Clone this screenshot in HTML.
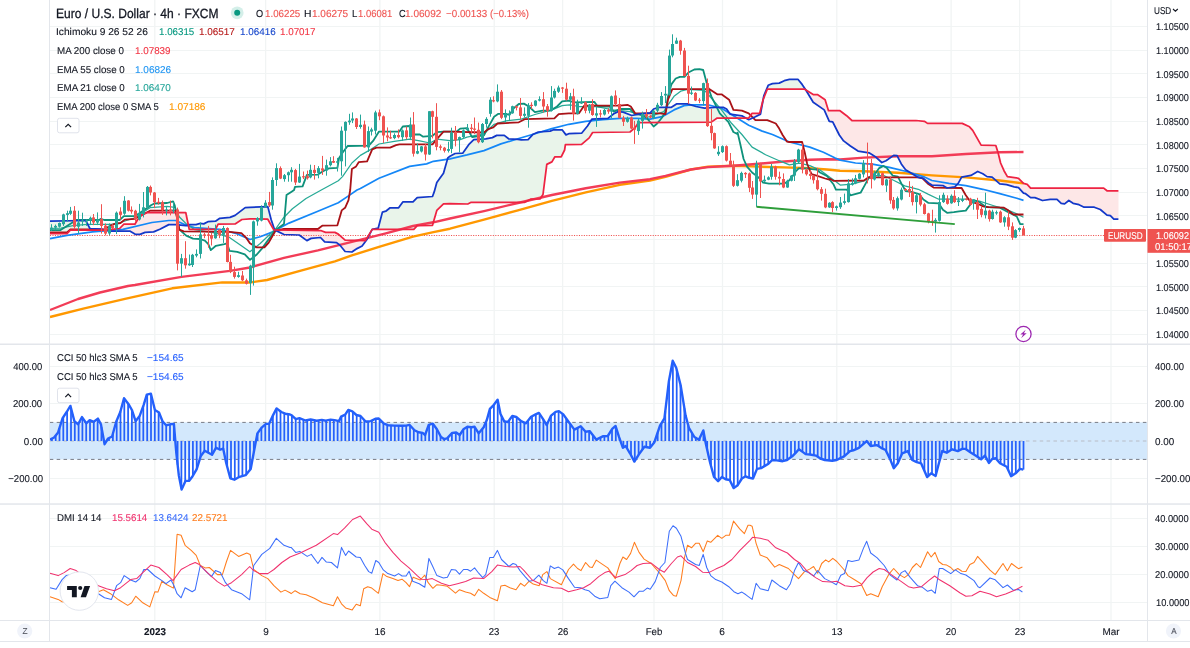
<!DOCTYPE html>
<html lang="en"><head><meta charset="utf-8"><title>EURUSD 4h chart</title>
<style>
html,body{margin:0;padding:0;background:#fff;}
body{width:1190px;height:648px;position:relative;overflow:hidden;font-family:"Liberation Sans",sans-serif;color:#131722;}
svg{position:absolute;left:0;top:0;}
.t{position:absolute;white-space:nowrap;line-height:1;transform:translateY(-50%);text-rendering:geometricPrecision;}
</style></head><body>
<svg width="1190" height="648" viewBox="0 0 1190 648" shape-rendering="auto">
<rect x="154.15" y="0" width="1.3" height="620" fill="#f1f4f4"/>
<rect x="264.95" y="0" width="1.3" height="620" fill="#f1f4f4"/>
<rect x="379.25" y="0" width="1.3" height="620" fill="#f1f4f4"/>
<rect x="493.55" y="0" width="1.3" height="620" fill="#f1f4f4"/>
<rect x="561.95" y="0" width="1.3" height="620" fill="#f1f4f4"/>
<rect x="653.35" y="0" width="1.3" height="620" fill="#f1f4f4"/>
<rect x="721.85" y="0" width="1.3" height="620" fill="#f1f4f4"/>
<rect x="836.15" y="0" width="1.3" height="620" fill="#f1f4f4"/>
<rect x="950.45" y="0" width="1.3" height="620" fill="#f1f4f4"/>
<rect x="1018.95" y="0" width="1.3" height="620" fill="#f1f4f4"/>
<rect x="1110.35" y="0" width="1.3" height="620" fill="#f1f4f4"/>
<rect x="50" y="26" width="1097" height="1" fill="#f1f4f4"/>
<rect x="50" y="50" width="1097" height="1" fill="#f1f4f4"/>
<rect x="50" y="73" width="1097" height="1" fill="#f1f4f4"/>
<rect x="50" y="97" width="1097" height="1" fill="#f1f4f4"/>
<rect x="50" y="121" width="1097" height="1" fill="#f1f4f4"/>
<rect x="50" y="144" width="1097" height="1" fill="#f1f4f4"/>
<rect x="50" y="168" width="1097" height="1" fill="#f1f4f4"/>
<rect x="50" y="192" width="1097" height="1" fill="#f1f4f4"/>
<rect x="50" y="215" width="1097" height="1" fill="#f1f4f4"/>
<rect x="50" y="239" width="1097" height="1" fill="#f1f4f4"/>
<rect x="50" y="263" width="1097" height="1" fill="#f1f4f4"/>
<rect x="50" y="286" width="1097" height="1" fill="#f1f4f4"/>
<rect x="50" y="310" width="1097" height="1" fill="#f1f4f4"/>
<rect x="50" y="334" width="1097" height="1" fill="#f1f4f4"/>
<rect x="50" y="366" width="1097" height="1" fill="#f1f4f4"/>
<rect x="50" y="403" width="1097" height="1" fill="#f1f4f4"/>
<rect x="50" y="478" width="1097" height="1" fill="#f1f4f4"/>
<rect x="50" y="518" width="1097" height="1" fill="#f1f4f4"/>
<rect x="50" y="546" width="1097" height="1" fill="#f1f4f4"/>
<rect x="50" y="574" width="1097" height="1" fill="#f1f4f4"/>
<rect x="50" y="602" width="1097" height="1" fill="#f1f4f4"/>
<path d="M50.0,221.2 L50.5,221.2 L51.0,221.2 L51.5,221.2 L52.0,221.1 L52.5,221.1 L53.0,221.1 L53.5,221.1 L54.0,221.1 L54.5,221.1 L55.0,221.1 L55.5,221.1 L56.0,221.1 L56.5,221.1 L57.0,221.0 L57.5,221.0 L58.0,221.0 L58.5,221.0 L59.0,221.0 L59.5,221.0 L60.0,221.0 L60.5,221.0 L61.0,221.0 L61.5,221.0 L62.0,221.0 L62.5,220.9 L63.0,220.9 L63.5,220.9 L64.0,220.9 L64.5,220.9 L65.0,220.9 L65.5,220.9 L66.0,220.9 L66.5,220.9 L67.0,220.9 L67.5,220.8 L68.0,220.8 L68.5,220.8 L69.0,220.8 L69.5,220.8 L70.0,220.8 L70.5,220.8 L71.0,220.8 L71.5,220.8 L72.0,220.8 L72.5,220.8 L73.0,220.7 L73.5,220.7 L74.0,220.7 L74.5,220.7 L75.0,220.7 L75.5,220.7 L76.0,220.7 L76.5,220.7 L77.0,220.7 L77.5,220.7 L78.0,220.6 L78.5,220.6 L79.0,220.6 L79.5,220.6 L80.0,220.6 L80.5,220.6 L81.0,220.6 L81.5,220.6 L82.0,220.6 L82.5,220.6 L83.0,220.6 L83.5,220.5 L84.0,220.5 L84.5,220.5 L85.0,220.5 L85.5,220.5 L86.0,221.2 L86.5,222.1 L87.0,223.0 L87.5,224.0 L88.0,224.9 L88.5,225.9 L89.0,226.8 L89.5,227.7 L90.0,228.5 L90.5,228.5 L91.0,228.5 L91.5,228.6 L92.0,228.6 L92.5,228.6 L93.0,228.6 L93.5,228.6 L94.0,228.7 L94.5,228.7 L95.0,228.7 L95.5,228.7 L96.0,228.8 L96.5,228.8 L97.0,228.8 L97.5,228.8 L98.0,228.9 L98.5,228.9 L99.0,228.9 L99.5,228.9 L100.0,228.9 L100.5,229.0 L101.0,229.0 L101.5,229.1 L102.0,229.2 L102.5,229.4 L103.0,229.5 L103.5,229.6 L104.0,229.7 L104.5,229.8 L105.0,230.0 L105.0,230.1 L104.5,230.2 L104.0,230.2 L103.5,230.2 L103.0,230.2 L102.5,230.2 L102.0,230.2 L101.5,230.2 L101.0,230.2 L100.5,230.2 L100.0,230.2 L99.5,230.2 L99.0,230.2 L98.5,230.2 L98.0,230.2 L97.5,230.2 L97.0,230.2 L96.5,230.2 L96.0,230.2 L95.5,230.2 L95.0,230.2 L94.5,230.2 L94.0,230.2 L93.5,230.2 L93.0,230.2 L92.5,230.2 L92.0,230.2 L91.5,230.2 L91.0,230.2 L90.5,230.2 L90.0,230.2 L89.5,230.2 L89.0,230.2 L88.5,230.2 L88.0,230.2 L87.5,230.2 L87.0,230.2 L86.5,230.2 L86.0,230.2 L85.5,230.2 L85.0,230.2 L84.5,230.2 L84.0,230.2 L83.5,230.2 L83.0,230.2 L82.5,230.2 L82.0,230.2 L81.5,230.2 L81.0,230.2 L80.5,230.2 L80.0,230.2 L79.5,230.2 L79.0,230.2 L78.5,230.2 L78.0,230.2 L77.5,230.2 L77.0,230.2 L76.5,230.2 L76.0,230.2 L75.5,230.2 L75.0,230.2 L74.5,230.2 L74.0,230.2 L73.5,230.2 L73.0,230.2 L72.5,230.2 L72.0,230.2 L71.5,230.2 L71.0,230.2 L70.5,230.2 L70.0,230.6 L69.5,231.1 L69.0,231.6 L68.5,232.1 L68.0,232.6 L67.5,233.1 L67.0,233.6 L66.5,233.6 L66.0,233.6 L65.5,233.6 L65.0,233.6 L64.5,233.6 L64.0,233.6 L63.5,233.6 L63.0,233.6 L62.5,233.6 L62.0,233.6 L61.5,233.6 L61.0,233.6 L60.5,233.6 L60.0,233.6 L59.5,233.6 L59.0,233.6 L58.5,233.6 L58.0,233.6 L57.5,233.6 L57.0,233.6 L56.5,233.6 L56.0,233.6 L55.5,233.6 L55.0,233.6 L54.5,233.6 L54.0,233.6 L53.5,233.6 L53.0,233.6 L52.5,233.6 L52.0,233.6 L51.5,233.6 L51.0,233.6 L50.5,233.6 L50.0,233.6Z" fill="#e9f4ea" stroke="none"/>
<path d="M188.5,224.8 L189.0,224.6 L189.5,224.6 L190.0,224.6 L190.5,224.6 L191.0,224.6 L191.5,224.6 L192.0,224.6 L192.5,224.6 L193.0,224.6 L193.5,224.6 L194.0,224.6 L194.5,224.6 L195.0,224.6 L195.5,224.6 L196.0,224.6 L196.5,224.4 L197.0,224.3 L197.5,224.2 L198.0,224.0 L198.5,223.9 L199.0,223.7 L199.5,223.6 L200.0,223.5 L200.5,223.4 L201.0,223.5 L201.5,223.6 L202.0,223.6 L202.5,223.7 L203.0,223.8 L203.5,223.9 L204.0,223.7 L204.5,223.5 L205.0,223.2 L205.5,222.9 L206.0,222.7 L206.5,222.4 L207.0,222.2 L207.5,221.9 L208.0,221.7 L208.5,221.6 L209.0,221.6 L209.5,221.6 L210.0,221.5 L210.5,221.5 L211.0,221.5 L211.5,221.4 L212.0,221.4 L212.5,221.4 L213.0,221.3 L213.5,221.3 L214.0,221.3 L214.5,221.2 L215.0,221.2 L215.5,221.2 L216.0,220.9 L216.5,220.5 L217.0,220.2 L217.5,219.8 L218.0,219.5 L218.5,219.2 L219.0,218.8 L219.5,218.5 L220.0,218.3 L220.5,218.2 L221.0,218.2 L221.5,218.2 L222.0,218.1 L222.5,218.1 L223.0,218.0 L223.5,218.0 L224.0,217.9 L224.5,217.9 L225.0,217.9 L225.5,217.8 L226.0,217.8 L226.5,217.7 L227.0,217.7 L227.5,217.7 L228.0,217.6 L228.5,217.6 L229.0,217.5 L229.5,217.5 L230.0,217.4 L230.5,217.2 L231.0,217.0 L231.5,216.8 L232.0,216.6 L232.5,216.4 L233.0,216.2 L233.5,216.0 L234.0,215.8 L234.5,215.6 L235.0,215.4 L235.5,215.1 L236.0,214.7 L236.5,214.3 L237.0,213.9 L237.5,213.5 L238.0,213.2 L238.5,212.8 L239.0,212.4 L239.5,212.0 L240.0,211.6 L240.5,211.2 L241.0,210.9 L241.5,210.5 L242.0,210.1 L242.5,209.7 L243.0,209.3 L243.5,208.9 L244.0,208.6 L244.5,208.2 L245.0,207.8 L245.5,207.6 L246.0,207.5 L246.5,207.5 L247.0,207.5 L247.5,207.4 L248.0,207.4 L248.5,207.4 L249.0,207.3 L249.5,207.3 L250.0,207.3 L250.5,207.2 L251.0,207.2 L251.5,207.2 L252.0,207.2 L252.5,207.2 L253.0,207.2 L253.5,207.1 L254.0,207.1 L254.5,207.1 L255.0,207.1 L255.5,207.1 L256.0,207.0 L256.5,207.0 L257.0,207.0 L257.5,207.0 L258.0,207.0 L258.5,207.0 L259.0,206.9 L259.5,206.9 L260.0,206.9 L260.5,206.9 L261.0,206.9 L261.5,206.9 L262.0,206.8 L262.5,206.8 L263.0,206.8 L263.5,206.8 L264.0,206.8 L264.5,206.8 L265.0,206.7 L265.5,206.7 L266.0,206.7 L266.5,206.7 L267.0,206.7 L267.5,206.6 L268.0,207.3 L268.5,209.2 L269.0,211.2 L269.5,213.1 L270.0,215.0 L270.5,216.9 L271.0,218.9 L271.5,220.5 L272.0,222.0 L272.5,223.5 L273.0,225.0 L273.5,226.5 L274.0,228.0 L274.5,229.5 L274.5,229.9 L274.0,229.9 L273.5,229.4 L273.0,228.5 L272.5,227.6 L272.0,226.7 L271.5,225.8 L271.0,224.9 L270.5,224.0 L270.0,223.1 L269.5,222.2 L269.0,221.3 L268.5,220.4 L268.0,219.5 L267.5,219.2 L267.0,219.2 L266.5,219.2 L266.0,219.2 L265.5,219.1 L265.0,219.1 L264.5,219.1 L264.0,219.1 L263.5,219.1 L263.0,219.1 L262.5,219.1 L262.0,219.1 L261.5,219.1 L261.0,219.0 L260.5,219.0 L260.0,219.0 L259.5,219.0 L259.0,219.0 L258.5,219.0 L258.0,219.0 L257.5,219.0 L257.0,219.0 L256.5,218.9 L256.0,218.9 L255.5,218.9 L255.0,218.9 L254.5,218.9 L254.0,218.9 L253.5,218.9 L253.0,218.9 L252.5,218.9 L252.0,218.8 L251.5,218.8 L251.0,218.8 L250.5,218.8 L250.0,218.8 L249.5,218.8 L249.0,218.9 L248.5,218.9 L248.0,219.0 L247.5,219.0 L247.0,219.1 L246.5,219.1 L246.0,219.1 L245.5,219.2 L245.0,219.2 L244.5,219.3 L244.0,219.3 L243.5,219.3 L243.0,219.4 L242.5,219.4 L242.0,219.5 L241.5,219.7 L241.0,220.0 L240.5,220.4 L240.0,220.7 L239.5,221.0 L239.0,221.3 L238.5,221.7 L238.0,222.0 L237.5,222.3 L237.0,222.6 L236.5,223.0 L236.0,223.3 L235.5,223.6 L235.0,223.9 L234.5,223.9 L234.0,223.9 L233.5,223.9 L233.0,223.9 L232.5,223.9 L232.0,224.0 L231.5,224.0 L231.0,224.0 L230.5,224.0 L230.0,224.0 L229.5,224.0 L229.0,224.0 L228.5,224.0 L228.0,224.0 L227.5,224.0 L227.0,224.1 L226.5,224.1 L226.0,224.1 L225.5,224.1 L225.0,224.1 L224.5,224.1 L224.0,224.1 L223.5,224.1 L223.0,224.1 L222.5,224.1 L222.0,224.2 L221.5,224.2 L221.0,224.2 L220.5,224.2 L220.0,224.2 L219.5,224.2 L219.0,224.2 L218.5,224.2 L218.0,224.4 L217.5,225.4 L217.0,226.4 L216.5,227.4 L216.0,228.4 L215.5,229.3 L215.0,229.3 L214.5,229.3 L214.0,229.3 L213.5,229.3 L213.0,229.3 L212.5,229.3 L212.0,229.3 L211.5,229.3 L211.0,229.3 L210.5,229.3 L210.0,229.3 L209.5,229.3 L209.0,229.3 L208.5,229.3 L208.0,229.3 L207.5,229.3 L207.0,229.3 L206.5,229.3 L206.0,229.3 L205.5,229.3 L205.0,229.3 L204.5,229.3 L204.0,229.3 L203.5,229.3 L203.0,229.3 L202.5,229.3 L202.0,229.3 L201.5,229.3 L201.0,229.3 L200.5,229.3 L200.0,229.3 L199.5,229.3 L199.0,229.3 L198.5,229.3 L198.0,229.3 L197.5,229.3 L197.0,229.3 L196.5,229.3 L196.0,229.3 L195.5,229.3 L195.0,229.3 L194.5,229.3 L194.0,229.3 L193.5,229.3 L193.0,229.3 L192.5,229.3 L192.0,229.3 L191.5,229.3 L191.0,229.3 L190.5,229.3 L190.0,229.3 L189.5,229.3 L189.0,228.3 L188.5,225.8Z" fill="#e9f4ea" stroke="none"/>
<path d="M372.5,229.3 L373.0,229.2 L373.5,229.1 L374.0,229.0 L374.5,228.9 L375.0,228.8 L375.5,228.7 L376.0,228.6 L376.5,228.5 L377.0,228.4 L377.5,228.3 L378.0,228.2 L378.5,227.0 L379.0,225.1 L379.5,223.2 L380.0,221.3 L380.5,219.4 L381.0,217.5 L381.5,215.6 L382.0,213.7 L382.5,212.1 L383.0,211.9 L383.5,211.8 L384.0,211.7 L384.5,211.6 L385.0,211.4 L385.5,211.3 L386.0,211.1 L386.5,210.7 L387.0,210.3 L387.5,209.9 L388.0,209.5 L388.5,209.1 L389.0,208.7 L389.5,208.3 L390.0,207.9 L390.5,207.8 L391.0,207.8 L391.5,207.8 L392.0,207.8 L392.5,207.8 L393.0,207.8 L393.5,207.8 L394.0,207.8 L394.5,207.8 L395.0,207.8 L395.5,207.8 L396.0,207.8 L396.5,207.8 L397.0,207.8 L397.5,207.8 L398.0,207.8 L398.5,207.8 L399.0,207.2 L399.5,206.5 L400.0,205.8 L400.5,205.1 L401.0,204.4 L401.5,203.7 L402.0,203.0 L402.5,202.3 L403.0,201.9 L403.5,201.9 L404.0,201.9 L404.5,201.9 L405.0,201.9 L405.5,201.9 L406.0,201.9 L406.5,201.9 L407.0,201.9 L407.5,201.9 L408.0,201.9 L408.5,201.9 L409.0,201.9 L409.5,201.9 L410.0,201.9 L410.5,201.9 L411.0,201.9 L411.5,201.9 L412.0,201.9 L412.5,201.9 L413.0,201.9 L413.5,201.4 L414.0,200.9 L414.5,200.4 L415.0,199.9 L415.5,199.4 L416.0,198.9 L416.5,198.4 L417.0,197.9 L417.5,197.6 L418.0,197.6 L418.5,197.5 L419.0,197.5 L419.5,197.5 L420.0,197.4 L420.5,197.4 L421.0,197.3 L421.5,197.3 L422.0,197.3 L422.5,197.2 L423.0,197.2 L423.5,197.2 L424.0,197.1 L424.5,197.1 L425.0,197.0 L425.5,197.0 L426.0,197.0 L426.5,196.9 L427.0,196.9 L427.5,196.8 L428.0,196.8 L428.5,196.8 L429.0,196.7 L429.5,196.7 L430.0,196.6 L430.5,196.6 L431.0,196.6 L431.5,196.5 L432.0,196.5 L432.5,196.5 L433.0,195.1 L433.5,193.8 L434.0,192.4 L434.5,190.8 L435.0,189.0 L435.5,187.1 L436.0,185.3 L436.5,183.5 L437.0,182.2 L437.5,181.5 L438.0,180.8 L438.5,180.1 L439.0,179.4 L439.5,178.8 L440.0,178.1 L440.5,177.4 L441.0,176.7 L441.5,176.0 L442.0,175.3 L442.5,174.6 L443.0,173.9 L443.5,173.3 L444.0,171.6 L444.5,169.8 L445.0,168.0 L445.5,166.2 L446.0,164.4 L446.5,162.6 L447.0,160.8 L447.5,159.0 L448.0,157.8 L448.5,157.4 L449.0,157.0 L449.5,156.6 L450.0,156.2 L450.5,156.0 L451.0,155.7 L451.5,155.4 L452.0,155.2 L452.5,154.9 L453.0,154.6 L453.5,154.4 L454.0,154.1 L454.5,153.8 L455.0,153.6 L455.5,153.5 L456.0,153.5 L456.5,153.5 L457.0,153.4 L457.5,153.4 L458.0,153.4 L458.5,153.4 L459.0,153.4 L459.5,153.3 L460.0,153.3 L460.5,153.3 L461.0,153.3 L461.5,153.2 L462.0,153.2 L462.5,153.2 L463.0,152.8 L463.5,152.1 L464.0,151.4 L464.5,150.7 L465.0,150.0 L465.5,149.2 L466.0,148.5 L466.5,147.8 L467.0,147.1 L467.5,146.4 L468.0,145.7 L468.5,145.0 L469.0,144.4 L469.5,143.9 L470.0,143.4 L470.5,142.9 L471.0,142.4 L471.5,141.9 L472.0,141.4 L472.5,140.9 L473.0,140.4 L473.5,139.9 L474.0,139.6 L474.5,139.6 L475.0,139.5 L475.5,139.5 L476.0,139.5 L476.5,139.4 L477.0,139.4 L477.5,139.3 L478.0,139.3 L478.5,139.3 L479.0,139.2 L479.5,139.2 L480.0,139.2 L480.5,139.1 L481.0,139.1 L481.5,139.1 L482.0,139.0 L482.5,139.0 L483.0,139.0 L483.5,138.9 L484.0,138.9 L484.5,138.8 L485.0,138.8 L485.5,138.8 L486.0,138.7 L486.5,138.6 L487.0,138.5 L487.5,138.4 L488.0,138.4 L488.5,138.3 L489.0,138.2 L489.5,138.1 L490.0,138.0 L490.5,137.9 L491.0,137.8 L491.5,137.7 L492.0,137.7 L492.5,137.5 L493.0,137.3 L493.5,137.0 L494.0,136.8 L494.5,136.5 L495.0,136.2 L495.5,136.0 L496.0,135.7 L496.5,135.5 L497.0,135.4 L497.5,135.4 L498.0,135.4 L498.5,135.4 L499.0,135.4 L499.5,135.4 L500.0,135.4 L500.5,135.4 L501.0,135.4 L501.5,135.4 L502.0,135.4 L502.5,135.4 L503.0,135.4 L503.5,135.4 L504.0,135.4 L504.5,135.5 L505.0,135.9 L505.5,136.3 L506.0,136.7 L506.5,137.1 L507.0,137.5 L507.5,137.9 L508.0,138.3 L508.5,138.7 L509.0,138.8 L509.5,138.8 L510.0,138.8 L510.5,138.9 L511.0,138.9 L511.5,138.9 L512.0,138.9 L512.5,139.0 L513.0,139.0 L513.5,139.0 L514.0,139.1 L514.5,139.1 L515.0,139.1 L515.5,139.1 L516.0,139.2 L516.5,139.2 L517.0,139.2 L517.5,139.2 L518.0,139.3 L518.5,139.4 L519.0,139.5 L519.5,139.6 L520.0,139.7 L520.5,139.8 L521.0,139.9 L521.5,139.9 L522.0,139.9 L522.5,139.9 L523.0,139.9 L523.5,139.8 L524.0,139.8 L524.5,139.8 L525.0,139.8 L525.5,139.7 L526.0,139.7 L526.5,139.7 L527.0,139.7 L527.5,139.6 L528.0,139.6 L528.5,139.2 L529.0,138.6 L529.5,138.1 L530.0,137.6 L530.5,137.0 L531.0,136.5 L531.5,136.0 L532.0,135.4 L532.5,134.9 L533.0,134.4 L533.5,134.0 L534.0,133.8 L534.5,133.6 L535.0,133.4 L535.5,133.2 L536.0,133.0 L536.5,132.7 L537.0,132.5 L537.5,132.3 L538.0,132.1 L538.5,132.0 L539.0,131.9 L539.5,131.9 L540.0,131.8 L540.5,131.8 L541.0,131.8 L541.5,131.7 L542.0,131.7 L542.5,131.7 L543.0,131.6 L543.5,131.6 L544.0,131.6 L544.5,131.5 L545.0,131.5 L545.5,131.5 L546.0,131.4 L546.5,131.4 L547.0,131.3 L547.5,131.3 L548.0,131.3 L548.5,131.2 L549.0,131.2 L549.5,131.2 L550.0,131.1 L550.5,131.0 L551.0,130.8 L551.5,130.6 L552.0,130.4 L552.5,130.2 L553.0,130.0 L553.5,129.8 L554.0,129.8 L554.5,129.8 L555.0,129.8 L555.5,129.8 L556.0,129.8 L556.5,129.8 L557.0,129.8 L557.5,129.8 L558.0,129.8 L558.5,129.8 L559.0,129.8 L559.5,129.8 L560.0,129.8 L560.5,129.8 L561.0,129.8 L561.5,129.8 L562.0,129.8 L562.5,130.3 L563.0,131.0 L563.5,131.6 L564.0,132.3 L564.5,133.0 L565.0,133.6 L565.5,134.3 L566.0,134.8 L566.5,134.6 L567.0,134.4 L567.5,134.2 L568.0,134.0 L568.5,133.8 L569.0,133.7 L569.5,133.6 L570.0,133.6 L570.5,133.6 L571.0,133.6 L571.5,133.6 L572.0,133.5 L572.5,133.5 L573.0,133.5 L573.5,133.5 L574.0,133.5 L574.5,133.4 L575.0,133.4 L575.5,133.4 L576.0,133.4 L576.5,133.4 L577.0,133.3 L577.5,133.3 L578.0,133.3 L578.5,133.3 L579.0,133.3 L579.5,133.2 L580.0,133.2 L580.5,133.2 L581.0,133.2 L581.5,133.2 L582.0,132.7 L582.5,132.1 L583.0,131.5 L583.5,130.9 L584.0,130.3 L584.5,129.7 L585.0,129.1 L585.5,128.5 L586.0,127.9 L586.5,127.3 L587.0,126.7 L587.5,126.1 L588.0,125.3 L588.5,124.5 L589.0,123.7 L589.5,122.9 L590.0,122.1 L590.5,121.3 L591.0,120.5 L591.5,119.7 L592.0,119.2 L592.5,119.2 L593.0,119.2 L593.5,119.1 L594.0,119.1 L594.5,119.1 L595.0,119.1 L595.5,119.0 L596.0,119.0 L596.5,119.0 L597.0,119.0 L597.5,118.9 L598.0,118.9 L598.5,118.9 L599.0,118.9 L599.5,118.8 L600.0,118.8 L600.5,118.8 L601.0,118.7 L601.5,118.7 L602.0,118.7 L602.5,118.7 L603.0,118.6 L603.5,118.6 L604.0,118.6 L604.5,118.6 L605.0,118.5 L605.5,118.5 L606.0,118.5 L606.5,118.5 L607.0,118.4 L607.5,118.4 L608.0,118.3 L608.5,117.9 L609.0,117.5 L609.5,117.1 L610.0,116.8 L610.5,116.4 L611.0,116.0 L611.5,115.6 L612.0,115.2 L612.5,114.8 L613.0,114.4 L613.5,114.1 L614.0,113.7 L614.5,113.5 L615.0,113.2 L615.5,112.9 L616.0,112.7 L616.5,112.4 L617.0,112.2 L617.5,111.9 L618.0,111.6 L618.5,111.6 L619.0,111.7 L619.5,111.7 L620.0,111.8 L620.5,111.8 L621.0,111.9 L621.5,111.9 L622.0,112.0 L622.5,112.0 L623.0,112.1 L623.5,112.2 L624.0,112.4 L624.5,112.6 L625.0,112.8 L625.5,113.0 L626.0,113.2 L626.5,113.4 L627.0,113.6 L627.5,113.8 L628.0,114.0 L628.5,114.2 L629.0,114.4 L629.5,114.6 L630.0,114.8 L630.5,115.0 L631.0,115.2 L631.5,115.4 L632.0,115.4 L632.5,115.3 L633.0,115.2 L633.5,115.1 L634.0,115.0 L634.5,114.9 L635.0,114.8 L635.5,114.7 L636.0,114.6 L636.5,114.5 L637.0,114.4 L637.5,114.3 L638.0,114.2 L638.5,114.1 L639.0,114.0 L639.5,113.9 L640.0,113.8 L640.5,113.8 L641.0,113.7 L641.5,113.7 L642.0,113.6 L642.5,113.6 L643.0,113.6 L643.5,113.5 L644.0,113.5 L644.5,113.4 L645.0,113.4 L645.5,113.3 L646.0,113.3 L646.5,113.3 L647.0,113.2 L647.5,113.2 L648.0,113.1 L648.5,113.1 L649.0,113.0 L649.5,113.0 L650.0,113.0 L650.5,112.6 L651.0,112.0 L651.5,111.4 L652.0,110.9 L652.5,110.3 L653.0,109.7 L653.5,109.1 L654.0,108.9 L654.5,108.7 L655.0,108.6 L655.5,108.4 L656.0,108.2 L656.5,108.1 L657.0,107.9 L657.5,107.7 L658.0,107.6 L658.5,107.4 L659.0,107.3 L659.5,107.3 L660.0,107.3 L660.5,107.3 L661.0,107.3 L661.5,107.3 L662.0,107.3 L662.5,107.3 L663.0,107.3 L663.5,107.3 L664.0,107.3 L664.5,107.3 L665.0,107.3 L665.5,107.3 L666.0,107.3 L666.5,107.3 L667.0,107.3 L667.5,107.3 L668.0,107.3 L668.5,107.3 L669.0,107.3 L669.5,107.3 L670.0,107.3 L670.5,107.3 L671.0,107.3 L671.5,107.3 L672.0,106.9 L672.5,106.6 L673.0,106.3 L673.5,105.9 L674.0,105.6 L674.5,105.3 L675.0,104.9 L675.5,104.6 L676.0,104.3 L676.5,103.9 L677.0,103.9 L677.5,103.9 L678.0,103.9 L678.5,103.9 L679.0,103.9 L679.5,103.9 L680.0,103.9 L680.5,103.9 L681.0,103.9 L681.5,103.9 L682.0,103.9 L682.5,103.9 L683.0,103.9 L683.5,103.9 L684.0,103.9 L684.5,103.9 L685.0,103.9 L685.5,103.9 L686.0,103.9 L686.5,103.9 L687.0,103.9 L687.5,103.9 L688.0,104.1 L688.5,104.2 L689.0,104.4 L689.5,104.5 L690.0,104.7 L690.5,104.8 L691.0,105.0 L691.5,105.1 L692.0,105.3 L692.5,105.4 L693.0,105.6 L693.5,105.7 L694.0,105.9 L694.5,106.0 L695.0,106.2 L695.5,106.3 L696.0,106.5 L696.5,106.6 L697.0,106.7 L697.5,106.8 L698.0,106.9 L698.5,107.0 L699.0,107.1 L699.5,107.2 L700.0,107.3 L700.5,107.4 L701.0,107.5 L701.5,107.6 L702.0,107.7 L702.5,107.8 L703.0,107.9 L703.5,108.0 L704.0,108.1 L704.5,108.2 L705.0,108.1 L705.5,108.1 L706.0,108.0 L706.5,108.0 L707.0,107.9 L707.5,107.9 L708.0,107.8 L708.5,107.8 L709.0,107.8 L709.5,107.7 L710.0,107.7 L710.5,107.7 L711.0,107.6 L711.5,107.6 L712.0,107.5 L712.5,107.5 L713.0,107.5 L713.5,107.4 L714.0,107.4 L714.5,107.4 L715.0,107.3 L715.5,107.3 L716.0,107.3 L716.5,107.3 L717.0,107.3 L717.5,107.3 L718.0,107.3 L718.5,107.3 L719.0,107.3 L719.5,107.3 L720.0,107.3 L720.5,107.3 L721.0,107.3 L721.5,107.3 L722.0,107.3 L722.5,107.3 L723.0,107.3 L723.5,107.5 L724.0,107.7 L724.5,108.0 L725.0,108.2 L725.5,108.5 L726.0,108.7 L726.5,109.0 L727.0,109.7 L727.5,110.4 L728.0,111.2 L728.5,111.9 L729.0,112.7 L729.5,113.4 L730.0,114.1 L730.5,114.2 L731.0,114.3 L731.5,114.4 L732.0,114.4 L732.5,114.5 L733.0,114.6 L733.5,114.6 L734.0,114.7 L734.5,114.8 L735.0,114.9 L735.5,114.9 L736.0,115.0 L736.5,115.1 L737.0,115.1 L737.5,115.2 L738.0,115.3 L738.5,115.4 L739.0,115.4 L739.5,115.5 L740.0,115.6 L740.5,115.6 L741.0,115.7 L741.5,115.8 L742.0,115.9 L742.5,116.2 L743.0,116.5 L743.5,116.8 L744.0,117.1 L744.5,117.3 L745.0,117.6 L745.5,117.9 L745.5,118.0 L745.0,118.0 L744.5,118.0 L744.0,118.0 L743.5,118.0 L743.0,118.0 L742.5,118.0 L742.0,118.0 L741.5,118.0 L741.0,118.0 L740.5,118.0 L740.0,118.0 L739.5,118.0 L739.0,118.0 L738.5,118.0 L738.0,118.0 L737.5,118.0 L737.0,118.0 L736.5,118.0 L736.0,118.0 L735.5,118.0 L735.0,118.0 L734.5,118.0 L734.0,118.0 L733.5,118.0 L733.0,118.0 L732.5,118.0 L732.0,118.0 L731.5,118.0 L731.0,118.0 L730.5,118.0 L730.0,118.0 L729.5,118.0 L729.0,118.0 L728.5,118.0 L728.0,118.0 L727.5,118.0 L727.0,118.0 L726.5,118.0 L726.0,118.0 L725.5,118.0 L725.0,118.0 L724.5,118.0 L724.0,118.0 L723.5,118.0 L723.0,118.0 L722.5,118.0 L722.0,118.0 L721.5,118.0 L721.0,118.0 L720.5,118.0 L720.0,118.0 L719.5,118.0 L719.0,118.0 L718.5,118.0 L718.0,118.0 L717.5,118.0 L717.0,118.2 L716.5,118.6 L716.0,118.9 L715.5,119.2 L715.0,119.6 L714.5,119.9 L714.0,120.3 L713.5,120.6 L713.0,121.0 L712.5,121.3 L712.0,121.6 L711.5,122.0 L711.0,122.1 L710.5,122.1 L710.0,122.1 L709.5,122.1 L709.0,122.1 L708.5,122.1 L708.0,122.1 L707.5,122.1 L707.0,122.1 L706.5,122.1 L706.0,122.2 L705.5,122.2 L705.0,122.2 L704.5,122.2 L704.0,122.2 L703.5,122.2 L703.0,122.2 L702.5,122.2 L702.0,122.2 L701.5,122.2 L701.0,122.2 L700.5,122.2 L700.0,122.2 L699.5,122.2 L699.0,122.2 L698.5,122.2 L698.0,122.2 L697.5,122.2 L697.0,122.2 L696.5,122.2 L696.0,122.2 L695.5,122.2 L695.0,122.2 L694.5,122.2 L694.0,122.2 L693.5,122.2 L693.0,122.2 L692.5,122.3 L692.0,122.3 L691.5,122.3 L691.0,122.3 L690.5,122.3 L690.0,122.3 L689.5,122.3 L689.0,122.3 L688.5,122.3 L688.0,122.3 L687.5,122.3 L687.0,122.3 L686.5,122.3 L686.0,122.3 L685.5,122.3 L685.0,122.3 L684.5,122.3 L684.0,122.3 L683.5,122.3 L683.0,122.3 L682.5,122.3 L682.0,122.3 L681.5,122.3 L681.0,122.3 L680.5,122.3 L680.0,122.3 L679.5,122.3 L679.0,122.3 L678.5,122.4 L678.0,122.4 L677.5,122.4 L677.0,122.4 L676.5,122.4 L676.0,122.4 L675.5,122.4 L675.0,122.4 L674.5,122.4 L674.0,122.4 L673.5,122.4 L673.0,122.4 L672.5,122.4 L672.0,122.4 L671.5,122.4 L671.0,122.4 L670.5,122.4 L670.0,122.4 L669.5,122.4 L669.0,122.4 L668.5,122.4 L668.0,122.4 L667.5,122.4 L667.0,122.4 L666.5,122.4 L666.0,122.4 L665.5,122.4 L665.0,122.5 L664.5,122.5 L664.0,122.5 L663.5,122.5 L663.0,122.5 L662.5,122.5 L662.0,122.5 L661.5,122.5 L661.0,122.5 L660.5,122.5 L660.0,122.5 L659.5,122.5 L659.0,122.5 L658.5,122.5 L658.0,122.5 L657.5,122.5 L657.0,122.5 L656.5,122.5 L656.0,122.5 L655.5,122.5 L655.0,122.5 L654.5,122.5 L654.0,122.5 L653.5,122.5 L653.0,122.5 L652.5,122.5 L652.0,122.5 L651.5,122.5 L651.0,122.6 L650.5,122.6 L650.0,122.6 L649.5,122.6 L649.0,122.6 L648.5,122.6 L648.0,122.6 L647.5,122.6 L647.0,122.6 L646.5,122.6 L646.0,122.6 L645.5,122.6 L645.0,122.6 L644.5,122.6 L644.0,122.6 L643.5,122.6 L643.0,122.6 L642.5,122.6 L642.0,122.6 L641.5,122.6 L641.0,122.6 L640.5,122.6 L640.0,122.6 L639.5,122.6 L639.0,122.6 L638.5,122.6 L638.0,123.3 L637.5,124.1 L637.0,124.8 L636.5,125.6 L636.0,126.3 L635.5,127.1 L635.0,127.8 L634.5,128.2 L634.0,128.6 L633.5,129.0 L633.0,129.4 L632.5,129.9 L632.0,130.3 L631.5,130.7 L631.0,131.1 L630.5,131.5 L630.0,131.9 L629.5,132.0 L629.0,132.0 L628.5,132.0 L628.0,132.0 L627.5,132.0 L627.0,132.0 L626.5,132.0 L626.0,132.0 L625.5,132.0 L625.0,132.0 L624.5,132.0 L624.0,132.1 L623.5,132.1 L623.0,132.1 L622.5,132.1 L622.0,132.1 L621.5,132.1 L621.0,132.1 L620.5,132.1 L620.0,132.1 L619.5,132.1 L619.0,132.1 L618.5,132.1 L618.0,132.1 L617.5,132.1 L617.0,132.1 L616.5,132.2 L616.0,132.2 L615.5,132.2 L615.0,132.2 L614.5,132.2 L614.0,132.2 L613.5,132.2 L613.0,132.2 L612.5,132.2 L612.0,132.2 L611.5,132.2 L611.0,132.2 L610.5,132.2 L610.0,132.2 L609.5,132.2 L609.0,132.3 L608.5,132.3 L608.0,132.3 L607.5,132.3 L607.0,132.3 L606.5,132.3 L606.0,132.3 L605.5,132.3 L605.0,132.3 L604.5,132.3 L604.0,132.3 L603.5,132.3 L603.0,132.3 L602.5,132.3 L602.0,132.4 L601.5,132.4 L601.0,132.4 L600.5,132.4 L600.0,132.4 L599.5,132.4 L599.0,132.4 L598.5,132.4 L598.0,132.4 L597.5,132.4 L597.0,132.4 L596.5,132.4 L596.0,132.4 L595.5,132.4 L595.0,132.4 L594.5,132.5 L594.0,132.5 L593.5,132.5 L593.0,132.5 L592.5,132.7 L592.0,133.5 L591.5,134.3 L591.0,135.1 L590.5,135.9 L590.0,136.7 L589.5,137.5 L589.0,138.1 L588.5,138.5 L588.0,138.9 L587.5,139.4 L587.0,139.8 L586.5,140.2 L586.0,140.6 L585.5,141.1 L585.0,141.5 L584.5,141.9 L584.0,142.3 L583.5,142.7 L583.0,143.2 L582.5,143.6 L582.0,144.0 L581.5,144.4 L581.0,144.4 L580.5,144.4 L580.0,144.4 L579.5,144.4 L579.0,144.4 L578.5,144.4 L578.0,144.4 L577.5,144.4 L577.0,144.5 L576.5,144.5 L576.0,144.5 L575.5,144.5 L575.0,144.5 L574.5,144.5 L574.0,144.5 L573.5,144.5 L573.0,144.5 L572.5,144.6 L572.0,144.6 L571.5,144.6 L571.0,144.6 L570.5,144.6 L570.0,144.6 L569.5,144.6 L569.0,144.6 L568.5,144.6 L568.0,144.6 L567.5,144.7 L567.0,144.7 L566.5,144.7 L566.0,144.7 L565.5,144.7 L565.0,147.5 L564.5,150.2 L564.0,151.2 L563.5,152.2 L563.0,153.2 L562.5,154.2 L562.0,155.2 L561.5,156.2 L561.0,156.8 L560.5,156.8 L560.0,156.8 L559.5,156.8 L559.0,156.8 L558.5,156.8 L558.0,156.8 L557.5,156.8 L557.0,156.8 L556.5,156.8 L556.0,156.8 L555.5,156.8 L555.0,156.8 L554.5,157.5 L554.0,158.3 L553.5,159.2 L553.0,160.0 L552.5,160.8 L552.0,161.7 L551.5,162.1 L551.0,162.3 L550.5,162.6 L550.0,162.8 L549.5,163.1 L549.0,163.3 L548.5,163.6 L548.0,163.8 L547.5,164.1 L547.0,164.3 L546.5,166.6 L546.0,170.7 L545.5,174.7 L545.0,178.7 L544.5,182.7 L544.0,186.8 L543.5,190.8 L543.0,194.5 L542.5,195.3 L542.0,196.0 L541.5,196.7 L541.0,197.4 L540.5,198.1 L540.0,198.9 L539.5,198.9 L539.0,198.9 L538.5,199.0 L538.0,199.0 L537.5,199.0 L537.0,199.0 L536.5,199.0 L536.0,199.0 L535.5,199.1 L535.0,199.1 L534.5,199.1 L534.0,199.1 L533.5,199.1 L533.0,199.2 L532.5,199.2 L532.0,199.2 L531.5,199.2 L531.0,199.2 L530.5,199.3 L530.0,199.6 L529.5,199.8 L529.0,200.1 L528.5,200.3 L528.0,200.6 L527.5,200.9 L527.0,201.1 L526.5,201.4 L526.0,201.6 L525.5,201.9 L525.0,202.1 L524.5,202.3 L524.0,202.3 L523.5,202.3 L523.0,202.3 L522.5,202.3 L522.0,202.3 L521.5,202.3 L521.0,202.3 L520.5,202.3 L520.0,202.3 L519.5,202.3 L519.0,202.3 L518.5,202.3 L518.0,202.3 L517.5,202.3 L517.0,202.3 L516.5,202.3 L516.0,202.3 L515.5,202.3 L515.0,202.3 L514.5,202.3 L514.0,202.3 L513.5,202.3 L513.0,202.3 L512.5,202.3 L512.0,202.3 L511.5,202.3 L511.0,202.3 L510.5,202.3 L510.0,202.3 L509.5,202.3 L509.0,202.3 L508.5,202.3 L508.0,202.3 L507.5,202.3 L507.0,202.3 L506.5,202.3 L506.0,202.3 L505.5,202.3 L505.0,202.3 L504.5,202.3 L504.0,202.3 L503.5,202.3 L503.0,202.3 L502.5,202.3 L502.0,202.3 L501.5,202.3 L501.0,202.3 L500.5,202.3 L500.0,202.3 L499.5,202.3 L499.0,202.3 L498.5,202.3 L498.0,202.3 L497.5,202.3 L497.0,202.3 L496.5,202.3 L496.0,202.3 L495.5,202.3 L495.0,202.3 L494.5,202.3 L494.0,202.3 L493.5,202.3 L493.0,202.3 L492.5,202.3 L492.0,202.3 L491.5,202.3 L491.0,202.3 L490.5,202.3 L490.0,202.3 L489.5,202.3 L489.0,202.3 L488.5,202.3 L488.0,202.3 L487.5,202.3 L487.0,202.3 L486.5,202.3 L486.0,202.3 L485.5,202.3 L485.0,202.3 L484.5,202.3 L484.0,202.3 L483.5,202.3 L483.0,202.3 L482.5,202.3 L482.0,202.3 L481.5,202.3 L481.0,202.3 L480.5,202.3 L480.0,202.3 L479.5,202.3 L479.0,202.3 L478.5,202.3 L478.0,202.3 L477.5,202.3 L477.0,202.3 L476.5,202.3 L476.0,202.3 L475.5,202.3 L475.0,202.3 L474.5,202.3 L474.0,202.3 L473.5,202.3 L473.0,202.3 L472.5,202.3 L472.0,202.3 L471.5,202.3 L471.0,202.4 L470.5,202.7 L470.0,202.9 L469.5,203.2 L469.0,203.4 L468.5,203.7 L468.0,203.9 L467.5,204.0 L467.0,204.0 L466.5,204.0 L466.0,203.9 L465.5,203.9 L465.0,203.9 L464.5,203.9 L464.0,203.9 L463.5,203.9 L463.0,203.9 L462.5,203.9 L462.0,203.9 L461.5,203.8 L461.0,203.8 L460.5,203.8 L460.0,203.8 L459.5,203.8 L459.0,203.8 L458.5,203.8 L458.0,203.8 L457.5,203.8 L457.0,203.7 L456.5,203.7 L456.0,203.7 L455.5,203.7 L455.0,203.7 L454.5,203.7 L454.0,203.7 L453.5,203.7 L453.0,203.7 L452.5,203.6 L452.0,203.6 L451.5,203.6 L451.0,203.6 L450.5,203.6 L450.0,203.6 L449.5,203.6 L449.0,203.6 L448.5,203.7 L448.0,203.7 L447.5,203.7 L447.0,203.7 L446.5,203.8 L446.0,203.8 L445.5,203.8 L445.0,203.8 L444.5,203.9 L444.0,203.9 L443.5,204.0 L443.0,204.4 L442.5,204.9 L442.0,205.4 L441.5,205.9 L441.0,206.3 L440.5,206.8 L440.0,207.3 L439.5,207.8 L439.0,208.2 L438.5,208.7 L438.0,209.2 L437.5,209.7 L437.0,210.1 L436.5,211.3 L436.0,213.0 L435.5,214.8 L435.0,216.6 L434.5,218.3 L434.0,220.1 L433.5,221.8 L433.0,223.6 L432.5,225.3 L432.0,225.3 L431.5,225.3 L431.0,225.3 L430.5,225.4 L430.0,225.4 L429.5,225.4 L429.0,225.4 L428.5,225.4 L428.0,225.4 L427.5,225.4 L427.0,225.4 L426.5,225.4 L426.0,225.5 L425.5,225.5 L425.0,225.5 L424.5,225.5 L424.0,225.5 L423.5,225.5 L423.0,225.5 L422.5,225.5 L422.0,225.5 L421.5,225.6 L421.0,225.6 L420.5,225.6 L420.0,225.6 L419.5,225.6 L419.0,225.6 L418.5,225.6 L418.0,225.6 L417.5,225.6 L417.0,225.9 L416.5,226.5 L416.0,227.0 L415.5,227.6 L415.0,228.1 L414.5,228.7 L414.0,229.2 L413.5,229.4 L413.0,229.4 L412.5,229.4 L412.0,229.4 L411.5,229.4 L411.0,229.4 L410.5,229.4 L410.0,229.4 L409.5,229.4 L409.0,229.4 L408.5,229.4 L408.0,229.4 L407.5,229.4 L407.0,229.4 L406.5,229.4 L406.0,229.4 L405.5,229.4 L405.0,229.4 L404.5,229.4 L404.0,229.4 L403.5,229.4 L403.0,229.4 L402.5,229.4 L402.0,229.4 L401.5,229.4 L401.0,229.4 L400.5,229.4 L400.0,229.4 L399.5,229.4 L399.0,229.4 L398.5,229.4 L398.0,229.4 L397.5,229.4 L397.0,229.4 L396.5,229.4 L396.0,229.4 L395.5,229.4 L395.0,229.4 L394.5,229.4 L394.0,229.4 L393.5,229.4 L393.0,229.4 L392.5,229.4 L392.0,229.4 L391.5,229.4 L391.0,229.4 L390.5,229.4 L390.0,229.4 L389.5,229.4 L389.0,229.4 L388.5,229.4 L388.0,229.4 L387.5,229.4 L387.0,229.4 L386.5,229.4 L386.0,229.4 L385.5,229.4 L385.0,229.4 L384.5,229.4 L384.0,229.4 L383.5,229.4 L383.0,229.4 L382.5,229.4 L382.0,229.4 L381.5,229.4 L381.0,229.4 L380.5,229.4 L380.0,229.4 L379.5,229.4 L379.0,229.4 L378.5,229.4 L378.0,229.4 L377.5,229.4 L377.0,229.4 L376.5,229.4 L376.0,229.4 L375.5,229.4 L375.0,229.4 L374.5,229.4 L374.0,229.4 L373.5,229.4 L373.0,229.4 L372.5,229.4Z" fill="#e9f4ea" stroke="none"/>
<path d="M763.5,97.9 L764.0,95.3 L764.5,94.1 L765.0,92.9 L765.5,91.7 L766.0,90.5 L766.5,89.3 L767.0,88.1 L767.5,86.9 L768.0,85.7 L768.5,85.1 L769.0,84.9 L769.5,84.7 L770.0,84.5 L770.5,84.3 L771.0,84.1 L771.5,83.9 L772.0,83.7 L772.5,83.6 L773.0,83.5 L773.5,83.5 L774.0,83.5 L774.5,83.4 L775.0,83.4 L775.5,83.3 L776.0,83.3 L776.5,83.3 L777.0,83.2 L777.5,83.2 L778.0,83.2 L778.5,83.1 L779.0,83.1 L779.5,82.9 L780.0,82.7 L780.5,82.5 L781.0,82.2 L781.5,82.0 L782.0,81.8 L782.5,81.5 L783.0,81.3 L783.5,81.1 L784.0,80.8 L784.5,80.6 L785.0,80.5 L785.5,80.4 L786.0,80.2 L786.5,80.1 L787.0,80.0 L787.5,79.8 L788.0,79.7 L788.5,79.6 L789.0,79.4 L789.5,79.3 L790.0,79.3 L790.5,79.3 L791.0,79.3 L791.5,79.3 L792.0,79.3 L792.5,79.3 L793.0,79.3 L793.5,79.3 L794.0,79.3 L794.5,79.3 L795.0,79.3 L795.5,79.3 L796.0,79.3 L796.5,79.3 L797.0,79.3 L797.5,79.3 L798.0,79.5 L798.5,80.1 L799.0,80.7 L799.5,81.3 L800.0,81.9 L800.5,82.5 L801.0,83.1 L801.5,83.7 L802.0,84.3 L802.5,85.0 L803.0,85.7 L803.5,86.5 L804.0,87.2 L804.5,88.0 L805.0,88.7 L805.5,89.5 L805.5,89.7 L805.0,89.4 L804.5,89.2 L804.0,89.2 L803.5,89.2 L803.0,89.2 L802.5,89.2 L802.0,89.2 L801.5,89.2 L801.0,89.2 L800.5,89.2 L800.0,89.2 L799.5,89.2 L799.0,89.2 L798.5,89.2 L798.0,89.2 L797.5,89.2 L797.0,89.2 L796.5,89.2 L796.0,89.2 L795.5,89.2 L795.0,89.2 L794.5,89.2 L794.0,89.2 L793.5,89.2 L793.0,89.2 L792.5,89.2 L792.0,89.2 L791.5,89.2 L791.0,89.2 L790.5,89.2 L790.0,89.2 L789.5,89.2 L789.0,89.2 L788.5,89.2 L788.0,89.2 L787.5,89.2 L787.0,89.2 L786.5,89.2 L786.0,89.2 L785.5,89.2 L785.0,89.2 L784.5,89.2 L784.0,89.2 L783.5,89.2 L783.0,89.2 L782.5,89.2 L782.0,89.2 L781.5,89.2 L781.0,89.2 L780.5,89.2 L780.0,89.2 L779.5,89.2 L779.0,89.2 L778.5,89.2 L778.0,89.2 L777.5,89.2 L777.0,89.2 L776.5,89.2 L776.0,89.2 L775.5,89.2 L775.0,89.2 L774.5,89.2 L774.0,89.2 L773.5,89.2 L773.0,89.2 L772.5,89.2 L772.0,89.2 L771.5,89.2 L771.0,89.2 L770.5,89.2 L770.0,89.2 L769.5,89.2 L769.0,89.2 L768.5,89.2 L768.0,89.2 L767.5,89.2 L767.0,90.0 L766.5,91.2 L766.0,92.5 L765.5,93.7 L765.0,95.0 L764.5,96.2 L764.0,97.4 L763.5,98.7Z" fill="#e9f4ea" stroke="none"/>
<path d="M105.5,230.1 L106.0,230.2 L106.5,230.3 L107.0,230.4 L107.5,230.6 L108.0,230.7 L108.5,230.8 L109.0,230.9 L109.5,231.0 L110.0,231.0 L110.5,231.0 L111.0,231.0 L111.5,231.0 L112.0,231.0 L112.5,231.0 L113.0,231.0 L113.5,231.0 L114.0,231.0 L114.5,231.0 L115.0,231.0 L115.5,231.0 L116.0,231.0 L116.5,231.0 L117.0,231.0 L117.5,231.0 L118.0,231.0 L118.5,231.0 L119.0,231.0 L119.5,231.0 L120.0,231.0 L120.5,231.0 L121.0,231.0 L121.5,231.0 L122.0,231.0 L122.5,231.0 L123.0,231.0 L123.5,231.0 L124.0,231.0 L124.5,231.0 L125.0,231.0 L125.5,231.0 L126.0,231.0 L126.5,231.0 L127.0,231.0 L127.5,231.0 L128.0,231.0 L128.5,231.0 L129.0,231.0 L129.5,231.0 L130.0,231.1 L130.5,231.4 L131.0,231.7 L131.5,232.0 L132.0,232.3 L132.5,232.6 L133.0,232.9 L133.5,233.1 L134.0,233.4 L134.5,233.7 L135.0,234.0 L135.5,234.3 L136.0,234.4 L136.5,234.4 L137.0,234.4 L137.5,234.4 L138.0,234.4 L138.5,234.4 L139.0,234.4 L139.5,234.4 L140.0,234.4 L140.5,234.2 L141.0,234.0 L141.5,233.8 L142.0,233.6 L142.5,233.4 L143.0,233.2 L143.5,233.0 L144.0,232.8 L144.5,232.6 L145.0,232.4 L145.5,232.4 L146.0,232.3 L146.5,232.3 L147.0,232.3 L147.5,232.2 L148.0,232.2 L148.5,232.2 L149.0,232.1 L149.5,232.1 L150.0,232.1 L150.5,232.1 L151.0,232.0 L151.5,232.0 L152.0,232.0 L152.5,231.9 L153.0,231.9 L153.5,231.9 L154.0,231.7 L154.5,231.5 L155.0,231.3 L155.5,231.1 L156.0,230.8 L156.5,230.6 L157.0,230.4 L157.5,230.2 L158.0,230.0 L158.5,229.8 L159.0,229.6 L159.5,229.4 L160.0,229.1 L160.5,228.9 L161.0,228.7 L161.5,228.4 L162.0,228.1 L162.5,227.9 L163.0,227.6 L163.5,227.4 L164.0,227.1 L164.5,226.8 L165.0,226.6 L165.5,226.3 L166.0,226.1 L166.5,225.8 L167.0,225.5 L167.5,225.3 L168.0,225.0 L168.5,224.8 L169.0,224.6 L169.5,224.6 L170.0,224.6 L170.5,224.6 L171.0,224.6 L171.5,224.6 L172.0,224.6 L172.5,224.6 L173.0,224.6 L173.5,224.6 L174.0,224.6 L174.5,224.6 L175.0,224.6 L175.5,224.6 L176.0,224.6 L176.5,224.7 L177.0,224.7 L177.5,224.8 L178.0,224.8 L178.5,224.9 L179.0,224.9 L179.5,225.0 L180.0,225.0 L180.5,225.1 L181.0,225.1 L181.5,225.2 L182.0,225.2 L182.5,225.3 L183.0,225.3 L183.5,225.4 L184.0,225.4 L184.5,225.5 L185.0,225.5 L185.5,225.6 L186.0,225.5 L186.5,225.4 L187.0,225.2 L187.5,225.1 L188.0,224.9 L188.0,223.4 L187.5,220.9 L187.0,218.5 L186.5,216.0 L186.0,213.6 L185.5,212.7 L185.0,212.7 L184.5,212.7 L184.0,212.7 L183.5,212.7 L183.0,212.7 L182.5,212.7 L182.0,212.7 L181.5,212.6 L181.0,212.6 L180.5,212.6 L180.0,212.6 L179.5,212.6 L179.0,212.6 L178.5,212.6 L178.0,212.6 L177.5,212.6 L177.0,212.6 L176.5,212.6 L176.0,212.6 L175.5,212.6 L175.0,212.6 L174.5,212.6 L174.0,212.6 L173.5,212.6 L173.0,212.6 L172.5,212.6 L172.0,212.6 L171.5,212.5 L171.0,212.5 L170.5,212.5 L170.0,212.5 L169.5,212.5 L169.0,212.5 L168.5,212.5 L168.0,212.5 L167.5,212.5 L167.0,212.5 L166.5,212.5 L166.0,212.5 L165.5,212.5 L165.0,212.5 L164.5,212.5 L164.0,212.5 L163.5,212.5 L163.0,212.5 L162.5,212.5 L162.0,212.5 L161.5,212.4 L161.0,212.4 L160.5,212.4 L160.0,212.4 L159.5,212.4 L159.0,212.4 L158.5,212.4 L158.0,212.4 L157.5,212.4 L157.0,212.4 L156.5,212.4 L156.0,212.4 L155.5,212.4 L155.0,212.4 L154.5,212.4 L154.0,212.4 L153.5,212.4 L153.0,212.4 L152.5,212.4 L152.0,212.4 L151.5,212.4 L151.0,212.4 L150.5,212.4 L150.0,212.5 L149.5,212.5 L149.0,212.5 L148.5,212.6 L148.0,212.6 L147.5,212.6 L147.0,212.7 L146.5,212.8 L146.0,213.0 L145.5,213.2 L145.0,213.5 L144.5,213.7 L144.0,213.9 L143.5,214.1 L143.0,214.3 L142.5,214.5 L142.0,214.8 L141.5,215.1 L141.0,215.7 L140.5,216.3 L140.0,216.9 L139.5,217.5 L139.0,218.1 L138.5,218.7 L138.0,219.3 L137.5,219.9 L137.0,220.7 L136.5,221.6 L136.0,222.4 L135.5,223.2 L135.0,224.1 L134.5,224.2 L134.0,224.2 L133.5,224.2 L133.0,224.2 L132.5,224.2 L132.0,224.2 L131.5,224.2 L131.0,224.2 L130.5,224.2 L130.0,224.2 L129.5,224.2 L129.0,224.2 L128.5,224.2 L128.0,224.2 L127.5,224.2 L127.0,224.2 L126.5,224.2 L126.0,224.2 L125.5,224.2 L125.0,224.2 L124.5,224.2 L124.0,224.2 L123.5,224.6 L123.0,225.1 L122.5,225.6 L122.0,226.1 L121.5,226.6 L121.0,227.1 L120.5,227.6 L120.0,228.1 L119.5,228.5 L119.0,228.5 L118.5,228.6 L118.0,228.7 L117.5,228.7 L117.0,228.8 L116.5,228.8 L116.0,228.9 L115.5,228.9 L115.0,229.0 L114.5,229.0 L114.0,229.1 L113.5,229.2 L113.0,229.2 L112.5,229.3 L112.0,229.3 L111.5,229.4 L111.0,229.4 L110.5,229.5 L110.0,229.5 L109.5,229.6 L109.0,229.7 L108.5,229.7 L108.0,229.8 L107.5,229.8 L107.0,229.9 L106.5,229.9 L106.0,230.0 L105.5,230.0Z" fill="#fde7e7" stroke="none"/>
<path d="M275.0,230.1 L275.5,230.3 L276.0,230.6 L276.5,230.8 L277.0,231.1 L277.5,231.3 L278.0,231.6 L278.5,231.8 L279.0,232.0 L279.5,232.3 L280.0,232.5 L280.5,232.8 L281.0,233.0 L281.5,233.3 L282.0,233.5 L282.5,233.8 L283.0,234.0 L283.5,234.3 L284.0,234.5 L284.5,234.5 L285.0,234.5 L285.5,234.5 L286.0,234.6 L286.5,234.6 L287.0,234.6 L287.5,234.6 L288.0,234.6 L288.5,234.6 L289.0,234.7 L289.5,234.7 L290.0,234.7 L290.5,234.7 L291.0,234.7 L291.5,234.7 L292.0,234.8 L292.5,234.8 L293.0,234.8 L293.5,234.8 L294.0,234.8 L294.5,234.8 L295.0,234.9 L295.5,234.9 L296.0,234.9 L296.5,234.9 L297.0,234.9 L297.5,234.9 L298.0,235.0 L298.5,235.0 L299.0,235.0 L299.5,235.2 L300.0,235.6 L300.5,235.9 L301.0,236.3 L301.5,236.7 L302.0,237.0 L302.5,237.4 L303.0,237.8 L303.5,238.1 L304.0,238.5 L304.5,238.9 L305.0,239.2 L305.5,239.6 L306.0,240.0 L306.5,240.3 L307.0,240.5 L307.5,240.3 L308.0,240.0 L308.5,239.7 L309.0,239.5 L309.5,239.2 L310.0,239.0 L310.5,238.7 L311.0,238.4 L311.5,238.4 L312.0,238.3 L312.5,238.3 L313.0,238.2 L313.5,238.2 L314.0,238.1 L314.5,238.1 L315.0,238.0 L315.5,238.0 L316.0,237.9 L316.5,237.9 L317.0,237.9 L317.5,237.8 L318.0,237.8 L318.5,237.7 L319.0,237.7 L319.5,237.6 L320.0,237.6 L320.5,237.6 L321.0,238.1 L321.5,238.6 L322.0,239.1 L322.5,239.6 L323.0,240.1 L323.5,240.6 L324.0,241.1 L324.5,241.6 L325.0,241.8 L325.5,241.8 L326.0,241.9 L326.5,241.9 L327.0,241.9 L327.5,242.0 L328.0,242.0 L328.5,242.1 L329.0,242.1 L329.5,242.1 L330.0,242.2 L330.5,242.2 L331.0,242.2 L331.5,242.3 L332.0,242.3 L332.5,242.3 L333.0,242.4 L333.5,242.4 L334.0,242.4 L334.5,242.5 L335.0,242.5 L335.5,242.6 L336.0,242.6 L336.5,242.6 L337.0,242.9 L337.5,243.3 L338.0,243.7 L338.5,244.1 L339.0,244.4 L339.5,244.8 L340.0,245.2 L340.5,245.8 L341.0,246.4 L341.5,247.0 L342.0,247.7 L342.5,248.3 L343.0,248.9 L343.5,249.5 L344.0,250.1 L344.5,250.7 L345.0,251.4 L345.5,251.5 L346.0,251.5 L346.5,251.6 L347.0,251.6 L347.5,251.6 L348.0,251.7 L348.5,251.7 L349.0,251.8 L349.5,251.8 L350.0,251.8 L350.5,251.9 L351.0,251.9 L351.5,251.9 L352.0,251.9 L352.5,251.5 L353.0,251.2 L353.5,250.9 L354.0,250.5 L354.5,250.2 L355.0,249.9 L355.5,249.5 L356.0,249.2 L356.5,248.9 L357.0,248.6 L357.5,248.3 L358.0,248.1 L358.5,247.8 L359.0,247.6 L359.5,247.3 L360.0,247.1 L360.5,246.8 L361.0,246.6 L361.5,246.3 L362.0,246.1 L362.5,245.4 L363.0,244.8 L363.5,244.1 L364.0,243.4 L364.5,242.8 L365.0,242.1 L365.5,241.4 L366.0,240.8 L366.5,240.1 L367.0,239.4 L367.5,238.6 L368.0,237.6 L368.5,236.6 L369.0,235.7 L369.5,234.7 L370.0,233.7 L370.5,232.8 L371.0,231.8 L371.5,230.8 L372.0,229.9 L372.0,229.8 L371.5,230.6 L371.0,231.4 L370.5,232.3 L370.0,233.1 L369.5,233.9 L369.0,234.7 L368.5,235.6 L368.0,236.4 L367.5,237.2 L367.0,238.0 L366.5,238.9 L366.0,239.7 L365.5,240.5 L365.0,240.6 L364.5,240.6 L364.0,240.6 L363.5,240.5 L363.0,240.5 L362.5,240.5 L362.0,240.5 L361.5,240.5 L361.0,240.5 L360.5,240.5 L360.0,240.5 L359.5,240.4 L359.0,240.4 L358.5,240.4 L358.0,240.4 L357.5,240.4 L357.0,240.4 L356.5,240.4 L356.0,240.4 L355.5,240.3 L355.0,240.3 L354.5,240.3 L354.0,240.3 L353.5,240.3 L353.0,240.3 L352.5,240.3 L352.0,240.3 L351.5,240.2 L351.0,240.2 L350.5,240.2 L350.0,240.2 L349.5,240.2 L349.0,240.2 L348.5,240.2 L348.0,240.2 L347.5,240.1 L347.0,240.1 L346.5,240.1 L346.0,240.1 L345.5,240.1 L345.0,240.0 L344.5,239.6 L344.0,239.1 L343.5,238.7 L343.0,238.3 L342.5,237.8 L342.0,237.4 L341.5,237.0 L341.0,236.5 L340.5,236.1 L340.0,235.6 L339.5,235.2 L339.0,234.8 L338.5,234.3 L338.0,234.0 L337.5,233.8 L337.0,233.5 L336.5,233.2 L336.0,233.0 L335.5,232.8 L335.0,232.5 L334.5,232.4 L334.0,232.4 L333.5,232.4 L333.0,232.4 L332.5,232.4 L332.0,232.4 L331.5,232.4 L331.0,232.4 L330.5,232.4 L330.0,232.4 L329.5,232.4 L329.0,232.4 L328.5,232.4 L328.0,232.4 L327.5,232.4 L327.0,232.4 L326.5,232.4 L326.0,232.4 L325.5,232.4 L325.0,232.2 L324.5,232.0 L324.0,231.8 L323.5,231.6 L323.0,231.4 L322.5,231.2 L322.0,231.0 L321.5,230.8 L321.0,230.7 L320.5,230.7 L320.0,230.7 L319.5,230.7 L319.0,230.7 L318.5,230.7 L318.0,230.7 L317.5,230.7 L317.0,230.7 L316.5,230.7 L316.0,230.7 L315.5,230.6 L315.0,230.6 L314.5,230.6 L314.0,230.6 L313.5,230.6 L313.0,230.6 L312.5,230.6 L312.0,230.6 L311.5,230.6 L311.0,230.6 L310.5,230.6 L310.0,230.5 L309.5,230.5 L309.0,230.5 L308.5,230.5 L308.0,230.5 L307.5,230.5 L307.0,230.5 L306.5,230.5 L306.0,230.5 L305.5,230.5 L305.0,230.5 L304.5,230.4 L304.0,230.4 L303.5,230.4 L303.0,230.4 L302.5,230.4 L302.0,230.4 L301.5,230.4 L301.0,230.4 L300.5,230.4 L300.0,230.4 L299.5,230.4 L299.0,230.3 L298.5,230.3 L298.0,230.3 L297.5,230.3 L297.0,230.3 L296.5,230.3 L296.0,230.3 L295.5,230.3 L295.0,230.3 L294.5,230.3 L294.0,230.3 L293.5,230.3 L293.0,230.2 L292.5,230.2 L292.0,230.2 L291.5,230.2 L291.0,230.2 L290.5,230.2 L290.0,230.2 L289.5,230.2 L289.0,230.2 L288.5,230.2 L288.0,230.2 L287.5,230.1 L287.0,230.1 L286.5,230.1 L286.0,230.1 L285.5,230.1 L285.0,230.1 L284.5,230.1 L284.0,230.1 L283.5,230.1 L283.0,230.1 L282.5,230.1 L282.0,230.0 L281.5,230.0 L281.0,230.0 L280.5,230.0 L280.0,230.0 L279.5,230.0 L279.0,230.0 L278.5,230.0 L278.0,230.0 L277.5,230.0 L277.0,230.0 L276.5,229.9 L276.0,229.9 L275.5,229.9 L275.0,229.9Z" fill="#fde7e7" stroke="none"/>
<path d="M746.0,118.2 L746.5,118.5 L747.0,118.8 L747.5,119.1 L748.0,119.4 L748.5,119.6 L749.0,119.6 L749.5,119.4 L750.0,119.1 L750.5,118.9 L751.0,118.7 L751.5,118.5 L752.0,118.2 L752.5,118.0 L753.0,117.8 L753.5,117.6 L754.0,117.3 L754.5,117.1 L755.0,116.9 L755.5,116.7 L756.0,116.4 L756.5,116.2 L757.0,115.9 L757.5,115.7 L758.0,115.4 L758.5,115.2 L759.0,114.9 L759.5,114.7 L760.0,114.4 L760.5,114.2 L761.0,111.6 L761.5,108.9 L762.0,106.1 L762.5,103.4 L763.0,100.6 L763.0,100.1 L762.5,102.1 L762.0,104.1 L761.5,106.1 L761.0,108.1 L760.5,110.1 L760.0,112.1 L759.5,113.3 L759.0,113.3 L758.5,113.3 L758.0,113.3 L757.5,113.3 L757.0,113.3 L756.5,113.3 L756.0,113.3 L755.5,113.3 L755.0,113.3 L754.5,113.3 L754.0,113.3 L753.5,113.3 L753.0,113.3 L752.5,113.3 L752.0,113.4 L751.5,114.1 L751.0,114.8 L750.5,115.5 L750.0,116.2 L749.5,116.9 L749.0,117.6 L748.5,118.0 L748.0,118.0 L747.5,118.0 L747.0,118.0 L746.5,118.0 L746.0,118.0Z" fill="#fde7e7" stroke="none"/>
<path d="M806.0,90.3 L806.5,91.1 L807.0,92.0 L807.5,92.8 L808.0,93.6 L808.5,94.5 L809.0,95.3 L809.5,96.1 L810.0,97.0 L810.5,97.8 L811.0,98.6 L811.5,99.5 L812.0,100.3 L812.5,101.1 L813.0,102.0 L813.5,102.5 L814.0,102.8 L814.5,103.2 L815.0,103.5 L815.5,103.9 L816.0,104.2 L816.5,104.6 L817.0,104.9 L817.5,105.2 L818.0,105.6 L818.5,105.9 L819.0,106.3 L819.5,106.6 L820.0,107.0 L820.5,107.3 L821.0,107.7 L821.5,108.0 L822.0,108.4 L822.5,108.7 L823.0,109.1 L823.5,109.4 L824.0,109.7 L824.5,110.5 L825.0,111.7 L825.5,112.8 L826.0,113.9 L826.5,115.1 L827.0,116.2 L827.5,117.3 L828.0,118.5 L828.5,119.6 L829.0,120.7 L829.5,121.5 L830.0,121.5 L830.5,121.6 L831.0,121.6 L831.5,121.7 L832.0,121.7 L832.5,121.8 L833.0,122.4 L833.5,123.4 L834.0,124.4 L834.5,125.4 L835.0,126.4 L835.5,127.4 L836.0,128.4 L836.5,129.4 L837.0,130.4 L837.5,131.4 L838.0,132.4 L838.5,133.4 L839.0,134.3 L839.5,135.2 L840.0,135.9 L840.5,136.6 L841.0,137.3 L841.5,138.0 L842.0,138.7 L842.5,139.4 L843.0,140.1 L843.5,140.8 L844.0,141.3 L844.5,141.6 L845.0,142.0 L845.5,142.4 L846.0,142.8 L846.5,143.1 L847.0,143.5 L847.5,143.9 L848.0,144.3 L848.5,144.6 L849.0,145.0 L849.5,145.4 L850.0,145.8 L850.5,146.1 L851.0,146.5 L851.5,146.8 L852.0,147.1 L852.5,147.5 L853.0,147.8 L853.5,148.1 L854.0,148.5 L854.5,148.8 L855.0,149.1 L855.5,149.5 L856.0,149.8 L856.5,150.1 L857.0,150.5 L857.5,150.8 L858.0,151.1 L858.5,151.2 L859.0,151.3 L859.5,151.4 L860.0,151.4 L860.5,151.5 L861.0,151.6 L861.5,151.7 L862.0,151.7 L862.5,151.8 L863.0,151.9 L863.5,152.0 L864.0,152.1 L864.5,152.1 L865.0,152.2 L865.5,152.3 L866.0,152.4 L866.5,152.4 L867.0,152.5 L867.5,152.6 L868.0,152.7 L868.5,152.7 L869.0,152.8 L869.5,153.1 L870.0,153.4 L870.5,153.7 L871.0,154.0 L871.5,154.4 L872.0,154.7 L872.5,155.0 L873.0,155.3 L873.5,155.6 L874.0,155.9 L874.5,156.2 L875.0,156.5 L875.5,156.9 L876.0,157.2 L876.5,157.7 L877.0,158.1 L877.5,158.6 L878.0,159.0 L878.5,159.5 L879.0,160.0 L879.5,160.4 L880.0,160.9 L880.5,161.3 L881.0,161.8 L881.5,162.2 L882.0,162.4 L882.5,162.2 L883.0,162.0 L883.5,161.8 L884.0,161.6 L884.5,161.4 L885.0,161.2 L885.5,161.0 L886.0,160.8 L886.5,160.5 L887.0,160.1 L887.5,159.8 L888.0,159.4 L888.5,159.0 L889.0,158.7 L889.5,158.3 L890.0,158.0 L890.5,157.6 L891.0,157.3 L891.5,156.9 L892.0,156.6 L892.5,156.2 L893.0,155.8 L893.5,155.5 L894.0,155.4 L894.5,155.5 L895.0,155.5 L895.5,155.6 L896.0,155.6 L896.5,155.7 L897.0,155.7 L897.5,156.6 L898.0,157.5 L898.5,158.5 L899.0,159.4 L899.5,160.4 L900.0,161.4 L900.5,162.3 L901.0,163.3 L901.5,164.1 L902.0,164.8 L902.5,165.5 L903.0,166.2 L903.5,166.9 L904.0,167.6 L904.5,168.3 L905.0,169.0 L905.5,169.7 L906.0,170.1 L906.5,170.4 L907.0,170.7 L907.5,171.0 L908.0,171.3 L908.5,171.6 L909.0,171.9 L909.5,172.2 L910.0,172.5 L910.5,172.8 L911.0,173.1 L911.5,173.4 L912.0,173.7 L912.5,174.0 L913.0,174.3 L913.5,174.6 L914.0,174.9 L914.5,175.2 L915.0,175.5 L915.5,175.8 L916.0,176.1 L916.5,176.4 L917.0,176.7 L917.5,177.0 L918.0,177.3 L918.5,177.5 L919.0,177.6 L919.5,177.6 L920.0,177.7 L920.5,177.8 L921.0,177.9 L921.5,178.0 L922.0,178.1 L922.5,178.1 L923.0,178.2 L923.5,178.4 L924.0,178.9 L924.5,179.3 L925.0,179.8 L925.5,180.2 L926.0,180.7 L926.5,181.1 L927.0,181.6 L927.5,182.0 L928.0,182.5 L928.5,182.9 L929.0,183.2 L929.5,183.5 L930.0,183.9 L930.5,184.2 L931.0,184.5 L931.5,184.8 L932.0,185.1 L932.5,185.1 L933.0,185.1 L933.5,185.2 L934.0,185.2 L934.5,185.2 L935.0,185.2 L935.5,185.3 L936.0,185.3 L936.5,185.3 L937.0,185.3 L937.5,185.3 L938.0,185.4 L938.5,185.4 L939.0,185.4 L939.5,185.4 L940.0,185.5 L940.5,185.5 L941.0,185.5 L941.5,185.5 L942.0,185.6 L942.5,185.6 L943.0,185.6 L943.5,185.9 L944.0,186.2 L944.5,186.5 L945.0,186.8 L945.5,187.0 L946.0,187.3 L946.5,187.6 L947.0,187.9 L947.5,187.9 L948.0,187.8 L948.5,187.8 L949.0,187.7 L949.5,187.6 L950.0,187.5 L950.5,187.4 L951.0,187.4 L951.5,187.3 L952.0,187.2 L952.5,187.1 L953.0,187.1 L953.5,187.0 L954.0,186.9 L954.5,186.8 L955.0,186.6 L955.5,186.1 L956.0,185.6 L956.5,185.1 L957.0,184.6 L957.5,184.1 L958.0,183.6 L958.5,182.8 L959.0,181.9 L959.5,181.0 L960.0,180.0 L960.5,179.1 L961.0,178.2 L961.5,177.3 L962.0,177.0 L962.5,176.9 L963.0,176.8 L963.5,176.8 L964.0,176.7 L964.5,176.6 L965.0,176.5 L965.5,176.4 L966.0,176.3 L966.5,176.2 L967.0,176.1 L967.5,176.0 L968.0,175.9 L968.5,175.8 L969.0,175.8 L969.5,175.7 L970.0,175.6 L970.5,175.5 L971.0,175.4 L971.5,175.1 L972.0,174.8 L972.5,174.5 L973.0,174.2 L973.5,173.9 L974.0,173.6 L974.5,173.3 L975.0,173.1 L975.5,172.8 L976.0,172.5 L976.5,172.2 L977.0,171.9 L977.5,171.6 L978.0,171.6 L978.5,171.8 L979.0,172.1 L979.5,172.3 L980.0,172.5 L980.5,172.7 L981.0,172.9 L981.5,173.1 L982.0,173.4 L982.5,173.6 L983.0,173.8 L983.5,174.2 L984.0,174.5 L984.5,174.9 L985.0,175.2 L985.5,175.5 L986.0,175.9 L986.5,176.2 L987.0,176.6 L987.5,176.6 L988.0,176.7 L988.5,176.7 L989.0,176.8 L989.5,176.8 L990.0,176.9 L990.5,176.9 L991.0,177.0 L991.5,177.0 L992.0,177.1 L992.5,177.4 L993.0,177.9 L993.5,178.3 L994.0,178.8 L994.5,179.2 L995.0,179.6 L995.5,180.1 L996.0,180.5 L996.5,181.0 L997.0,181.4 L997.5,181.9 L998.0,182.3 L998.5,182.8 L999.0,183.2 L999.5,183.6 L1000.0,183.9 L1000.5,184.0 L1001.0,184.0 L1001.5,184.1 L1002.0,184.1 L1002.5,184.2 L1003.0,184.2 L1003.5,184.3 L1004.0,184.3 L1004.5,184.4 L1005.0,184.4 L1005.5,184.5 L1006.0,184.5 L1006.5,184.6 L1007.0,184.7 L1007.5,184.8 L1008.0,185.0 L1008.5,185.1 L1009.0,185.3 L1009.5,185.4 L1010.0,185.6 L1010.5,185.7 L1011.0,185.9 L1011.5,186.0 L1012.0,186.1 L1012.5,186.3 L1013.0,186.4 L1013.5,186.6 L1014.0,186.7 L1014.5,186.8 L1015.0,186.9 L1015.5,187.0 L1016.0,187.1 L1016.5,187.2 L1017.0,187.3 L1017.5,187.4 L1018.0,187.5 L1018.5,187.7 L1019.0,188.2 L1019.5,188.7 L1020.0,189.3 L1020.5,189.8 L1021.0,190.3 L1021.5,190.9 L1022.0,191.4 L1022.5,191.9 L1023.0,192.5 L1023.5,193.0 L1024.0,193.2 L1024.5,193.4 L1025.0,193.5 L1025.5,193.7 L1026.0,194.0 L1026.5,194.4 L1027.0,194.8 L1027.5,195.2 L1028.0,195.5 L1028.5,195.9 L1029.0,196.3 L1029.5,196.7 L1030.0,197.1 L1030.5,197.5 L1031.0,197.6 L1031.5,197.6 L1032.0,197.6 L1032.5,197.6 L1033.0,197.6 L1033.5,197.6 L1034.0,197.6 L1034.5,197.6 L1035.0,197.6 L1035.5,197.8 L1036.0,198.0 L1036.5,198.2 L1037.0,198.4 L1037.5,198.6 L1038.0,198.7 L1038.5,198.9 L1039.0,199.1 L1039.5,199.3 L1040.0,199.5 L1040.5,199.7 L1041.0,199.9 L1041.5,200.1 L1042.0,200.3 L1042.5,200.4 L1043.0,200.4 L1043.5,200.3 L1044.0,200.2 L1044.5,200.2 L1045.0,200.1 L1045.5,200.0 L1046.0,199.9 L1046.5,199.8 L1047.0,199.8 L1047.5,199.7 L1048.0,199.6 L1048.5,199.5 L1049.0,199.5 L1049.5,199.4 L1050.0,199.3 L1050.5,199.3 L1051.0,199.3 L1051.5,199.3 L1052.0,199.3 L1052.5,199.3 L1053.0,199.3 L1053.5,199.3 L1054.0,199.3 L1054.5,199.3 L1055.0,199.3 L1055.5,199.3 L1056.0,199.3 L1056.5,199.3 L1057.0,199.3 L1057.5,199.8 L1058.0,200.3 L1058.5,200.7 L1059.0,201.2 L1059.5,201.7 L1060.0,202.2 L1060.5,202.7 L1061.0,203.1 L1061.5,203.4 L1062.0,203.5 L1062.5,203.5 L1063.0,203.6 L1063.5,203.7 L1064.0,203.8 L1064.5,203.8 L1065.0,203.5 L1065.5,203.1 L1066.0,202.7 L1066.5,202.3 L1067.0,201.9 L1067.5,201.5 L1068.0,201.1 L1068.5,200.7 L1069.0,200.6 L1069.5,200.9 L1070.0,201.2 L1070.5,201.6 L1071.0,201.9 L1071.5,202.3 L1072.0,202.6 L1072.5,202.9 L1073.0,203.3 L1073.5,203.4 L1074.0,203.6 L1074.5,203.7 L1075.0,203.8 L1075.5,203.9 L1076.0,204.0 L1076.5,204.1 L1077.0,204.2 L1077.5,204.4 L1078.0,204.5 L1078.5,204.6 L1079.0,204.7 L1079.5,204.9 L1080.0,205.2 L1080.5,205.4 L1081.0,205.7 L1081.5,205.9 L1082.0,206.2 L1082.5,206.4 L1083.0,206.7 L1083.5,206.9 L1084.0,207.2 L1084.5,207.2 L1085.0,207.2 L1085.5,207.2 L1086.0,207.2 L1086.5,207.2 L1087.0,207.2 L1087.5,207.2 L1088.0,207.2 L1088.5,207.2 L1089.0,207.2 L1089.5,207.2 L1090.0,207.2 L1090.5,207.2 L1091.0,207.2 L1091.5,207.2 L1092.0,207.2 L1092.5,207.2 L1093.0,207.2 L1093.5,207.2 L1094.0,207.2 L1094.5,207.3 L1095.0,207.5 L1095.5,207.7 L1096.0,207.9 L1096.5,208.1 L1097.0,208.2 L1097.5,208.4 L1098.0,208.6 L1098.5,208.8 L1099.0,209.0 L1099.5,209.2 L1100.0,209.4 L1100.5,209.7 L1101.0,210.1 L1101.5,210.5 L1102.0,210.9 L1102.5,211.4 L1103.0,211.8 L1103.5,212.2 L1104.0,212.6 L1104.5,213.1 L1105.0,213.5 L1105.5,213.9 L1106.0,214.3 L1106.5,214.8 L1107.0,215.2 L1107.5,215.3 L1108.0,215.4 L1108.5,215.4 L1109.0,215.5 L1109.5,215.6 L1110.0,215.7 L1110.5,215.8 L1111.0,216.3 L1111.5,216.8 L1112.0,217.3 L1112.5,217.8 L1113.0,218.3 L1113.5,218.8 L1114.0,219.1 L1114.5,219.1 L1115.0,219.1 L1115.5,219.1 L1116.0,219.1 L1116.5,219.1 L1117.0,219.1 L1117.5,219.1 L1118.0,219.1 L1118.5,219.1 L1118.5,190.8 L1118.0,190.8 L1117.5,190.8 L1117.0,190.8 L1116.5,190.8 L1116.0,190.8 L1115.5,190.8 L1115.0,190.8 L1114.5,190.8 L1114.0,190.8 L1113.5,190.8 L1113.0,190.8 L1112.5,190.8 L1112.0,190.8 L1111.5,190.8 L1111.0,190.8 L1110.5,190.8 L1110.0,190.8 L1109.5,190.8 L1109.0,190.8 L1108.5,190.8 L1108.0,190.8 L1107.5,190.8 L1107.0,190.7 L1106.5,190.3 L1106.0,189.9 L1105.5,189.5 L1105.0,189.1 L1104.5,188.7 L1104.0,188.3 L1103.5,188.1 L1103.0,188.1 L1102.5,188.1 L1102.0,188.1 L1101.5,188.1 L1101.0,188.1 L1100.5,188.1 L1100.0,188.1 L1099.5,188.1 L1099.0,188.1 L1098.5,188.1 L1098.0,188.1 L1097.5,188.1 L1097.0,188.1 L1096.5,188.1 L1096.0,188.1 L1095.5,188.1 L1095.0,188.1 L1094.5,188.1 L1094.0,188.1 L1093.5,188.1 L1093.0,188.1 L1092.5,188.1 L1092.0,188.1 L1091.5,188.1 L1091.0,188.1 L1090.5,188.1 L1090.0,188.1 L1089.5,188.1 L1089.0,188.1 L1088.5,188.1 L1088.0,188.1 L1087.5,188.1 L1087.0,188.1 L1086.5,188.1 L1086.0,188.1 L1085.5,188.1 L1085.0,188.1 L1084.5,188.1 L1084.0,188.1 L1083.5,188.1 L1083.0,188.1 L1082.5,188.1 L1082.0,188.1 L1081.5,188.1 L1081.0,188.1 L1080.5,188.1 L1080.0,188.1 L1079.5,188.1 L1079.0,188.1 L1078.5,188.1 L1078.0,188.1 L1077.5,188.1 L1077.0,188.1 L1076.5,188.1 L1076.0,188.1 L1075.5,188.1 L1075.0,188.1 L1074.5,188.1 L1074.0,188.1 L1073.5,188.1 L1073.0,188.1 L1072.5,188.1 L1072.0,188.1 L1071.5,188.1 L1071.0,188.1 L1070.5,188.1 L1070.0,188.1 L1069.5,188.1 L1069.0,188.1 L1068.5,188.1 L1068.0,188.1 L1067.5,188.1 L1067.0,188.1 L1066.5,188.1 L1066.0,188.1 L1065.5,188.1 L1065.0,188.1 L1064.5,188.1 L1064.0,188.1 L1063.5,188.1 L1063.0,188.1 L1062.5,188.1 L1062.0,188.1 L1061.5,188.1 L1061.0,188.1 L1060.5,188.1 L1060.0,188.1 L1059.5,188.1 L1059.0,188.1 L1058.5,188.1 L1058.0,188.1 L1057.5,188.1 L1057.0,188.1 L1056.5,188.1 L1056.0,188.1 L1055.5,188.1 L1055.0,188.1 L1054.5,188.1 L1054.0,188.1 L1053.5,188.1 L1053.0,188.1 L1052.5,188.1 L1052.0,188.1 L1051.5,188.1 L1051.0,188.1 L1050.5,188.1 L1050.0,188.1 L1049.5,188.1 L1049.0,188.1 L1048.5,188.1 L1048.0,188.1 L1047.5,188.1 L1047.0,188.1 L1046.5,188.1 L1046.0,188.1 L1045.5,188.1 L1045.0,188.1 L1044.5,188.1 L1044.0,188.1 L1043.5,188.1 L1043.0,188.1 L1042.5,188.1 L1042.0,188.1 L1041.5,188.1 L1041.0,188.1 L1040.5,188.1 L1040.0,188.1 L1039.5,188.1 L1039.0,188.1 L1038.5,188.1 L1038.0,188.1 L1037.5,188.1 L1037.0,188.1 L1036.5,188.1 L1036.0,188.1 L1035.5,188.1 L1035.0,188.1 L1034.5,188.1 L1034.0,188.1 L1033.5,188.1 L1033.0,188.1 L1032.5,188.1 L1032.0,188.1 L1031.5,188.1 L1031.0,188.1 L1030.5,187.9 L1030.0,187.4 L1029.5,186.8 L1029.0,186.3 L1028.5,185.7 L1028.0,185.2 L1027.5,184.6 L1027.0,184.3 L1026.5,184.1 L1026.0,184.0 L1025.5,183.9 L1025.0,183.8 L1024.5,183.6 L1024.0,183.5 L1023.5,183.3 L1023.0,182.8 L1022.5,182.3 L1022.0,181.8 L1021.5,181.3 L1021.0,180.8 L1020.5,180.3 L1020.0,179.8 L1019.5,179.3 L1019.0,178.8 L1018.5,178.3 L1018.0,178.2 L1017.5,178.1 L1017.0,178.1 L1016.5,178.0 L1016.0,177.9 L1015.5,177.8 L1015.0,177.8 L1014.5,177.7 L1014.0,177.6 L1013.5,177.5 L1013.0,177.5 L1012.5,177.4 L1012.0,177.3 L1011.5,177.2 L1011.0,177.1 L1010.5,177.1 L1010.0,177.0 L1009.5,176.9 L1009.0,176.8 L1008.5,176.8 L1008.0,176.7 L1007.5,176.6 L1007.0,175.9 L1006.5,175.0 L1006.0,174.1 L1005.5,173.2 L1005.0,172.4 L1004.5,171.5 L1004.0,170.6 L1003.5,169.5 L1003.0,168.4 L1002.5,167.2 L1002.0,166.1 L1001.5,165.0 L1001.0,163.9 L1000.5,162.5 L1000.0,160.5 L999.5,158.5 L999.0,156.5 L998.5,154.5 L998.0,152.6 L997.5,151.0 L997.0,149.4 L996.5,147.8 L996.0,146.2 L995.5,145.5 L995.0,145.5 L994.5,145.5 L994.0,145.5 L993.5,145.4 L993.0,145.4 L992.5,145.4 L992.0,145.4 L991.5,145.4 L991.0,145.4 L990.5,145.4 L990.0,145.3 L989.5,145.3 L989.0,145.3 L988.5,145.3 L988.0,145.3 L987.5,145.3 L987.0,145.3 L986.5,145.2 L986.0,145.2 L985.5,145.2 L985.0,145.2 L984.5,145.2 L984.0,145.2 L983.5,145.2 L983.0,145.1 L982.5,145.1 L982.0,145.1 L981.5,145.1 L981.0,144.9 L980.5,144.0 L980.0,143.2 L979.5,142.3 L979.0,141.4 L978.5,140.5 L978.0,139.7 L977.5,138.8 L977.0,137.9 L976.5,137.0 L976.0,136.2 L975.5,135.3 L975.0,134.4 L974.5,133.5 L974.0,132.7 L973.5,131.8 L973.0,130.9 L972.5,130.2 L972.0,129.6 L971.5,129.0 L971.0,128.5 L970.5,127.9 L970.0,127.3 L969.5,126.8 L969.0,126.6 L968.5,126.3 L968.0,126.1 L967.5,125.9 L967.0,125.6 L966.5,125.4 L966.0,125.2 L965.5,125.0 L965.0,124.7 L964.5,124.5 L964.0,124.3 L963.5,124.0 L963.0,123.8 L962.5,123.6 L962.0,123.4 L961.5,123.4 L961.0,123.4 L960.5,123.4 L960.0,123.4 L959.5,123.4 L959.0,123.4 L958.5,123.4 L958.0,123.4 L957.5,123.4 L957.0,123.4 L956.5,123.4 L956.0,123.4 L955.5,123.4 L955.0,123.4 L954.5,123.4 L954.0,123.4 L953.5,123.4 L953.0,123.4 L952.5,123.4 L952.0,123.4 L951.5,123.4 L951.0,123.4 L950.5,123.4 L950.0,123.4 L949.5,123.4 L949.0,123.4 L948.5,123.4 L948.0,123.4 L947.5,123.4 L947.0,123.4 L946.5,123.4 L946.0,123.4 L945.5,123.4 L945.0,123.4 L944.5,123.4 L944.0,123.4 L943.5,123.4 L943.0,123.4 L942.5,123.4 L942.0,123.4 L941.5,123.4 L941.0,123.4 L940.5,123.4 L940.0,123.4 L939.5,123.4 L939.0,123.4 L938.5,123.4 L938.0,123.4 L937.5,123.4 L937.0,123.4 L936.5,123.4 L936.0,123.4 L935.5,123.4 L935.0,123.4 L934.5,123.4 L934.0,123.4 L933.5,123.4 L933.0,123.4 L932.5,123.4 L932.0,123.4 L931.5,123.4 L931.0,123.4 L930.5,123.4 L930.0,123.4 L929.5,123.4 L929.0,123.4 L928.5,123.4 L928.0,123.4 L927.5,123.4 L927.0,123.1 L926.5,122.8 L926.0,122.4 L925.5,122.1 L925.0,121.8 L924.5,121.4 L924.0,121.3 L923.5,121.3 L923.0,121.2 L922.5,121.2 L922.0,121.1 L921.5,121.1 L921.0,121.0 L920.5,121.0 L920.0,120.9 L919.5,120.9 L919.0,120.8 L918.5,120.8 L918.0,120.7 L917.5,120.7 L917.0,120.6 L916.5,120.6 L916.0,120.5 L915.5,120.5 L915.0,120.5 L914.5,120.5 L914.0,120.5 L913.5,120.5 L913.0,120.5 L912.5,120.5 L912.0,120.5 L911.5,120.5 L911.0,120.5 L910.5,120.5 L910.0,120.5 L909.5,120.5 L909.0,120.5 L908.5,120.5 L908.0,120.5 L907.5,120.5 L907.0,120.5 L906.5,120.5 L906.0,120.5 L905.5,120.5 L905.0,120.5 L904.5,120.5 L904.0,120.5 L903.5,120.5 L903.0,120.5 L902.5,120.5 L902.0,120.5 L901.5,120.5 L901.0,120.5 L900.5,120.5 L900.0,120.5 L899.5,120.5 L899.0,120.5 L898.5,120.5 L898.0,120.5 L897.5,120.5 L897.0,120.5 L896.5,120.5 L896.0,120.5 L895.5,120.5 L895.0,120.5 L894.5,120.5 L894.0,120.5 L893.5,120.5 L893.0,120.5 L892.5,120.5 L892.0,120.5 L891.5,120.5 L891.0,120.5 L890.5,120.5 L890.0,120.5 L889.5,120.5 L889.0,120.5 L888.5,120.5 L888.0,120.5 L887.5,120.5 L887.0,120.5 L886.5,120.5 L886.0,120.5 L885.5,120.5 L885.0,120.5 L884.5,120.5 L884.0,120.5 L883.5,120.5 L883.0,120.5 L882.5,120.5 L882.0,120.5 L881.5,120.5 L881.0,120.5 L880.5,120.5 L880.0,120.5 L879.5,120.5 L879.0,120.5 L878.5,120.5 L878.0,120.5 L877.5,120.5 L877.0,120.5 L876.5,120.5 L876.0,120.5 L875.5,120.5 L875.0,120.5 L874.5,120.5 L874.0,120.5 L873.5,120.5 L873.0,120.5 L872.5,120.5 L872.0,120.5 L871.5,120.5 L871.0,120.5 L870.5,120.5 L870.0,120.5 L869.5,120.5 L869.0,120.5 L868.5,120.5 L868.0,120.5 L867.5,120.5 L867.0,120.5 L866.5,120.5 L866.0,120.5 L865.5,120.5 L865.0,120.5 L864.5,120.5 L864.0,120.5 L863.5,120.5 L863.0,120.5 L862.5,120.5 L862.0,120.5 L861.5,120.5 L861.0,120.5 L860.5,120.5 L860.0,120.5 L859.5,120.5 L859.0,120.5 L858.5,120.5 L858.0,120.5 L857.5,120.5 L857.0,120.5 L856.5,120.5 L856.0,120.5 L855.5,120.5 L855.0,120.5 L854.5,120.5 L854.0,120.5 L853.5,120.5 L853.0,120.5 L852.5,120.5 L852.0,120.5 L851.5,120.1 L851.0,119.7 L850.5,119.2 L850.0,118.8 L849.5,118.3 L849.0,117.8 L848.5,117.4 L848.0,116.9 L847.5,116.5 L847.0,116.0 L846.5,115.6 L846.0,115.2 L845.5,114.8 L845.0,114.5 L844.5,114.1 L844.0,113.7 L843.5,113.3 L843.0,113.0 L842.5,112.6 L842.0,112.2 L841.5,111.9 L841.0,111.5 L840.5,111.1 L840.0,110.7 L839.5,110.7 L839.0,110.7 L838.5,110.7 L838.0,110.7 L837.5,110.7 L837.0,110.7 L836.5,110.7 L836.0,110.7 L835.5,110.7 L835.0,110.7 L834.5,110.7 L834.0,110.7 L833.5,110.7 L833.0,110.7 L832.5,110.7 L832.0,110.7 L831.5,110.7 L831.0,110.7 L830.5,110.7 L830.0,110.7 L829.5,110.7 L829.0,110.7 L828.5,110.7 L828.0,109.3 L827.5,107.6 L827.0,106.0 L826.5,104.4 L826.0,102.8 L825.5,101.1 L825.0,99.7 L824.5,99.3 L824.0,99.0 L823.5,98.7 L823.0,98.3 L822.5,98.0 L822.0,97.7 L821.5,97.3 L821.0,97.0 L820.5,96.7 L820.0,96.3 L819.5,96.0 L819.0,95.7 L818.5,95.3 L818.0,95.0 L817.5,94.7 L817.0,94.6 L816.5,94.6 L816.0,94.6 L815.5,94.6 L815.0,94.6 L814.5,94.6 L814.0,94.6 L813.5,94.6 L813.0,94.5 L812.5,94.2 L812.0,93.9 L811.5,93.5 L811.0,93.2 L810.5,92.9 L810.0,92.6 L809.5,92.3 L809.0,91.9 L808.5,91.6 L808.0,91.3 L807.5,91.0 L807.0,90.7 L806.5,90.3 L806.0,90.0Z" fill="#fde7e7" stroke="none"/>
<line x1="50" y1="235.5" x2="1104" y2="235.5" stroke="#ef5350" stroke-width="1" stroke-dasharray="1.1 1.36"/>
<path d="M50.0,317.0 L83.3,308.6 L125.0,298.9 L172.2,288.3 L222.2,282.4 L250.0,282.5 L267.0,280.0 L300.9,270.6 L334.9,261.3 L351.9,255.4 L379.0,246.9 L413.0,236.7 L433.4,232.1 L450.0,228.7 L484.0,219.6 L517.9,210.3 L551.9,200.9 L585.8,192.4 L619.8,184.8 L650.0,180.6 L665.5,176.8 L690.9,169.5 L707.9,166.6 L733.4,165.7 L758.8,166.6 L784.3,167.4 L809.8,168.3 L826.8,169.5 L840.0,170.8 L864.0,171.2 L897.9,172.7 L931.9,175.4 L965.8,177.4 L999.8,180.5 L1023.5,183.4" fill="none" stroke="#ff9800" stroke-width="2.4" stroke-linejoin="round" stroke-linecap="butt" />
<path d="M50.0,310.0 L78.0,299.0 L100.0,292.5 L128.0,286.0 L134.9,285.0 L181.6,276.9 L230.0,270.9 L250.0,267.5 L284.0,257.9 L317.9,250.3 L351.9,241.8 L385.8,233.3 L413.0,226.0 L433.4,222.3 L450.0,218.5 L484.0,211.1 L517.9,203.0 L551.9,195.0 L585.8,188.2 L619.8,182.6 L650.0,179.2 L665.5,175.9 L690.9,169.5 L707.9,167.1 L733.4,165.7 L758.8,163.7 L784.3,161.5 L809.8,159.8 L826.8,159.3 L840.0,159.5 L864.0,157.6 L897.9,156.2 L931.9,156.2 L965.8,154.0 L999.8,152.3 L1023.5,152.0" fill="none" stroke="#f23c57" stroke-width="2.4" stroke-linejoin="round" stroke-linecap="butt" />
<path d="M50.0,238.7 L67.0,235.3 L92.4,231.9 L123.0,229.3 L151.9,222.5 L168.8,220.5 L175.6,220.5 L185.8,225.1 L194.3,227.6 L219.8,229.3 L236.8,233.6 L250.0,239.5 L260.2,236.7 L272.1,232.1 L289.0,223.1 L317.9,211.2 L338.3,202.7 L348.5,195.9 L357.0,190.0 L360.4,188.5 L379.0,178.3 L409.6,166.4 L426.6,163.9 L433.4,161.3 L450.0,158.8 L467.0,154.9 L484.0,150.6 L500.9,143.9 L517.9,138.8 L534.9,133.7 L551.9,128.6 L568.8,124.3 L585.8,121.3 L602.8,119.6 L619.8,118.4 L636.8,118.4 L650.0,119.2 L653.6,118.4 L662.1,116.7 L674.0,109.9 L684.1,105.6 L690.9,104.8 L707.9,104.8 L721.5,108.2 L735.1,116.7 L748.7,125.2 L762.2,131.1 L772.4,134.5 L789.4,142.0 L809.8,147.1 L823.4,152.2 L835.2,158.1 L840.2,160.1 L855.5,163.0 L872.4,164.2 L889.4,167.3 L906.4,171.5 L923.4,176.6 L931.9,180.5 L948.8,183.4 L965.8,185.6 L982.8,189.3 L999.8,193.6 L1016.8,198.2 L1023.5,200.4" fill="none" stroke="#1487f7" stroke-width="1.7" stroke-linejoin="round" stroke-linecap="butt" />
<path d="M50.0,228.5 L61.0,228.1 L72.9,225.6 L87.4,224.3 L111.1,224.3 L119.6,223.0 L126.4,220.5 L134.9,217.9 L143.4,212.0 L150.0,207.7 L153.6,207.3 L167.1,206.4 L174.8,207.3 L179.4,217.0 L186.2,223.8 L194.7,229.7 L215.9,233.1 L229.5,237.4 L241.4,245.8 L249.9,251.8 L260.2,243.5 L275.5,229.0 L284.0,217.2 L292.4,208.7 L306.0,198.5 L321.3,190.0 L338.3,180.8 L342.5,176.6 L351.9,163.0 L360.4,155.4 L372.2,148.6 L379.0,144.0 L394.3,141.3 L409.6,139.2 L419.8,140.9 L430.0,143.0 L436.8,139.2 L450.0,140.6 L460.2,139.6 L467.0,137.1 L484.0,133.7 L494.1,124.3 L506.0,120.9 L521.3,119.2 L534.9,114.5 L551.9,109.9 L562.1,105.7 L569.7,104.8 L579.0,106.5 L596.0,106.5 L613.0,109.9 L630.0,111.6 L640.2,115.0 L646.1,115.8 L646.8,117.5 L657.0,114.1 L663.8,111.6 L668.0,104.8 L674.0,96.3 L680.7,91.2 L687.5,89.5 L704.5,90.4 L711.3,98.0 L721.5,109.9 L731.7,123.5 L741.9,134.5 L752.1,147.1 L765.6,154.7 L779.2,160.7 L789.4,164.9 L799.6,163.2 L809.8,165.7 L820.0,170.0 L830.2,177.6 L835.2,181.0 L840.2,185.1 L852.1,184.2 L864.0,180.8 L874.1,175.7 L884.3,175.7 L894.5,180.8 L904.7,185.9 L918.3,189.3 L928.5,194.4 L938.7,199.2 L948.8,199.2 L965.8,199.2 L979.4,201.2 L993.0,205.5 L1006.6,209.7 L1016.8,213.9 L1023.5,217.3" fill="none" stroke="#27aa96" stroke-width="1.25" stroke-linejoin="round" stroke-linecap="butt" />
<path d="M50.0,230.2 L60.2,230.2 L72.9,222.2 L76.3,220.0 L99.2,220.0 L100.9,218.8 L104.3,220.0 L119.6,220.0 L123.9,216.2 L134.9,216.2 L150.0,206.0 L151.0,205.2 L154.4,203.5 L167.1,203.0 L173.1,201.3 L174.8,205.6 L179.4,229.7 L186.2,235.7 L193.0,238.6 L199.8,239.0 L204.9,240.7 L208.3,244.1 L210.8,250.1 L215.9,245.8 L224.4,244.1 L227.0,243.3 L229.5,250.9 L237.2,251.8 L244.8,254.3 L250.0,259.9 L256.8,254.5 L261.9,248.6 L275.5,229.9 L284.0,224.0 L286.5,195.1 L291.6,191.7 L294.1,190.0 L295.0,186.8 L302.6,186.4 L306.9,174.9 L317.9,174.6 L323.0,171.2 L328.9,168.4 L337.4,167.8 L339.1,157.9 L342.5,152.8 L347.6,146.0 L368.8,145.7 L373.1,140.9 L379.0,131.6 L399.4,131.6 L402.8,126.5 L409.6,126.0 L413.0,134.5 L419.8,134.5 L423.2,136.7 L432.5,135.8 L436.8,132.1 L443.5,131.6 L450.0,131.6 L456.8,131.5 L460.2,128.6 L467.0,128.1 L472.1,137.1 L484.0,135.4 L487.4,128.6 L494.1,116.7 L498.4,113.8 L506.0,113.8 L509.4,115.0 L513.7,108.2 L518.8,104.0 L523.9,103.6 L528.9,106.5 L534.9,112.1 L542.5,110.7 L550.2,110.7 L557.0,106.5 L562.1,101.4 L568.8,100.6 L573.9,102.3 L594.3,101.9 L597.7,106.5 L609.6,106.5 L613.8,111.6 L619.8,109.0 L630.0,109.0 L635.1,114.1 L640.2,114.5 L646.8,118.0 L653.6,126.5 L657.0,123.8 L662.1,117.5 L665.5,111.6 L668.0,96.3 L671.4,84.4 L675.7,78.5 L679.9,76.8 L684.5,76.8 L688.4,72.5 L694.3,69.5 L699.4,69.1 L703.2,70.0 L706.6,82.7 L711.3,96.3 L719.8,113.3 L728.3,121.8 L733.4,132.0 L736.8,133.7 L737.6,132.6 L740.2,143.7 L743.6,159.0 L747.0,166.6 L752.1,172.5 L756.5,175.9 L760.5,179.3 L763.1,182.7 L769.0,183.6 L784.3,183.6 L788.6,181.0 L792.8,175.9 L796.2,170.8 L798.7,168.3 L808.1,168.3 L811.5,169.1 L816.6,169.5 L820.0,172.5 L826.8,175.9 L829.3,178.5 L830.0,180.0 L833.4,184.2 L835.9,189.7 L847.0,189.7 L850.4,195.3 L860.6,192.7 L864.8,185.1 L869.0,177.4 L875.0,174.0 L879.2,168.1 L883.5,165.9 L886.9,168.1 L892.8,175.7 L897.9,176.6 L901.3,183.4 L905.6,191.0 L911.5,191.9 L919.1,194.1 L923.4,199.5 L928.5,202.9 L938.7,203.3 L942.9,209.7 L947.1,212.8 L953.9,212.2 L959.0,211.4 L965.8,210.6 L970.9,203.8 L974.3,200.4 L979.4,202.1 L986.2,207.2 L999.8,207.7 L1008.3,212.2 L1013.4,214.8 L1016.8,216.5 L1020.2,224.1 L1023.5,224.1" fill="none" stroke="#0e917b" stroke-width="1.8" stroke-linejoin="round" stroke-linecap="butt" />
<path d="M50.0,232.4 L67.0,232.4 L70.4,229.4 L104.3,229.4 L109.4,226.4 L114.5,223.9 L120.5,223.0 L124.7,219.6 L134.9,218.8 L150.0,210.7 L151.9,210.7 L175.6,210.7 L179.4,229.7 L183.7,231.4 L229.5,231.8 L241.4,233.1 L246.5,238.2 L249.9,243.3 L256.8,247.4 L264.4,247.4 L268.7,242.6 L275.5,230.7 L284.0,229.0 L317.9,229.0 L322.2,225.7 L337.4,225.3 L341.7,210.4 L345.1,207.8 L348.5,200.2 L350.2,190.0 L351.9,168.9 L356.1,166.4 L358.7,162.2 L367.1,161.3 L372.2,149.4 L376.5,147.7 L390.1,147.7 L396.0,145.2 L399.4,144.3 L432.5,144.3 L436.8,139.2 L443.5,131.6 L450.0,131.6 L484.0,132.5 L488.2,129.1 L493.3,127.4 L497.5,123.5 L518.8,122.3 L524.7,119.2 L554.4,118.4 L558.7,114.1 L568.8,113.3 L579.0,113.3 L584.1,105.7 L619.8,105.7 L627.4,104.8 L630.8,106.5 L635.1,113.3 L640.2,113.3 L660.4,113.3 L665.5,114.1 L668.0,99.7 L672.3,89.2 L709.6,89.2 L717.2,94.3 L721.5,94.3 L729.1,99.7 L733.4,109.9 L741.9,110.7 L748.7,113.3 L755.4,120.1 L767.3,120.1 L775.8,123.5 L779.2,128.6 L782.6,135.0 L786.9,141.6 L789.4,142.0 L802.1,142.0 L804.7,152.2 L807.2,164.0 L811.5,174.2 L816.6,175.6 L825.1,178.5 L829.3,179.7 L830.0,178.8 L833.4,180.8 L864.0,180.5 L868.2,177.4 L918.3,177.4 L922.5,178.3 L927.6,183.4 L933.6,187.6 L961.6,188.0 L965.8,195.3 L970.1,201.2 L977.7,203.8 L982.8,206.3 L988.7,207.2 L1004.0,207.7 L1007.4,209.7 L1013.4,214.5 L1023.5,214.5" fill="none" stroke="#a91217" stroke-width="1.8" stroke-linejoin="round" stroke-linecap="butt" />
<path d="M50.0,221.2 L85.7,220.5 L89.9,228.5 L100.9,229.0 L109.4,231.0 L129.8,231.0 L135.7,234.4 L140.0,234.4 L145.1,232.4 L153.6,231.9 L160.4,229.0 L168.8,224.6 L175.6,224.6 L185.8,225.6 L189.2,224.6 L196.0,224.6 L200.3,223.4 L203.7,223.9 L207.9,221.7 L215.5,221.2 L219.8,218.3 L230.0,217.4 L235.1,215.4 L245.2,207.6 L250.0,207.3 L267.8,206.6 L271.2,219.7 L274.6,229.9 L284.0,234.5 L299.2,235.0 L306.9,240.6 L311.1,238.4 L320.5,237.5 L324.7,241.8 L336.6,242.6 L340.0,245.2 L345.1,251.5 L351.9,252.0 L357.0,248.6 L362.1,246.0 L367.1,239.2 L372.2,229.4 L378.2,228.2 L382.4,212.1 L385.8,211.2 L390.1,207.8 L398.6,207.8 L402.8,201.9 L413.0,201.9 L417.2,197.6 L432.5,196.5 L434.2,191.9 L436.8,182.5 L443.5,173.2 L447.8,157.9 L450.0,156.2 L455.1,153.5 L462.7,153.2 L468.7,144.7 L473.8,139.6 L485.7,138.8 L492.4,137.6 L496.7,135.4 L504.3,135.4 L508.6,138.8 L517.9,139.3 L521.3,139.9 L528.1,139.6 L533.2,134.2 L538.3,132.0 L550.2,131.1 L553.6,129.8 L562.1,129.8 L566.0,134.9 L568.8,133.7 L581.6,133.2 L587.5,126.0 L591.8,119.2 L607.9,118.4 L613.8,113.8 L618.1,111.6 L623.2,112.1 L631.7,115.5 L640.2,113.8 L650.2,112.9 L653.6,109.0 L658.7,107.3 L671.4,107.3 L676.5,103.9 L687.5,103.9 L696.0,106.5 L704.5,108.2 L707.9,107.9 L714.7,107.3 L723.2,107.3 L726.6,109.0 L730.0,114.1 L741.9,115.8 L748.7,119.7 L755.4,116.7 L760.5,114.1 L763.9,95.5 L768.2,85.3 L772.4,83.6 L779.2,83.1 L784.3,80.7 L789.4,79.3 L797.9,79.3 L802.1,84.4 L805.5,89.5 L813.2,102.2 L824.2,109.9 L829.3,121.4 L832.7,121.8 L837.8,132.0 L839.3,135.0 L843.6,140.9 L850.4,146.0 L858.0,151.1 L869.0,152.8 L875.8,157.1 L881.8,162.5 L886.0,160.8 L893.7,155.4 L897.1,155.7 L901.3,163.9 L905.6,169.8 L918.3,177.4 L923.4,178.3 L928.5,182.9 L931.9,185.1 L942.9,185.6 L947.1,188.0 L954.8,186.8 L958.2,183.4 L961.6,177.1 L970.9,175.4 L977.7,171.5 L982.8,173.7 L987.0,176.6 L992.1,177.1 L999.8,183.9 L1006.6,184.6 L1014.2,186.8 L1018.5,187.6 L1023.5,193.1 L1025.6,193.7 L1030.6,197.6 L1034.9,197.6 L1042.5,200.5 L1050.2,199.3 L1057.0,199.3 L1061.2,203.3 L1064.6,203.9 L1068.8,200.5 L1073.1,203.3 L1079.0,204.7 L1084.1,207.2 L1094.3,207.2 L1100.3,209.5 L1107.0,215.2 L1110.4,215.7 L1113.8,219.1 L1118.4,219.1" fill="none" stroke="#1338c9" stroke-width="1.75" stroke-linejoin="round" stroke-linecap="butt" />
<path d="M50.0,233.6 L67.0,233.6 L70.4,230.2 L104.3,230.2 L119.6,228.5 L123.9,224.2 L134.9,224.2 L137.4,220.0 L141.7,214.9 L146.8,212.7 L151.9,212.4 L185.8,212.7 L189.2,229.3 L215.5,229.3 L218.1,224.2 L235.1,223.9 L241.9,219.5 L250.0,218.8 L267.8,219.2 L273.8,229.9 L321.3,230.7 L325.6,232.4 L334.9,232.4 L338.3,234.1 L345.1,240.1 L365.4,240.6 L372.2,229.4 L413.8,229.4 L417.2,225.7 L432.5,225.3 L436.8,210.4 L443.5,203.9 L450.0,203.6 L467.8,204.0 L471.2,202.3 L524.7,202.3 L530.6,199.2 L540.0,198.9 L543.0,194.5 L546.8,164.4 L551.9,161.9 L554.9,156.8 L561.2,156.8 L564.6,150.0 L565.4,144.7 L581.6,144.4 L589.2,137.9 L592.6,132.5 L630.0,132.0 L635.1,127.7 L638.5,122.6 L640.2,122.6 L711.3,122.1 L717.2,118.0 L748.7,118.0 L752.1,113.3 L759.7,113.3 L763.1,99.7 L767.3,89.2 L804.7,89.2 L813.2,94.6 L817.4,94.6 L825.1,99.7 L828.5,110.7 L840.0,110.7 L846.6,115.7 L851.9,120.5 L916.0,120.5 L924.4,121.3 L927.5,123.4 L962.2,123.4 L969.5,126.8 L972.7,130.4 L981.1,145.1 L995.8,145.5 L998.1,152.8 L1000.6,163.0 L1004.0,170.7 L1007.4,176.6 L1018.5,178.3 L1023.5,183.4 L1027.2,184.3 L1030.6,188.1 L1103.7,188.1 L1107.0,190.8 L1118.4,190.8" fill="none" stroke="#ee2342" stroke-width="1.75" stroke-linejoin="round" stroke-linecap="butt" />
<line x1="51.5" y1="224.2" x2="51.5" y2="231.0" stroke="#26a69a" stroke-width="1"/>
<rect x="50.0" y="227.6" width="3" height="2.0" fill="#26a69a"/>
<line x1="55.5" y1="224.6" x2="55.5" y2="230.2" stroke="#26a69a" stroke-width="1"/>
<rect x="54.0" y="225.9" width="3" height="1.7" fill="#26a69a"/>
<line x1="59.5" y1="222.5" x2="59.5" y2="227.6" stroke="#26a69a" stroke-width="1"/>
<rect x="58.0" y="223.0" width="3" height="3.7" fill="#26a69a"/>
<line x1="63.5" y1="213.7" x2="63.5" y2="225.9" stroke="#26a69a" stroke-width="1"/>
<rect x="62.0" y="214.4" width="3" height="9.8" fill="#26a69a"/>
<line x1="67.5" y1="210.7" x2="67.5" y2="221.7" stroke="#26a69a" stroke-width="1"/>
<rect x="66.0" y="213.2" width="3" height="1.7" fill="#26a69a"/>
<line x1="70.5" y1="206.9" x2="70.5" y2="214.9" stroke="#26a69a" stroke-width="1"/>
<rect x="69.0" y="210.7" width="3" height="3.1" fill="#26a69a"/>
<line x1="74.5" y1="206.1" x2="74.5" y2="229.3" stroke="#ef5350" stroke-width="1"/>
<rect x="73.0" y="210.7" width="3" height="16.1" fill="#ef5350"/>
<line x1="78.5" y1="210.7" x2="78.5" y2="233.6" stroke="#26a69a" stroke-width="1"/>
<rect x="77.0" y="222.5" width="3" height="4.2" fill="#26a69a"/>
<line x1="82.5" y1="212.7" x2="82.5" y2="225.9" stroke="#26a69a" stroke-width="1"/>
<rect x="81.0" y="220.5" width="3" height="1.0" fill="#26a69a"/>
<line x1="86.5" y1="219.5" x2="86.5" y2="225.9" stroke="#26a69a" stroke-width="1"/>
<rect x="85.0" y="220.5" width="3" height="1.0" fill="#26a69a"/>
<line x1="90.5" y1="216.6" x2="90.5" y2="225.1" stroke="#26a69a" stroke-width="1"/>
<rect x="89.0" y="217.8" width="3" height="2.7" fill="#26a69a"/>
<line x1="93.5" y1="214.0" x2="93.5" y2="225.1" stroke="#ef5350" stroke-width="1"/>
<rect x="92.0" y="217.4" width="3" height="5.1" fill="#ef5350"/>
<line x1="97.5" y1="212.4" x2="97.5" y2="225.1" stroke="#26a69a" stroke-width="1"/>
<rect x="96.0" y="219.5" width="3" height="3.1" fill="#26a69a"/>
<line x1="101.5" y1="204.2" x2="101.5" y2="233.6" stroke="#ef5350" stroke-width="1"/>
<rect x="100.0" y="219.1" width="3" height="6.8" fill="#ef5350"/>
<line x1="105.5" y1="223.4" x2="105.5" y2="235.3" stroke="#ef5350" stroke-width="1"/>
<rect x="104.0" y="225.6" width="3" height="8.0" fill="#ef5350"/>
<line x1="109.5" y1="223.4" x2="109.5" y2="235.3" stroke="#26a69a" stroke-width="1"/>
<rect x="108.0" y="225.9" width="3" height="7.6" fill="#26a69a"/>
<line x1="112.5" y1="224.2" x2="112.5" y2="229.3" stroke="#ef5350" stroke-width="1"/>
<rect x="111.0" y="225.6" width="3" height="2.4" fill="#ef5350"/>
<line x1="116.5" y1="211.5" x2="116.5" y2="234.1" stroke="#26a69a" stroke-width="1"/>
<rect x="115.0" y="212.7" width="3" height="15.3" fill="#26a69a"/>
<line x1="120.5" y1="207.3" x2="120.5" y2="219.5" stroke="#ef5350" stroke-width="1"/>
<rect x="119.0" y="211.5" width="3" height="3.4" fill="#ef5350"/>
<line x1="124.5" y1="196.2" x2="124.5" y2="214.9" stroke="#26a69a" stroke-width="1"/>
<rect x="123.0" y="200.8" width="3" height="12.9" fill="#26a69a"/>
<line x1="128.5" y1="200.1" x2="128.5" y2="211.5" stroke="#ef5350" stroke-width="1"/>
<rect x="127.0" y="200.5" width="3" height="10.2" fill="#ef5350"/>
<line x1="131.5" y1="206.4" x2="131.5" y2="213.7" stroke="#ef5350" stroke-width="1"/>
<rect x="130.0" y="209.8" width="3" height="1.7" fill="#ef5350"/>
<line x1="135.5" y1="209.8" x2="135.5" y2="221.7" stroke="#ef5350" stroke-width="1"/>
<rect x="134.0" y="210.7" width="3" height="8.8" fill="#ef5350"/>
<line x1="139.5" y1="203.9" x2="139.5" y2="220.5" stroke="#26a69a" stroke-width="1"/>
<rect x="138.0" y="213.2" width="3" height="6.3" fill="#26a69a"/>
<line x1="143.5" y1="192.0" x2="143.5" y2="217.4" stroke="#26a69a" stroke-width="1"/>
<rect x="142.0" y="207.3" width="3" height="6.5" fill="#26a69a"/>
<line x1="147.5" y1="186.0" x2="147.5" y2="208.1" stroke="#26a69a" stroke-width="1"/>
<rect x="146.0" y="186.9" width="3" height="20.4" fill="#26a69a"/>
<line x1="150.5" y1="185.5" x2="150.5" y2="195.4" stroke="#ef5350" stroke-width="1"/>
<rect x="149.0" y="186.9" width="3" height="5.6" fill="#ef5350"/>
<line x1="154.5" y1="192.0" x2="154.5" y2="208.1" stroke="#ef5350" stroke-width="1"/>
<rect x="153.0" y="192.5" width="3" height="9.7" fill="#ef5350"/>
<line x1="158.5" y1="197.9" x2="158.5" y2="204.7" stroke="#ef5350" stroke-width="1"/>
<rect x="157.0" y="201.8" width="3" height="1.2" fill="#ef5350"/>
<line x1="162.5" y1="200.5" x2="162.5" y2="214.9" stroke="#ef5350" stroke-width="1"/>
<rect x="161.0" y="202.2" width="3" height="8.1" fill="#ef5350"/>
<line x1="166.5" y1="206.4" x2="166.5" y2="215.4" stroke="#26a69a" stroke-width="1"/>
<rect x="165.0" y="209.5" width="3" height="1.2" fill="#26a69a"/>
<line x1="170.5" y1="200.5" x2="170.5" y2="215.4" stroke="#ef5350" stroke-width="1"/>
<rect x="169.0" y="209.5" width="3" height="1.5" fill="#ef5350"/>
<line x1="173.5" y1="202.2" x2="173.5" y2="213.2" stroke="#26a69a" stroke-width="1"/>
<rect x="172.0" y="209.8" width="3" height="1.0" fill="#26a69a"/>
<line x1="177.5" y1="207.6" x2="177.5" y2="270.4" stroke="#ef5350" stroke-width="1"/>
<rect x="176.0" y="209.5" width="3" height="54.2" fill="#ef5350"/>
<line x1="181.5" y1="253.9" x2="181.5" y2="276.9" stroke="#26a69a" stroke-width="1"/>
<rect x="180.0" y="258.2" width="3" height="5.4" fill="#26a69a"/>
<line x1="185.5" y1="241.2" x2="185.5" y2="268.7" stroke="#ef5350" stroke-width="1"/>
<rect x="184.0" y="258.2" width="3" height="7.1" fill="#ef5350"/>
<line x1="189.5" y1="254.5" x2="189.5" y2="265.8" stroke="#26a69a" stroke-width="1"/>
<rect x="188.0" y="263.6" width="3" height="1.7" fill="#26a69a"/>
<line x1="192.5" y1="253.9" x2="192.5" y2="267.0" stroke="#26a69a" stroke-width="1"/>
<rect x="191.0" y="254.8" width="3" height="10.2" fill="#26a69a"/>
<line x1="196.5" y1="249.4" x2="196.5" y2="257.3" stroke="#26a69a" stroke-width="1"/>
<rect x="195.0" y="253.9" width="3" height="1.7" fill="#26a69a"/>
<line x1="200.5" y1="222.5" x2="200.5" y2="258.5" stroke="#26a69a" stroke-width="1"/>
<rect x="199.0" y="234.4" width="3" height="19.5" fill="#26a69a"/>
<line x1="204.5" y1="232.7" x2="204.5" y2="238.2" stroke="#ef5350" stroke-width="1"/>
<rect x="203.0" y="234.4" width="3" height="1.0" fill="#ef5350"/>
<line x1="208.5" y1="225.9" x2="208.5" y2="247.7" stroke="#ef5350" stroke-width="1"/>
<rect x="207.0" y="234.4" width="3" height="1.4" fill="#ef5350"/>
<line x1="211.5" y1="232.7" x2="211.5" y2="245.5" stroke="#ef5350" stroke-width="1"/>
<rect x="210.0" y="235.3" width="3" height="3.4" fill="#ef5350"/>
<line x1="215.5" y1="224.6" x2="215.5" y2="238.7" stroke="#26a69a" stroke-width="1"/>
<rect x="214.0" y="230.2" width="3" height="8.1" fill="#26a69a"/>
<line x1="219.5" y1="229.0" x2="219.5" y2="238.2" stroke="#ef5350" stroke-width="1"/>
<rect x="218.0" y="229.8" width="3" height="4.9" fill="#ef5350"/>
<line x1="223.5" y1="225.9" x2="223.5" y2="242.9" stroke="#26a69a" stroke-width="1"/>
<rect x="222.0" y="228.0" width="3" height="6.8" fill="#26a69a"/>
<line x1="227.5" y1="227.3" x2="227.5" y2="262.4" stroke="#ef5350" stroke-width="1"/>
<rect x="226.0" y="228.0" width="3" height="34.0" fill="#ef5350"/>
<line x1="230.5" y1="254.8" x2="230.5" y2="273.1" stroke="#ef5350" stroke-width="1"/>
<rect x="229.0" y="261.9" width="3" height="10.2" fill="#ef5350"/>
<line x1="234.5" y1="266.7" x2="234.5" y2="278.6" stroke="#ef5350" stroke-width="1"/>
<rect x="233.0" y="272.1" width="3" height="4.8" fill="#ef5350"/>
<line x1="238.5" y1="271.8" x2="238.5" y2="277.7" stroke="#26a69a" stroke-width="1"/>
<rect x="237.0" y="275.2" width="3" height="1.7" fill="#26a69a"/>
<line x1="242.5" y1="270.9" x2="242.5" y2="281.1" stroke="#ef5350" stroke-width="1"/>
<rect x="241.0" y="275.5" width="3" height="4.8" fill="#ef5350"/>
<line x1="246.5" y1="278.6" x2="246.5" y2="284.5" stroke="#ef5350" stroke-width="1"/>
<rect x="245.0" y="280.3" width="3" height="3.4" fill="#ef5350"/>
<line x1="250.5" y1="264.7" x2="250.5" y2="294.9" stroke="#26a69a" stroke-width="1"/>
<rect x="249.0" y="265.7" width="3" height="17.3" fill="#26a69a"/>
<line x1="253.5" y1="220.6" x2="253.5" y2="285.6" stroke="#26a69a" stroke-width="1"/>
<rect x="252.0" y="221.4" width="3" height="45.8" fill="#26a69a"/>
<line x1="257.5" y1="217.2" x2="257.5" y2="225.7" stroke="#26a69a" stroke-width="1"/>
<rect x="256.0" y="218.0" width="3" height="3.4" fill="#26a69a"/>
<line x1="261.5" y1="205.3" x2="261.5" y2="221.4" stroke="#26a69a" stroke-width="1"/>
<rect x="260.0" y="207.0" width="3" height="13.6" fill="#26a69a"/>
<line x1="265.5" y1="200.2" x2="265.5" y2="207.8" stroke="#26a69a" stroke-width="1"/>
<rect x="264.0" y="202.7" width="3" height="4.2" fill="#26a69a"/>
<line x1="269.5" y1="191.9" x2="269.5" y2="207.1" stroke="#ef5350" stroke-width="1"/>
<rect x="268.0" y="202.1" width="3" height="3.4" fill="#ef5350"/>
<line x1="272.5" y1="177.4" x2="272.5" y2="209.7" stroke="#26a69a" stroke-width="1"/>
<rect x="271.0" y="180.0" width="3" height="25.5" fill="#26a69a"/>
<line x1="276.5" y1="163.3" x2="276.5" y2="185.9" stroke="#26a69a" stroke-width="1"/>
<rect x="275.0" y="168.1" width="3" height="11.9" fill="#26a69a"/>
<line x1="280.5" y1="166.4" x2="280.5" y2="179.1" stroke="#ef5350" stroke-width="1"/>
<rect x="279.0" y="168.1" width="3" height="10.5" fill="#ef5350"/>
<line x1="284.5" y1="174.0" x2="284.5" y2="181.7" stroke="#26a69a" stroke-width="1"/>
<rect x="283.0" y="175.2" width="3" height="3.9" fill="#26a69a"/>
<line x1="288.5" y1="171.5" x2="288.5" y2="181.7" stroke="#26a69a" stroke-width="1"/>
<rect x="287.0" y="172.3" width="3" height="2.9" fill="#26a69a"/>
<line x1="291.5" y1="167.2" x2="291.5" y2="181.7" stroke="#26a69a" stroke-width="1"/>
<rect x="290.0" y="169.8" width="3" height="2.5" fill="#26a69a"/>
<line x1="295.5" y1="168.9" x2="295.5" y2="185.1" stroke="#ef5350" stroke-width="1"/>
<rect x="294.0" y="170.1" width="3" height="12.4" fill="#ef5350"/>
<line x1="299.5" y1="163.9" x2="299.5" y2="183.0" stroke="#26a69a" stroke-width="1"/>
<rect x="298.0" y="176.6" width="3" height="5.9" fill="#26a69a"/>
<line x1="303.5" y1="171.5" x2="303.5" y2="179.1" stroke="#ef5350" stroke-width="1"/>
<rect x="302.0" y="176.2" width="3" height="1.2" fill="#ef5350"/>
<line x1="307.5" y1="170.6" x2="307.5" y2="179.6" stroke="#ef5350" stroke-width="1"/>
<rect x="306.0" y="176.2" width="3" height="2.0" fill="#ef5350"/>
<line x1="310.5" y1="164.7" x2="310.5" y2="178.3" stroke="#26a69a" stroke-width="1"/>
<rect x="309.0" y="169.8" width="3" height="7.6" fill="#26a69a"/>
<line x1="314.5" y1="165.0" x2="314.5" y2="179.6" stroke="#ef5350" stroke-width="1"/>
<rect x="313.0" y="169.8" width="3" height="3.1" fill="#ef5350"/>
<line x1="318.5" y1="166.1" x2="318.5" y2="178.3" stroke="#26a69a" stroke-width="1"/>
<rect x="317.0" y="168.1" width="3" height="4.8" fill="#26a69a"/>
<line x1="322.5" y1="155.9" x2="322.5" y2="174.9" stroke="#ef5350" stroke-width="1"/>
<rect x="321.0" y="168.4" width="3" height="2.2" fill="#ef5350"/>
<line x1="326.5" y1="159.6" x2="326.5" y2="175.7" stroke="#26a69a" stroke-width="1"/>
<rect x="325.0" y="165.2" width="3" height="5.4" fill="#26a69a"/>
<line x1="330.5" y1="157.1" x2="330.5" y2="166.4" stroke="#26a69a" stroke-width="1"/>
<rect x="329.0" y="161.3" width="3" height="3.9" fill="#26a69a"/>
<line x1="333.5" y1="156.2" x2="333.5" y2="163.0" stroke="#ef5350" stroke-width="1"/>
<rect x="332.0" y="161.0" width="3" height="1.7" fill="#ef5350"/>
<line x1="337.5" y1="157.9" x2="337.5" y2="171.5" stroke="#26a69a" stroke-width="1"/>
<rect x="336.0" y="161.3" width="3" height="1.4" fill="#26a69a"/>
<line x1="341.5" y1="126.5" x2="341.5" y2="175.7" stroke="#26a69a" stroke-width="1"/>
<rect x="340.0" y="130.7" width="3" height="30.6" fill="#26a69a"/>
<line x1="345.5" y1="121.4" x2="345.5" y2="166.4" stroke="#26a69a" stroke-width="1"/>
<rect x="344.0" y="121.9" width="3" height="8.8" fill="#26a69a"/>
<line x1="349.5" y1="113.8" x2="349.5" y2="124.8" stroke="#26a69a" stroke-width="1"/>
<rect x="348.0" y="120.6" width="3" height="1.7" fill="#26a69a"/>
<line x1="352.5" y1="112.4" x2="352.5" y2="123.1" stroke="#26a69a" stroke-width="1"/>
<rect x="351.0" y="118.5" width="3" height="2.0" fill="#26a69a"/>
<line x1="356.5" y1="118.0" x2="356.5" y2="129.0" stroke="#ef5350" stroke-width="1"/>
<rect x="355.0" y="118.5" width="3" height="8.5" fill="#ef5350"/>
<line x1="360.5" y1="114.6" x2="360.5" y2="128.7" stroke="#26a69a" stroke-width="1"/>
<rect x="359.0" y="124.8" width="3" height="2.2" fill="#26a69a"/>
<line x1="364.5" y1="120.6" x2="364.5" y2="147.7" stroke="#ef5350" stroke-width="1"/>
<rect x="363.0" y="124.5" width="3" height="22.9" fill="#ef5350"/>
<line x1="368.5" y1="126.5" x2="368.5" y2="152.0" stroke="#26a69a" stroke-width="1"/>
<rect x="367.0" y="131.1" width="3" height="16.3" fill="#26a69a"/>
<line x1="371.5" y1="127.7" x2="371.5" y2="135.5" stroke="#26a69a" stroke-width="1"/>
<rect x="370.0" y="129.4" width="3" height="2.2" fill="#26a69a"/>
<line x1="375.5" y1="110.7" x2="375.5" y2="134.5" stroke="#26a69a" stroke-width="1"/>
<rect x="374.0" y="112.4" width="3" height="18.3" fill="#26a69a"/>
<line x1="379.5" y1="109.5" x2="379.5" y2="120.2" stroke="#ef5350" stroke-width="1"/>
<rect x="378.0" y="112.4" width="3" height="3.9" fill="#ef5350"/>
<line x1="383.5" y1="115.5" x2="383.5" y2="143.0" stroke="#ef5350" stroke-width="1"/>
<rect x="382.0" y="116.3" width="3" height="19.2" fill="#ef5350"/>
<line x1="387.5" y1="127.4" x2="387.5" y2="141.3" stroke="#ef5350" stroke-width="1"/>
<rect x="386.0" y="135.5" width="3" height="2.0" fill="#ef5350"/>
<line x1="390.5" y1="130.7" x2="390.5" y2="138.9" stroke="#ef5350" stroke-width="1"/>
<rect x="389.0" y="137.2" width="3" height="1.2" fill="#ef5350"/>
<line x1="394.5" y1="133.3" x2="394.5" y2="139.2" stroke="#26a69a" stroke-width="1"/>
<rect x="393.0" y="135.0" width="3" height="3.1" fill="#26a69a"/>
<line x1="398.5" y1="129.4" x2="398.5" y2="138.4" stroke="#ef5350" stroke-width="1"/>
<rect x="397.0" y="135.0" width="3" height="2.2" fill="#ef5350"/>
<line x1="402.5" y1="129.4" x2="402.5" y2="140.9" stroke="#26a69a" stroke-width="1"/>
<rect x="401.0" y="130.4" width="3" height="6.8" fill="#26a69a"/>
<line x1="406.5" y1="126.5" x2="406.5" y2="139.2" stroke="#ef5350" stroke-width="1"/>
<rect x="405.0" y="130.4" width="3" height="6.8" fill="#ef5350"/>
<line x1="410.5" y1="117.5" x2="410.5" y2="140.1" stroke="#26a69a" stroke-width="1"/>
<rect x="409.0" y="124.5" width="3" height="12.7" fill="#26a69a"/>
<line x1="413.5" y1="112.1" x2="413.5" y2="156.6" stroke="#ef5350" stroke-width="1"/>
<rect x="412.0" y="124.5" width="3" height="29.2" fill="#ef5350"/>
<line x1="417.5" y1="143.5" x2="417.5" y2="154.2" stroke="#26a69a" stroke-width="1"/>
<rect x="416.0" y="151.1" width="3" height="2.5" fill="#26a69a"/>
<line x1="421.5" y1="146.0" x2="421.5" y2="152.5" stroke="#26a69a" stroke-width="1"/>
<rect x="420.0" y="146.4" width="3" height="5.1" fill="#26a69a"/>
<line x1="425.5" y1="144.0" x2="425.5" y2="160.5" stroke="#ef5350" stroke-width="1"/>
<rect x="424.0" y="146.4" width="3" height="8.1" fill="#ef5350"/>
<line x1="429.5" y1="111.2" x2="429.5" y2="154.9" stroke="#26a69a" stroke-width="1"/>
<rect x="428.0" y="111.2" width="3" height="43.3" fill="#26a69a"/>
<line x1="432.5" y1="110.7" x2="432.5" y2="138.4" stroke="#ef5350" stroke-width="1"/>
<rect x="431.0" y="111.2" width="3" height="5.6" fill="#ef5350"/>
<line x1="436.5" y1="103.2" x2="436.5" y2="150.3" stroke="#ef5350" stroke-width="1"/>
<rect x="435.0" y="116.8" width="3" height="30.1" fill="#ef5350"/>
<line x1="440.5" y1="144.7" x2="440.5" y2="150.3" stroke="#ef5350" stroke-width="1"/>
<rect x="439.0" y="146.4" width="3" height="1.4" fill="#ef5350"/>
<line x1="444.5" y1="146.9" x2="444.5" y2="152.5" stroke="#ef5350" stroke-width="1"/>
<rect x="443.0" y="147.7" width="3" height="3.1" fill="#ef5350"/>
<line x1="448.5" y1="141.8" x2="448.5" y2="152.5" stroke="#26a69a" stroke-width="1"/>
<rect x="447.0" y="149.1" width="3" height="1.7" fill="#26a69a"/>
<line x1="451.5" y1="127.7" x2="451.5" y2="153.2" stroke="#26a69a" stroke-width="1"/>
<rect x="450.0" y="132.8" width="3" height="16.1" fill="#26a69a"/>
<line x1="455.5" y1="126.0" x2="455.5" y2="146.4" stroke="#ef5350" stroke-width="1"/>
<rect x="454.0" y="132.0" width="3" height="8.5" fill="#ef5350"/>
<line x1="459.5" y1="136.6" x2="459.5" y2="152.3" stroke="#26a69a" stroke-width="1"/>
<rect x="458.0" y="137.1" width="3" height="2.9" fill="#26a69a"/>
<line x1="463.5" y1="129.4" x2="463.5" y2="137.9" stroke="#26a69a" stroke-width="1"/>
<rect x="462.0" y="130.3" width="3" height="6.8" fill="#26a69a"/>
<line x1="467.5" y1="124.0" x2="467.5" y2="131.1" stroke="#26a69a" stroke-width="1"/>
<rect x="466.0" y="127.7" width="3" height="2.5" fill="#26a69a"/>
<line x1="471.5" y1="124.0" x2="471.5" y2="133.7" stroke="#ef5350" stroke-width="1"/>
<rect x="470.0" y="127.7" width="3" height="1.2" fill="#ef5350"/>
<line x1="474.5" y1="117.5" x2="474.5" y2="134.2" stroke="#ef5350" stroke-width="1"/>
<rect x="473.0" y="128.6" width="3" height="1.2" fill="#ef5350"/>
<line x1="478.5" y1="122.6" x2="478.5" y2="143.3" stroke="#ef5350" stroke-width="1"/>
<rect x="477.0" y="129.8" width="3" height="12.4" fill="#ef5350"/>
<line x1="482.5" y1="123.0" x2="482.5" y2="143.0" stroke="#26a69a" stroke-width="1"/>
<rect x="481.0" y="124.0" width="3" height="18.2" fill="#26a69a"/>
<line x1="486.5" y1="117.2" x2="486.5" y2="127.7" stroke="#26a69a" stroke-width="1"/>
<rect x="485.0" y="118.9" width="3" height="5.1" fill="#26a69a"/>
<line x1="490.5" y1="97.2" x2="490.5" y2="116.7" stroke="#26a69a" stroke-width="1"/>
<rect x="489.0" y="99.7" width="3" height="14.1" fill="#26a69a"/>
<line x1="493.5" y1="96.3" x2="493.5" y2="102.3" stroke="#ef5350" stroke-width="1"/>
<rect x="492.0" y="100.2" width="3" height="1.2" fill="#ef5350"/>
<line x1="497.5" y1="84.4" x2="497.5" y2="102.3" stroke="#26a69a" stroke-width="1"/>
<rect x="496.0" y="91.7" width="3" height="9.7" fill="#26a69a"/>
<line x1="501.5" y1="90.0" x2="501.5" y2="119.2" stroke="#ef5350" stroke-width="1"/>
<rect x="500.0" y="91.7" width="3" height="26.1" fill="#ef5350"/>
<line x1="505.5" y1="109.4" x2="505.5" y2="122.6" stroke="#26a69a" stroke-width="1"/>
<rect x="504.0" y="113.8" width="3" height="3.7" fill="#26a69a"/>
<line x1="509.5" y1="110.4" x2="509.5" y2="120.9" stroke="#26a69a" stroke-width="1"/>
<rect x="508.0" y="113.3" width="3" height="1.2" fill="#26a69a"/>
<line x1="512.5" y1="105.7" x2="512.5" y2="113.8" stroke="#26a69a" stroke-width="1"/>
<rect x="511.0" y="106.2" width="3" height="7.1" fill="#26a69a"/>
<line x1="516.5" y1="105.7" x2="516.5" y2="110.4" stroke="#ef5350" stroke-width="1"/>
<rect x="515.0" y="106.2" width="3" height="1.5" fill="#ef5350"/>
<line x1="520.5" y1="98.0" x2="520.5" y2="119.2" stroke="#ef5350" stroke-width="1"/>
<rect x="519.0" y="107.4" width="3" height="8.5" fill="#ef5350"/>
<line x1="524.5" y1="107.4" x2="524.5" y2="117.5" stroke="#26a69a" stroke-width="1"/>
<rect x="523.0" y="113.8" width="3" height="2.0" fill="#26a69a"/>
<line x1="528.5" y1="103.1" x2="528.5" y2="127.7" stroke="#26a69a" stroke-width="1"/>
<rect x="527.0" y="105.3" width="3" height="10.5" fill="#26a69a"/>
<line x1="531.5" y1="102.3" x2="531.5" y2="109.0" stroke="#ef5350" stroke-width="1"/>
<rect x="530.0" y="104.8" width="3" height="1.2" fill="#ef5350"/>
<line x1="535.5" y1="100.2" x2="535.5" y2="106.5" stroke="#26a69a" stroke-width="1"/>
<rect x="534.0" y="100.6" width="3" height="5.1" fill="#26a69a"/>
<line x1="539.5" y1="96.3" x2="539.5" y2="101.4" stroke="#26a69a" stroke-width="1"/>
<rect x="538.0" y="99.2" width="3" height="1.4" fill="#26a69a"/>
<line x1="543.5" y1="92.1" x2="543.5" y2="112.4" stroke="#ef5350" stroke-width="1"/>
<rect x="542.0" y="99.2" width="3" height="7.3" fill="#ef5350"/>
<line x1="547.5" y1="104.0" x2="547.5" y2="116.7" stroke="#ef5350" stroke-width="1"/>
<rect x="546.0" y="106.2" width="3" height="4.6" fill="#ef5350"/>
<line x1="551.5" y1="86.1" x2="551.5" y2="111.6" stroke="#26a69a" stroke-width="1"/>
<rect x="550.0" y="97.5" width="3" height="13.2" fill="#26a69a"/>
<line x1="554.5" y1="88.7" x2="554.5" y2="98.5" stroke="#26a69a" stroke-width="1"/>
<rect x="553.0" y="90.9" width="3" height="6.6" fill="#26a69a"/>
<line x1="558.5" y1="85.6" x2="558.5" y2="92.9" stroke="#26a69a" stroke-width="1"/>
<rect x="557.0" y="87.5" width="3" height="4.2" fill="#26a69a"/>
<line x1="562.5" y1="87.0" x2="562.5" y2="92.9" stroke="#ef5350" stroke-width="1"/>
<rect x="561.0" y="87.5" width="3" height="1.2" fill="#ef5350"/>
<line x1="566.5" y1="82.7" x2="566.5" y2="100.6" stroke="#ef5350" stroke-width="1"/>
<rect x="565.0" y="88.7" width="3" height="11.0" fill="#ef5350"/>
<line x1="570.5" y1="92.9" x2="570.5" y2="109.9" stroke="#26a69a" stroke-width="1"/>
<rect x="569.0" y="96.3" width="3" height="3.4" fill="#26a69a"/>
<line x1="573.5" y1="88.7" x2="573.5" y2="120.6" stroke="#ef5350" stroke-width="1"/>
<rect x="572.0" y="96.3" width="3" height="17.5" fill="#ef5350"/>
<line x1="577.5" y1="99.7" x2="577.5" y2="114.5" stroke="#26a69a" stroke-width="1"/>
<rect x="576.0" y="103.1" width="3" height="10.7" fill="#26a69a"/>
<line x1="581.5" y1="97.2" x2="581.5" y2="104.0" stroke="#26a69a" stroke-width="1"/>
<rect x="580.0" y="102.3" width="3" height="1.2" fill="#26a69a"/>
<line x1="585.5" y1="101.4" x2="585.5" y2="113.3" stroke="#ef5350" stroke-width="1"/>
<rect x="584.0" y="102.3" width="3" height="8.5" fill="#ef5350"/>
<line x1="589.5" y1="104.0" x2="589.5" y2="113.3" stroke="#26a69a" stroke-width="1"/>
<rect x="588.0" y="104.8" width="3" height="5.9" fill="#26a69a"/>
<line x1="592.5" y1="99.2" x2="592.5" y2="115.8" stroke="#ef5350" stroke-width="1"/>
<rect x="591.0" y="104.0" width="3" height="11.0" fill="#ef5350"/>
<line x1="596.5" y1="106.5" x2="596.5" y2="126.9" stroke="#26a69a" stroke-width="1"/>
<rect x="595.0" y="113.3" width="3" height="2.2" fill="#26a69a"/>
<line x1="600.5" y1="109.9" x2="600.5" y2="117.5" stroke="#ef5350" stroke-width="1"/>
<rect x="599.0" y="113.3" width="3" height="1.2" fill="#ef5350"/>
<line x1="604.5" y1="109.0" x2="604.5" y2="115.5" stroke="#26a69a" stroke-width="1"/>
<rect x="603.0" y="109.9" width="3" height="4.6" fill="#26a69a"/>
<line x1="608.5" y1="108.2" x2="608.5" y2="113.8" stroke="#ef5350" stroke-width="1"/>
<rect x="607.0" y="109.9" width="3" height="1.7" fill="#ef5350"/>
<line x1="611.5" y1="95.5" x2="611.5" y2="118.4" stroke="#26a69a" stroke-width="1"/>
<rect x="610.0" y="96.3" width="3" height="15.3" fill="#26a69a"/>
<line x1="615.5" y1="90.4" x2="615.5" y2="105.7" stroke="#ef5350" stroke-width="1"/>
<rect x="614.0" y="95.5" width="3" height="8.5" fill="#ef5350"/>
<line x1="619.5" y1="98.0" x2="619.5" y2="118.4" stroke="#ef5350" stroke-width="1"/>
<rect x="618.0" y="104.0" width="3" height="13.9" fill="#ef5350"/>
<line x1="623.5" y1="115.8" x2="623.5" y2="126.0" stroke="#ef5350" stroke-width="1"/>
<rect x="622.0" y="117.9" width="3" height="3.9" fill="#ef5350"/>
<line x1="627.5" y1="116.7" x2="627.5" y2="122.6" stroke="#26a69a" stroke-width="1"/>
<rect x="626.0" y="117.9" width="3" height="3.9" fill="#26a69a"/>
<line x1="631.5" y1="116.7" x2="631.5" y2="129.1" stroke="#ef5350" stroke-width="1"/>
<rect x="630.0" y="117.5" width="3" height="11.0" fill="#ef5350"/>
<line x1="634.5" y1="120.9" x2="634.5" y2="143.9" stroke="#ef5350" stroke-width="1"/>
<rect x="633.0" y="127.7" width="3" height="2.0" fill="#ef5350"/>
<line x1="638.5" y1="118.4" x2="638.5" y2="134.9" stroke="#26a69a" stroke-width="1"/>
<rect x="637.0" y="120.6" width="3" height="10.5" fill="#26a69a"/>
<line x1="642.5" y1="111.6" x2="642.5" y2="128.6" stroke="#26a69a" stroke-width="1"/>
<rect x="641.0" y="114.1" width="3" height="6.8" fill="#26a69a"/>
<line x1="646.5" y1="109.0" x2="646.5" y2="118.4" stroke="#ef5350" stroke-width="1"/>
<rect x="645.0" y="114.1" width="3" height="2.5" fill="#ef5350"/>
<line x1="650.5" y1="115.0" x2="650.5" y2="118.4" stroke="#ef5350" stroke-width="1"/>
<rect x="649.0" y="115.8" width="3" height="1.7" fill="#ef5350"/>
<line x1="653.5" y1="109.9" x2="653.5" y2="119.2" stroke="#26a69a" stroke-width="1"/>
<rect x="652.0" y="110.7" width="3" height="7.3" fill="#26a69a"/>
<line x1="657.5" y1="102.8" x2="657.5" y2="112.4" stroke="#26a69a" stroke-width="1"/>
<rect x="656.0" y="104.8" width="3" height="5.9" fill="#26a69a"/>
<line x1="661.5" y1="92.1" x2="661.5" y2="106.2" stroke="#26a69a" stroke-width="1"/>
<rect x="660.0" y="96.0" width="3" height="9.2" fill="#26a69a"/>
<line x1="665.5" y1="86.1" x2="665.5" y2="103.1" stroke="#26a69a" stroke-width="1"/>
<rect x="664.0" y="93.8" width="3" height="1.7" fill="#26a69a"/>
<line x1="669.5" y1="49.6" x2="669.5" y2="95.5" stroke="#26a69a" stroke-width="1"/>
<rect x="668.0" y="55.6" width="3" height="39.0" fill="#26a69a"/>
<line x1="672.5" y1="34.3" x2="672.5" y2="57.3" stroke="#26a69a" stroke-width="1"/>
<rect x="671.0" y="44.0" width="3" height="11.5" fill="#26a69a"/>
<line x1="676.5" y1="37.7" x2="676.5" y2="44.0" stroke="#26a69a" stroke-width="1"/>
<rect x="675.0" y="40.6" width="3" height="3.1" fill="#26a69a"/>
<line x1="680.5" y1="39.9" x2="680.5" y2="54.7" stroke="#ef5350" stroke-width="1"/>
<rect x="679.0" y="40.6" width="3" height="10.2" fill="#ef5350"/>
<line x1="684.5" y1="47.9" x2="684.5" y2="76.3" stroke="#ef5350" stroke-width="1"/>
<rect x="683.0" y="50.5" width="3" height="25.5" fill="#ef5350"/>
<line x1="688.5" y1="65.7" x2="688.5" y2="103.9" stroke="#ef5350" stroke-width="1"/>
<rect x="687.0" y="75.9" width="3" height="17.8" fill="#ef5350"/>
<line x1="691.5" y1="86.5" x2="691.5" y2="94.9" stroke="#26a69a" stroke-width="1"/>
<rect x="690.0" y="92.6" width="3" height="1.2" fill="#26a69a"/>
<line x1="695.5" y1="92.1" x2="695.5" y2="101.1" stroke="#ef5350" stroke-width="1"/>
<rect x="694.0" y="92.9" width="3" height="7.6" fill="#ef5350"/>
<line x1="699.5" y1="98.0" x2="699.5" y2="103.1" stroke="#ef5350" stroke-width="1"/>
<rect x="698.0" y="99.7" width="3" height="1.0" fill="#ef5350"/>
<line x1="703.5" y1="82.7" x2="703.5" y2="105.6" stroke="#26a69a" stroke-width="1"/>
<rect x="702.0" y="83.1" width="3" height="18.0" fill="#26a69a"/>
<line x1="707.5" y1="78.5" x2="707.5" y2="126.9" stroke="#ef5350" stroke-width="1"/>
<rect x="706.0" y="83.1" width="3" height="43.0" fill="#ef5350"/>
<line x1="711.5" y1="108.9" x2="711.5" y2="140.3" stroke="#ef5350" stroke-width="1"/>
<rect x="710.0" y="125.8" width="3" height="7.3" fill="#ef5350"/>
<line x1="714.5" y1="132.6" x2="714.5" y2="148.8" stroke="#ef5350" stroke-width="1"/>
<rect x="713.0" y="133.1" width="3" height="15.3" fill="#ef5350"/>
<line x1="718.5" y1="146.2" x2="718.5" y2="155.9" stroke="#26a69a" stroke-width="1"/>
<rect x="717.0" y="151.8" width="3" height="2.4" fill="#26a69a"/>
<line x1="722.5" y1="145.4" x2="722.5" y2="153.0" stroke="#26a69a" stroke-width="1"/>
<rect x="721.0" y="146.2" width="3" height="5.9" fill="#26a69a"/>
<line x1="726.5" y1="145.4" x2="726.5" y2="161.5" stroke="#ef5350" stroke-width="1"/>
<rect x="725.0" y="146.2" width="3" height="14.4" fill="#ef5350"/>
<line x1="730.5" y1="153.0" x2="730.5" y2="165.7" stroke="#ef5350" stroke-width="1"/>
<rect x="729.0" y="160.7" width="3" height="4.2" fill="#ef5350"/>
<line x1="733.5" y1="160.7" x2="733.5" y2="187.0" stroke="#ef5350" stroke-width="1"/>
<rect x="732.0" y="164.9" width="3" height="20.9" fill="#ef5350"/>
<line x1="737.5" y1="174.2" x2="737.5" y2="186.5" stroke="#26a69a" stroke-width="1"/>
<rect x="736.0" y="180.2" width="3" height="5.6" fill="#26a69a"/>
<line x1="741.5" y1="171.7" x2="741.5" y2="182.4" stroke="#26a69a" stroke-width="1"/>
<rect x="740.0" y="172.9" width="3" height="7.8" fill="#26a69a"/>
<line x1="745.5" y1="172.2" x2="745.5" y2="178.0" stroke="#ef5350" stroke-width="1"/>
<rect x="744.0" y="172.9" width="3" height="1.4" fill="#ef5350"/>
<line x1="749.5" y1="172.5" x2="749.5" y2="192.1" stroke="#ef5350" stroke-width="1"/>
<rect x="748.0" y="173.4" width="3" height="14.4" fill="#ef5350"/>
<line x1="752.5" y1="181.0" x2="752.5" y2="198.9" stroke="#ef5350" stroke-width="1"/>
<rect x="751.0" y="187.5" width="3" height="7.1" fill="#ef5350"/>
<line x1="756.5" y1="160.7" x2="756.5" y2="206.8" stroke="#26a69a" stroke-width="1"/>
<rect x="755.0" y="163.7" width="3" height="30.9" fill="#26a69a"/>
<line x1="760.5" y1="162.7" x2="760.5" y2="198.0" stroke="#ef5350" stroke-width="1"/>
<rect x="759.0" y="163.7" width="3" height="17.7" fill="#ef5350"/>
<line x1="764.5" y1="175.6" x2="764.5" y2="181.9" stroke="#26a69a" stroke-width="1"/>
<rect x="763.0" y="179.7" width="3" height="1.7" fill="#26a69a"/>
<line x1="768.5" y1="176.3" x2="768.5" y2="180.2" stroke="#26a69a" stroke-width="1"/>
<rect x="767.0" y="177.3" width="3" height="2.4" fill="#26a69a"/>
<line x1="771.5" y1="164.0" x2="771.5" y2="179.7" stroke="#26a69a" stroke-width="1"/>
<rect x="770.0" y="166.6" width="3" height="10.2" fill="#26a69a"/>
<line x1="775.5" y1="165.7" x2="775.5" y2="179.7" stroke="#ef5350" stroke-width="1"/>
<rect x="774.0" y="166.6" width="3" height="10.2" fill="#ef5350"/>
<line x1="779.5" y1="171.7" x2="779.5" y2="185.3" stroke="#ef5350" stroke-width="1"/>
<rect x="778.0" y="176.8" width="3" height="1.7" fill="#ef5350"/>
<line x1="783.5" y1="173.4" x2="783.5" y2="188.2" stroke="#ef5350" stroke-width="1"/>
<rect x="782.0" y="179.0" width="3" height="8.5" fill="#ef5350"/>
<line x1="787.5" y1="179.7" x2="787.5" y2="187.8" stroke="#26a69a" stroke-width="1"/>
<rect x="786.0" y="180.7" width="3" height="6.8" fill="#26a69a"/>
<line x1="791.5" y1="175.1" x2="791.5" y2="181.4" stroke="#26a69a" stroke-width="1"/>
<rect x="790.0" y="175.6" width="3" height="5.1" fill="#26a69a"/>
<line x1="794.5" y1="159.0" x2="794.5" y2="181.0" stroke="#26a69a" stroke-width="1"/>
<rect x="793.0" y="161.5" width="3" height="14.1" fill="#26a69a"/>
<line x1="798.5" y1="148.8" x2="798.5" y2="163.2" stroke="#26a69a" stroke-width="1"/>
<rect x="797.0" y="149.6" width="3" height="12.4" fill="#26a69a"/>
<line x1="802.5" y1="143.7" x2="802.5" y2="173.4" stroke="#ef5350" stroke-width="1"/>
<rect x="801.0" y="149.6" width="3" height="19.9" fill="#ef5350"/>
<line x1="806.5" y1="168.3" x2="806.5" y2="175.6" stroke="#ef5350" stroke-width="1"/>
<rect x="805.0" y="169.5" width="3" height="4.8" fill="#ef5350"/>
<line x1="810.5" y1="170.0" x2="810.5" y2="179.3" stroke="#ef5350" stroke-width="1"/>
<rect x="809.0" y="173.9" width="3" height="2.0" fill="#ef5350"/>
<line x1="813.5" y1="175.1" x2="813.5" y2="183.6" stroke="#ef5350" stroke-width="1"/>
<rect x="812.0" y="175.6" width="3" height="4.6" fill="#ef5350"/>
<line x1="817.5" y1="167.8" x2="817.5" y2="190.4" stroke="#ef5350" stroke-width="1"/>
<rect x="816.0" y="180.2" width="3" height="9.0" fill="#ef5350"/>
<line x1="821.5" y1="187.0" x2="821.5" y2="200.6" stroke="#ef5350" stroke-width="1"/>
<rect x="820.0" y="189.2" width="3" height="4.6" fill="#ef5350"/>
<line x1="825.5" y1="188.7" x2="825.5" y2="208.2" stroke="#ef5350" stroke-width="1"/>
<rect x="824.0" y="193.8" width="3" height="13.6" fill="#ef5350"/>
<line x1="829.5" y1="202.2" x2="829.5" y2="207.9" stroke="#26a69a" stroke-width="1"/>
<rect x="828.0" y="202.8" width="3" height="4.6" fill="#26a69a"/>
<line x1="832.5" y1="201.2" x2="832.5" y2="212.2" stroke="#ef5350" stroke-width="1"/>
<rect x="831.0" y="202.1" width="3" height="5.9" fill="#ef5350"/>
<line x1="836.5" y1="205.5" x2="836.5" y2="210.6" stroke="#26a69a" stroke-width="1"/>
<rect x="835.0" y="206.3" width="3" height="1.7" fill="#26a69a"/>
<line x1="840.5" y1="197.0" x2="840.5" y2="208.9" stroke="#26a69a" stroke-width="1"/>
<rect x="839.0" y="202.6" width="3" height="4.6" fill="#26a69a"/>
<line x1="844.5" y1="193.6" x2="844.5" y2="204.6" stroke="#26a69a" stroke-width="1"/>
<rect x="843.0" y="201.2" width="3" height="1.7" fill="#26a69a"/>
<line x1="848.5" y1="179.1" x2="848.5" y2="202.6" stroke="#26a69a" stroke-width="1"/>
<rect x="847.0" y="183.4" width="3" height="18.7" fill="#26a69a"/>
<line x1="852.5" y1="178.3" x2="852.5" y2="185.6" stroke="#26a69a" stroke-width="1"/>
<rect x="851.0" y="182.9" width="3" height="1.7" fill="#26a69a"/>
<line x1="855.5" y1="174.9" x2="855.5" y2="184.2" stroke="#26a69a" stroke-width="1"/>
<rect x="854.0" y="178.3" width="3" height="5.1" fill="#26a69a"/>
<line x1="859.5" y1="173.2" x2="859.5" y2="179.5" stroke="#26a69a" stroke-width="1"/>
<rect x="858.0" y="173.7" width="3" height="5.1" fill="#26a69a"/>
<line x1="863.5" y1="160.1" x2="863.5" y2="177.4" stroke="#26a69a" stroke-width="1"/>
<rect x="862.0" y="163.0" width="3" height="11.4" fill="#26a69a"/>
<line x1="867.5" y1="142.6" x2="867.5" y2="183.4" stroke="#ef5350" stroke-width="1"/>
<rect x="866.0" y="163.0" width="3" height="1.2" fill="#ef5350"/>
<line x1="871.5" y1="158.8" x2="871.5" y2="188.5" stroke="#ef5350" stroke-width="1"/>
<rect x="870.0" y="163.0" width="3" height="16.1" fill="#ef5350"/>
<line x1="874.5" y1="170.7" x2="874.5" y2="180.5" stroke="#26a69a" stroke-width="1"/>
<rect x="873.0" y="173.2" width="3" height="6.3" fill="#26a69a"/>
<line x1="878.5" y1="171.5" x2="878.5" y2="177.1" stroke="#26a69a" stroke-width="1"/>
<rect x="877.0" y="173.2" width="3" height="1.7" fill="#26a69a"/>
<line x1="882.5" y1="172.4" x2="882.5" y2="185.6" stroke="#ef5350" stroke-width="1"/>
<rect x="881.0" y="173.2" width="3" height="11.9" fill="#ef5350"/>
<line x1="886.5" y1="178.8" x2="886.5" y2="191.9" stroke="#26a69a" stroke-width="1"/>
<rect x="885.0" y="179.5" width="3" height="6.1" fill="#26a69a"/>
<line x1="890.5" y1="176.6" x2="890.5" y2="203.8" stroke="#ef5350" stroke-width="1"/>
<rect x="889.0" y="179.5" width="3" height="20.9" fill="#ef5350"/>
<line x1="893.5" y1="197.0" x2="893.5" y2="209.7" stroke="#ef5350" stroke-width="1"/>
<rect x="892.0" y="199.9" width="3" height="8.5" fill="#ef5350"/>
<line x1="897.5" y1="196.5" x2="897.5" y2="210.6" stroke="#26a69a" stroke-width="1"/>
<rect x="896.0" y="198.2" width="3" height="10.2" fill="#26a69a"/>
<line x1="901.5" y1="187.6" x2="901.5" y2="200.4" stroke="#26a69a" stroke-width="1"/>
<rect x="900.0" y="189.7" width="3" height="9.8" fill="#26a69a"/>
<line x1="905.5" y1="188.0" x2="905.5" y2="191.0" stroke="#ef5350" stroke-width="1"/>
<rect x="904.0" y="189.0" width="3" height="1.2" fill="#ef5350"/>
<line x1="909.5" y1="181.2" x2="909.5" y2="197.0" stroke="#ef5350" stroke-width="1"/>
<rect x="908.0" y="189.0" width="3" height="2.9" fill="#ef5350"/>
<line x1="912.5" y1="185.9" x2="912.5" y2="205.5" stroke="#ef5350" stroke-width="1"/>
<rect x="911.0" y="191.9" width="3" height="10.2" fill="#ef5350"/>
<line x1="916.5" y1="193.6" x2="916.5" y2="213.4" stroke="#26a69a" stroke-width="1"/>
<rect x="915.0" y="195.3" width="3" height="6.8" fill="#26a69a"/>
<line x1="920.5" y1="193.1" x2="920.5" y2="206.3" stroke="#ef5350" stroke-width="1"/>
<rect x="919.0" y="195.3" width="3" height="9.3" fill="#ef5350"/>
<line x1="924.5" y1="202.9" x2="924.5" y2="214.5" stroke="#ef5350" stroke-width="1"/>
<rect x="923.0" y="204.3" width="3" height="9.7" fill="#ef5350"/>
<line x1="928.5" y1="212.8" x2="928.5" y2="223.3" stroke="#ef5350" stroke-width="1"/>
<rect x="927.0" y="213.4" width="3" height="7.8" fill="#ef5350"/>
<line x1="932.5" y1="209.7" x2="932.5" y2="225.8" stroke="#ef5350" stroke-width="1"/>
<rect x="931.0" y="220.7" width="3" height="1.2" fill="#ef5350"/>
<line x1="935.5" y1="218.2" x2="935.5" y2="232.6" stroke="#26a69a" stroke-width="1"/>
<rect x="934.0" y="219.9" width="3" height="1.7" fill="#26a69a"/>
<line x1="939.5" y1="195.3" x2="939.5" y2="221.6" stroke="#26a69a" stroke-width="1"/>
<rect x="938.0" y="202.1" width="3" height="18.7" fill="#26a69a"/>
<line x1="943.5" y1="192.7" x2="943.5" y2="202.9" stroke="#26a69a" stroke-width="1"/>
<rect x="942.0" y="194.8" width="3" height="7.3" fill="#26a69a"/>
<line x1="947.5" y1="195.3" x2="947.5" y2="204.6" stroke="#ef5350" stroke-width="1"/>
<rect x="946.0" y="198.7" width="3" height="5.1" fill="#ef5350"/>
<line x1="951.5" y1="194.4" x2="951.5" y2="203.8" stroke="#26a69a" stroke-width="1"/>
<rect x="950.0" y="195.8" width="3" height="7.5" fill="#26a69a"/>
<line x1="954.5" y1="190.2" x2="954.5" y2="202.9" stroke="#ef5350" stroke-width="1"/>
<rect x="953.0" y="195.8" width="3" height="6.3" fill="#ef5350"/>
<line x1="958.5" y1="197.0" x2="958.5" y2="206.0" stroke="#26a69a" stroke-width="1"/>
<rect x="957.0" y="200.4" width="3" height="1.7" fill="#26a69a"/>
<line x1="962.5" y1="195.3" x2="962.5" y2="202.1" stroke="#26a69a" stroke-width="1"/>
<rect x="961.0" y="199.2" width="3" height="1.7" fill="#26a69a"/>
<line x1="966.5" y1="198.2" x2="966.5" y2="200.4" stroke="#ef5350" stroke-width="1"/>
<rect x="965.0" y="198.7" width="3" height="1.0" fill="#ef5350"/>
<line x1="970.5" y1="197.8" x2="970.5" y2="205.5" stroke="#ef5350" stroke-width="1"/>
<rect x="969.0" y="198.7" width="3" height="6.3" fill="#ef5350"/>
<line x1="973.5" y1="199.2" x2="973.5" y2="209.7" stroke="#26a69a" stroke-width="1"/>
<rect x="972.0" y="199.5" width="3" height="3.4" fill="#26a69a"/>
<line x1="977.5" y1="197.8" x2="977.5" y2="219.0" stroke="#ef5350" stroke-width="1"/>
<rect x="976.0" y="202.1" width="3" height="7.6" fill="#ef5350"/>
<line x1="981.5" y1="206.3" x2="981.5" y2="217.3" stroke="#ef5350" stroke-width="1"/>
<rect x="980.0" y="208.9" width="3" height="5.9" fill="#ef5350"/>
<line x1="985.5" y1="192.7" x2="985.5" y2="218.5" stroke="#26a69a" stroke-width="1"/>
<rect x="984.0" y="210.6" width="3" height="4.6" fill="#26a69a"/>
<line x1="989.5" y1="209.7" x2="989.5" y2="221.6" stroke="#ef5350" stroke-width="1"/>
<rect x="988.0" y="210.6" width="3" height="8.5" fill="#ef5350"/>
<line x1="992.5" y1="209.7" x2="992.5" y2="219.6" stroke="#26a69a" stroke-width="1"/>
<rect x="991.0" y="211.7" width="3" height="7.3" fill="#26a69a"/>
<line x1="996.5" y1="210.6" x2="996.5" y2="214.8" stroke="#26a69a" stroke-width="1"/>
<rect x="995.0" y="212.2" width="3" height="1.2" fill="#26a69a"/>
<line x1="1000.5" y1="210.6" x2="1000.5" y2="222.9" stroke="#ef5350" stroke-width="1"/>
<rect x="999.0" y="211.7" width="3" height="10.7" fill="#ef5350"/>
<line x1="1004.5" y1="216.2" x2="1004.5" y2="226.7" stroke="#26a69a" stroke-width="1"/>
<rect x="1003.0" y="217.3" width="3" height="5.1" fill="#26a69a"/>
<line x1="1008.5" y1="211.4" x2="1008.5" y2="230.1" stroke="#ef5350" stroke-width="1"/>
<rect x="1007.0" y="217.3" width="3" height="9.3" fill="#ef5350"/>
<line x1="1012.5" y1="222.4" x2="1012.5" y2="239.9" stroke="#ef5350" stroke-width="1"/>
<rect x="1011.0" y="226.3" width="3" height="11.4" fill="#ef5350"/>
<line x1="1015.5" y1="229.2" x2="1015.5" y2="238.2" stroke="#26a69a" stroke-width="1"/>
<rect x="1014.0" y="230.1" width="3" height="7.6" fill="#26a69a"/>
<line x1="1019.5" y1="227.5" x2="1019.5" y2="231.8" stroke="#26a69a" stroke-width="1"/>
<rect x="1018.0" y="228.0" width="3" height="2.0" fill="#26a69a"/>
<line x1="1023.5" y1="225.8" x2="1023.5" y2="235.5" stroke="#ef5350" stroke-width="1"/>
<rect x="1022.0" y="228.4" width="3" height="6.8" fill="#ef5350"/>
<path d="M756.5,206.8 L954.8,224.1" fill="none" stroke="#2e9e3a" stroke-width="1.9" stroke-linejoin="round" stroke-linecap="butt" />
<g transform="translate(1023.5,334)"><circle r="7.6" fill="#fff" stroke="#9c27b0" stroke-width="1.3"/><path d="M2.2,-4.2 L-3.2,0.6 L-0.4,0.6 L-2.4,4.2 L3.2,-0.8 L0.4,-0.8 Z" fill="#9c27b0"/></g>
<rect x="50" y="422.4" width="1097" height="37" fill="#d3e8fc"/>
<line x1="49.8" y1="422.4" x2="1147" y2="422.4" stroke="#787b86" stroke-width="1" stroke-dasharray="3.5 3.3745"/>
<line x1="49.8" y1="459.4" x2="1147" y2="459.4" stroke="#787b86" stroke-width="1" stroke-dasharray="3.5 3.3745"/>
<line x1="49.8" y1="441" x2="1147" y2="441" stroke="#b8bcc6" stroke-width="1" stroke-dasharray="3.5 3.3745"/>
<line x1="51.9" y1="438.6" x2="51.9" y2="441.0" stroke="#2460fb" stroke-width="1.75"/>
<line x1="55.7" y1="435.5" x2="55.7" y2="441.0" stroke="#2460fb" stroke-width="1.75"/>
<line x1="59.5" y1="428.1" x2="59.5" y2="441.0" stroke="#2460fb" stroke-width="1.75"/>
<line x1="63.3" y1="417.1" x2="63.3" y2="441.0" stroke="#2460fb" stroke-width="1.75"/>
<line x1="67.1" y1="411.3" x2="67.1" y2="441.0" stroke="#2460fb" stroke-width="1.75"/>
<line x1="71.0" y1="408.1" x2="71.0" y2="441.0" stroke="#2460fb" stroke-width="1.75"/>
<line x1="74.8" y1="421.5" x2="74.8" y2="441.0" stroke="#2460fb" stroke-width="1.75"/>
<line x1="78.6" y1="423.4" x2="78.6" y2="441.0" stroke="#2460fb" stroke-width="1.75"/>
<line x1="82.4" y1="417.7" x2="82.4" y2="441.0" stroke="#2460fb" stroke-width="1.75"/>
<line x1="86.2" y1="423.1" x2="86.2" y2="441.0" stroke="#2460fb" stroke-width="1.75"/>
<line x1="90.0" y1="420.3" x2="90.0" y2="441.0" stroke="#2460fb" stroke-width="1.75"/>
<line x1="93.8" y1="421.8" x2="93.8" y2="441.0" stroke="#2460fb" stroke-width="1.75"/>
<line x1="97.6" y1="418.8" x2="97.6" y2="441.0" stroke="#2460fb" stroke-width="1.75"/>
<line x1="101.4" y1="427.0" x2="101.4" y2="441.0" stroke="#2460fb" stroke-width="1.75"/>
<line x1="105.2" y1="441.0" x2="105.2" y2="443.2" stroke="#2460fb" stroke-width="1.75"/>
<line x1="109.0" y1="438.0" x2="109.0" y2="441.0" stroke="#2460fb" stroke-width="1.75"/>
<line x1="112.9" y1="433.9" x2="112.9" y2="441.0" stroke="#2460fb" stroke-width="1.75"/>
<line x1="116.7" y1="420.7" x2="116.7" y2="441.0" stroke="#2460fb" stroke-width="1.75"/>
<line x1="120.5" y1="411.3" x2="120.5" y2="441.0" stroke="#2460fb" stroke-width="1.75"/>
<line x1="124.3" y1="398.6" x2="124.3" y2="441.0" stroke="#2460fb" stroke-width="1.75"/>
<line x1="128.1" y1="403.5" x2="128.1" y2="441.0" stroke="#2460fb" stroke-width="1.75"/>
<line x1="131.9" y1="410.0" x2="131.9" y2="441.0" stroke="#2460fb" stroke-width="1.75"/>
<line x1="135.7" y1="421.0" x2="135.7" y2="441.0" stroke="#2460fb" stroke-width="1.75"/>
<line x1="139.5" y1="416.3" x2="139.5" y2="441.0" stroke="#2460fb" stroke-width="1.75"/>
<line x1="143.3" y1="406.0" x2="143.3" y2="441.0" stroke="#2460fb" stroke-width="1.75"/>
<line x1="147.2" y1="394.6" x2="147.2" y2="441.0" stroke="#2460fb" stroke-width="1.75"/>
<line x1="151.0" y1="394.1" x2="151.0" y2="441.0" stroke="#2460fb" stroke-width="1.75"/>
<line x1="154.8" y1="409.4" x2="154.8" y2="441.0" stroke="#2460fb" stroke-width="1.75"/>
<line x1="158.6" y1="412.2" x2="158.6" y2="441.0" stroke="#2460fb" stroke-width="1.75"/>
<line x1="162.4" y1="421.0" x2="162.4" y2="441.0" stroke="#2460fb" stroke-width="1.75"/>
<line x1="166.2" y1="425.3" x2="166.2" y2="441.0" stroke="#2460fb" stroke-width="1.75"/>
<line x1="170.0" y1="424.3" x2="170.0" y2="441.0" stroke="#2460fb" stroke-width="1.75"/>
<line x1="173.8" y1="423.9" x2="173.8" y2="441.0" stroke="#2460fb" stroke-width="1.75"/>
<line x1="177.6" y1="441.0" x2="177.6" y2="464.8" stroke="#2460fb" stroke-width="1.75"/>
<line x1="181.4" y1="441.0" x2="181.4" y2="488.6" stroke="#2460fb" stroke-width="1.75"/>
<line x1="185.2" y1="441.0" x2="185.2" y2="481.5" stroke="#2460fb" stroke-width="1.75"/>
<line x1="189.1" y1="441.0" x2="189.1" y2="480.8" stroke="#2460fb" stroke-width="1.75"/>
<line x1="192.9" y1="441.0" x2="192.9" y2="475.8" stroke="#2460fb" stroke-width="1.75"/>
<line x1="196.7" y1="441.0" x2="196.7" y2="469.1" stroke="#2460fb" stroke-width="1.75"/>
<line x1="200.5" y1="441.0" x2="200.5" y2="456.8" stroke="#2460fb" stroke-width="1.75"/>
<line x1="204.3" y1="441.0" x2="204.3" y2="451.4" stroke="#2460fb" stroke-width="1.75"/>
<line x1="208.1" y1="441.0" x2="208.1" y2="452.6" stroke="#2460fb" stroke-width="1.75"/>
<line x1="211.9" y1="441.0" x2="211.9" y2="454.8" stroke="#2460fb" stroke-width="1.75"/>
<line x1="215.7" y1="441.0" x2="215.7" y2="448.3" stroke="#2460fb" stroke-width="1.75"/>
<line x1="219.5" y1="441.0" x2="219.5" y2="449.4" stroke="#2460fb" stroke-width="1.75"/>
<line x1="223.3" y1="441.0" x2="223.3" y2="449.5" stroke="#2460fb" stroke-width="1.75"/>
<line x1="227.2" y1="441.0" x2="227.2" y2="466.4" stroke="#2460fb" stroke-width="1.75"/>
<line x1="231.0" y1="441.0" x2="231.0" y2="478.5" stroke="#2460fb" stroke-width="1.75"/>
<line x1="234.8" y1="441.0" x2="234.8" y2="479.5" stroke="#2460fb" stroke-width="1.75"/>
<line x1="238.6" y1="441.0" x2="238.6" y2="477.3" stroke="#2460fb" stroke-width="1.75"/>
<line x1="242.4" y1="441.0" x2="242.4" y2="476.1" stroke="#2460fb" stroke-width="1.75"/>
<line x1="246.2" y1="441.0" x2="246.2" y2="474.5" stroke="#2460fb" stroke-width="1.75"/>
<line x1="250.0" y1="441.0" x2="250.0" y2="469.9" stroke="#2460fb" stroke-width="1.75"/>
<line x1="253.8" y1="441.0" x2="253.8" y2="452.4" stroke="#2460fb" stroke-width="1.75"/>
<line x1="257.6" y1="433.1" x2="257.6" y2="441.0" stroke="#2460fb" stroke-width="1.75"/>
<line x1="261.4" y1="427.9" x2="261.4" y2="441.0" stroke="#2460fb" stroke-width="1.75"/>
<line x1="265.3" y1="424.5" x2="265.3" y2="441.0" stroke="#2460fb" stroke-width="1.75"/>
<line x1="269.1" y1="423.8" x2="269.1" y2="441.0" stroke="#2460fb" stroke-width="1.75"/>
<line x1="272.9" y1="415.6" x2="272.9" y2="441.0" stroke="#2460fb" stroke-width="1.75"/>
<line x1="276.7" y1="408.5" x2="276.7" y2="441.0" stroke="#2460fb" stroke-width="1.75"/>
<line x1="280.5" y1="411.5" x2="280.5" y2="441.0" stroke="#2460fb" stroke-width="1.75"/>
<line x1="284.3" y1="413.3" x2="284.3" y2="441.0" stroke="#2460fb" stroke-width="1.75"/>
<line x1="288.1" y1="414.2" x2="288.1" y2="441.0" stroke="#2460fb" stroke-width="1.75"/>
<line x1="291.9" y1="415.6" x2="291.9" y2="441.0" stroke="#2460fb" stroke-width="1.75"/>
<line x1="295.7" y1="419.0" x2="295.7" y2="441.0" stroke="#2460fb" stroke-width="1.75"/>
<line x1="299.6" y1="418.1" x2="299.6" y2="441.0" stroke="#2460fb" stroke-width="1.75"/>
<line x1="303.4" y1="419.7" x2="303.4" y2="441.0" stroke="#2460fb" stroke-width="1.75"/>
<line x1="307.2" y1="420.2" x2="307.2" y2="441.0" stroke="#2460fb" stroke-width="1.75"/>
<line x1="311.0" y1="419.6" x2="311.0" y2="441.0" stroke="#2460fb" stroke-width="1.75"/>
<line x1="314.8" y1="420.3" x2="314.8" y2="441.0" stroke="#2460fb" stroke-width="1.75"/>
<line x1="318.6" y1="420.4" x2="318.6" y2="441.0" stroke="#2460fb" stroke-width="1.75"/>
<line x1="322.4" y1="420.0" x2="322.4" y2="441.0" stroke="#2460fb" stroke-width="1.75"/>
<line x1="326.2" y1="420.6" x2="326.2" y2="441.0" stroke="#2460fb" stroke-width="1.75"/>
<line x1="330.0" y1="419.8" x2="330.0" y2="441.0" stroke="#2460fb" stroke-width="1.75"/>
<line x1="333.8" y1="420.0" x2="333.8" y2="441.0" stroke="#2460fb" stroke-width="1.75"/>
<line x1="337.6" y1="420.8" x2="337.6" y2="441.0" stroke="#2460fb" stroke-width="1.75"/>
<line x1="341.5" y1="416.5" x2="341.5" y2="441.0" stroke="#2460fb" stroke-width="1.75"/>
<line x1="345.3" y1="414.5" x2="345.3" y2="441.0" stroke="#2460fb" stroke-width="1.75"/>
<line x1="349.1" y1="410.2" x2="349.1" y2="441.0" stroke="#2460fb" stroke-width="1.75"/>
<line x1="352.9" y1="411.8" x2="352.9" y2="441.0" stroke="#2460fb" stroke-width="1.75"/>
<line x1="356.7" y1="415.1" x2="356.7" y2="441.0" stroke="#2460fb" stroke-width="1.75"/>
<line x1="360.5" y1="416.1" x2="360.5" y2="441.0" stroke="#2460fb" stroke-width="1.75"/>
<line x1="364.3" y1="420.2" x2="364.3" y2="441.0" stroke="#2460fb" stroke-width="1.75"/>
<line x1="368.1" y1="421.3" x2="368.1" y2="441.0" stroke="#2460fb" stroke-width="1.75"/>
<line x1="371.9" y1="420.5" x2="371.9" y2="441.0" stroke="#2460fb" stroke-width="1.75"/>
<line x1="375.8" y1="418.7" x2="375.8" y2="441.0" stroke="#2460fb" stroke-width="1.75"/>
<line x1="379.6" y1="419.2" x2="379.6" y2="441.0" stroke="#2460fb" stroke-width="1.75"/>
<line x1="383.4" y1="423.0" x2="383.4" y2="441.0" stroke="#2460fb" stroke-width="1.75"/>
<line x1="387.2" y1="424.9" x2="387.2" y2="441.0" stroke="#2460fb" stroke-width="1.75"/>
<line x1="391.0" y1="425.4" x2="391.0" y2="441.0" stroke="#2460fb" stroke-width="1.75"/>
<line x1="394.8" y1="425.6" x2="394.8" y2="441.0" stroke="#2460fb" stroke-width="1.75"/>
<line x1="398.6" y1="425.7" x2="398.6" y2="441.0" stroke="#2460fb" stroke-width="1.75"/>
<line x1="402.4" y1="425.8" x2="402.4" y2="441.0" stroke="#2460fb" stroke-width="1.75"/>
<line x1="406.2" y1="425.6" x2="406.2" y2="441.0" stroke="#2460fb" stroke-width="1.75"/>
<line x1="410.0" y1="425.5" x2="410.0" y2="441.0" stroke="#2460fb" stroke-width="1.75"/>
<line x1="413.8" y1="429.6" x2="413.8" y2="441.0" stroke="#2460fb" stroke-width="1.75"/>
<line x1="417.7" y1="431.9" x2="417.7" y2="441.0" stroke="#2460fb" stroke-width="1.75"/>
<line x1="421.5" y1="432.8" x2="421.5" y2="441.0" stroke="#2460fb" stroke-width="1.75"/>
<line x1="425.3" y1="434.4" x2="425.3" y2="441.0" stroke="#2460fb" stroke-width="1.75"/>
<line x1="429.1" y1="424.7" x2="429.1" y2="441.0" stroke="#2460fb" stroke-width="1.75"/>
<line x1="432.9" y1="423.7" x2="432.9" y2="441.0" stroke="#2460fb" stroke-width="1.75"/>
<line x1="436.7" y1="429.0" x2="436.7" y2="441.0" stroke="#2460fb" stroke-width="1.75"/>
<line x1="440.5" y1="436.2" x2="440.5" y2="441.0" stroke="#2460fb" stroke-width="1.75"/>
<line x1="444.3" y1="439.0" x2="444.3" y2="441.0" stroke="#2460fb" stroke-width="1.75"/>
<line x1="448.1" y1="437.3" x2="448.1" y2="441.0" stroke="#2460fb" stroke-width="1.75"/>
<line x1="451.9" y1="433.2" x2="451.9" y2="441.0" stroke="#2460fb" stroke-width="1.75"/>
<line x1="455.8" y1="432.6" x2="455.8" y2="441.0" stroke="#2460fb" stroke-width="1.75"/>
<line x1="459.6" y1="434.9" x2="459.6" y2="441.0" stroke="#2460fb" stroke-width="1.75"/>
<line x1="463.4" y1="429.3" x2="463.4" y2="441.0" stroke="#2460fb" stroke-width="1.75"/>
<line x1="467.2" y1="427.0" x2="467.2" y2="441.0" stroke="#2460fb" stroke-width="1.75"/>
<line x1="471.0" y1="427.2" x2="471.0" y2="441.0" stroke="#2460fb" stroke-width="1.75"/>
<line x1="474.8" y1="427.2" x2="474.8" y2="441.0" stroke="#2460fb" stroke-width="1.75"/>
<line x1="478.6" y1="433.3" x2="478.6" y2="441.0" stroke="#2460fb" stroke-width="1.75"/>
<line x1="482.4" y1="428.8" x2="482.4" y2="441.0" stroke="#2460fb" stroke-width="1.75"/>
<line x1="486.2" y1="421.4" x2="486.2" y2="441.0" stroke="#2460fb" stroke-width="1.75"/>
<line x1="490.1" y1="408.7" x2="490.1" y2="441.0" stroke="#2460fb" stroke-width="1.75"/>
<line x1="493.9" y1="404.9" x2="493.9" y2="441.0" stroke="#2460fb" stroke-width="1.75"/>
<line x1="497.7" y1="400.1" x2="497.7" y2="441.0" stroke="#2460fb" stroke-width="1.75"/>
<line x1="501.5" y1="416.0" x2="501.5" y2="441.0" stroke="#2460fb" stroke-width="1.75"/>
<line x1="505.3" y1="421.4" x2="505.3" y2="441.0" stroke="#2460fb" stroke-width="1.75"/>
<line x1="509.1" y1="420.4" x2="509.1" y2="441.0" stroke="#2460fb" stroke-width="1.75"/>
<line x1="512.9" y1="416.2" x2="512.9" y2="441.0" stroke="#2460fb" stroke-width="1.75"/>
<line x1="516.7" y1="417.4" x2="516.7" y2="441.0" stroke="#2460fb" stroke-width="1.75"/>
<line x1="520.5" y1="420.6" x2="520.5" y2="441.0" stroke="#2460fb" stroke-width="1.75"/>
<line x1="524.3" y1="422.6" x2="524.3" y2="441.0" stroke="#2460fb" stroke-width="1.75"/>
<line x1="528.1" y1="420.5" x2="528.1" y2="441.0" stroke="#2460fb" stroke-width="1.75"/>
<line x1="532.0" y1="416.2" x2="532.0" y2="441.0" stroke="#2460fb" stroke-width="1.75"/>
<line x1="535.8" y1="414.3" x2="535.8" y2="441.0" stroke="#2460fb" stroke-width="1.75"/>
<line x1="539.6" y1="413.9" x2="539.6" y2="441.0" stroke="#2460fb" stroke-width="1.75"/>
<line x1="543.4" y1="419.7" x2="543.4" y2="441.0" stroke="#2460fb" stroke-width="1.75"/>
<line x1="547.2" y1="424.0" x2="547.2" y2="441.0" stroke="#2460fb" stroke-width="1.75"/>
<line x1="551.0" y1="415.8" x2="551.0" y2="441.0" stroke="#2460fb" stroke-width="1.75"/>
<line x1="554.8" y1="412.4" x2="554.8" y2="441.0" stroke="#2460fb" stroke-width="1.75"/>
<line x1="558.6" y1="411.2" x2="558.6" y2="441.0" stroke="#2460fb" stroke-width="1.75"/>
<line x1="562.4" y1="413.8" x2="562.4" y2="441.0" stroke="#2460fb" stroke-width="1.75"/>
<line x1="566.2" y1="418.5" x2="566.2" y2="441.0" stroke="#2460fb" stroke-width="1.75"/>
<line x1="570.1" y1="423.8" x2="570.1" y2="441.0" stroke="#2460fb" stroke-width="1.75"/>
<line x1="573.9" y1="428.8" x2="573.9" y2="441.0" stroke="#2460fb" stroke-width="1.75"/>
<line x1="577.7" y1="427.8" x2="577.7" y2="441.0" stroke="#2460fb" stroke-width="1.75"/>
<line x1="581.5" y1="427.2" x2="581.5" y2="441.0" stroke="#2460fb" stroke-width="1.75"/>
<line x1="585.3" y1="431.5" x2="585.3" y2="441.0" stroke="#2460fb" stroke-width="1.75"/>
<line x1="589.1" y1="431.2" x2="589.1" y2="441.0" stroke="#2460fb" stroke-width="1.75"/>
<line x1="592.9" y1="435.4" x2="592.9" y2="441.0" stroke="#2460fb" stroke-width="1.75"/>
<line x1="596.7" y1="439.3" x2="596.7" y2="441.0" stroke="#2460fb" stroke-width="1.75"/>
<line x1="600.5" y1="437.5" x2="600.5" y2="441.0" stroke="#2460fb" stroke-width="1.75"/>
<line x1="604.4" y1="436.2" x2="604.4" y2="441.0" stroke="#2460fb" stroke-width="1.75"/>
<line x1="608.2" y1="435.4" x2="608.2" y2="441.0" stroke="#2460fb" stroke-width="1.75"/>
<line x1="612.0" y1="429.3" x2="612.0" y2="441.0" stroke="#2460fb" stroke-width="1.75"/>
<line x1="615.8" y1="426.7" x2="615.8" y2="441.0" stroke="#2460fb" stroke-width="1.75"/>
<line x1="619.6" y1="438.6" x2="619.6" y2="441.0" stroke="#2460fb" stroke-width="1.75"/>
<line x1="623.4" y1="441.0" x2="623.4" y2="447.4" stroke="#2460fb" stroke-width="1.75"/>
<line x1="627.2" y1="441.0" x2="627.2" y2="448.7" stroke="#2460fb" stroke-width="1.75"/>
<line x1="631.0" y1="441.0" x2="631.0" y2="455.2" stroke="#2460fb" stroke-width="1.75"/>
<line x1="634.8" y1="441.0" x2="634.8" y2="460.9" stroke="#2460fb" stroke-width="1.75"/>
<line x1="638.6" y1="441.0" x2="638.6" y2="454.8" stroke="#2460fb" stroke-width="1.75"/>
<line x1="642.4" y1="441.0" x2="642.4" y2="449.5" stroke="#2460fb" stroke-width="1.75"/>
<line x1="646.3" y1="441.0" x2="646.3" y2="447.0" stroke="#2460fb" stroke-width="1.75"/>
<line x1="650.1" y1="441.0" x2="650.1" y2="447.7" stroke="#2460fb" stroke-width="1.75"/>
<line x1="653.9" y1="441.0" x2="653.9" y2="442.9" stroke="#2460fb" stroke-width="1.75"/>
<line x1="657.7" y1="432.5" x2="657.7" y2="441.0" stroke="#2460fb" stroke-width="1.75"/>
<line x1="661.5" y1="423.2" x2="661.5" y2="441.0" stroke="#2460fb" stroke-width="1.75"/>
<line x1="665.3" y1="411.2" x2="665.3" y2="441.0" stroke="#2460fb" stroke-width="1.75"/>
<line x1="669.1" y1="379.9" x2="669.1" y2="441.0" stroke="#2460fb" stroke-width="1.75"/>
<line x1="672.9" y1="361.2" x2="672.9" y2="441.0" stroke="#2460fb" stroke-width="1.75"/>
<line x1="676.7" y1="369.8" x2="676.7" y2="441.0" stroke="#2460fb" stroke-width="1.75"/>
<line x1="680.5" y1="385.1" x2="680.5" y2="441.0" stroke="#2460fb" stroke-width="1.75"/>
<line x1="684.4" y1="408.2" x2="684.4" y2="441.0" stroke="#2460fb" stroke-width="1.75"/>
<line x1="688.2" y1="425.1" x2="688.2" y2="441.0" stroke="#2460fb" stroke-width="1.75"/>
<line x1="692.0" y1="432.9" x2="692.0" y2="441.0" stroke="#2460fb" stroke-width="1.75"/>
<line x1="695.8" y1="437.8" x2="695.8" y2="441.0" stroke="#2460fb" stroke-width="1.75"/>
<line x1="699.6" y1="438.2" x2="699.6" y2="441.0" stroke="#2460fb" stroke-width="1.75"/>
<line x1="703.4" y1="430.8" x2="703.4" y2="441.0" stroke="#2460fb" stroke-width="1.75"/>
<line x1="707.2" y1="441.0" x2="707.2" y2="449.9" stroke="#2460fb" stroke-width="1.75"/>
<line x1="711.0" y1="441.0" x2="711.0" y2="466.0" stroke="#2460fb" stroke-width="1.75"/>
<line x1="714.8" y1="441.0" x2="714.8" y2="477.9" stroke="#2460fb" stroke-width="1.75"/>
<line x1="718.6" y1="441.0" x2="718.6" y2="480.6" stroke="#2460fb" stroke-width="1.75"/>
<line x1="722.5" y1="441.0" x2="722.5" y2="477.4" stroke="#2460fb" stroke-width="1.75"/>
<line x1="726.3" y1="441.0" x2="726.3" y2="479.4" stroke="#2460fb" stroke-width="1.75"/>
<line x1="730.1" y1="441.0" x2="730.1" y2="480.8" stroke="#2460fb" stroke-width="1.75"/>
<line x1="733.9" y1="441.0" x2="733.9" y2="488.0" stroke="#2460fb" stroke-width="1.75"/>
<line x1="737.7" y1="441.0" x2="737.7" y2="485.2" stroke="#2460fb" stroke-width="1.75"/>
<line x1="741.5" y1="441.0" x2="741.5" y2="479.1" stroke="#2460fb" stroke-width="1.75"/>
<line x1="745.3" y1="441.0" x2="745.3" y2="476.4" stroke="#2460fb" stroke-width="1.75"/>
<line x1="749.1" y1="441.0" x2="749.1" y2="477.7" stroke="#2460fb" stroke-width="1.75"/>
<line x1="752.9" y1="441.0" x2="752.9" y2="478.5" stroke="#2460fb" stroke-width="1.75"/>
<line x1="756.8" y1="441.0" x2="756.8" y2="469.4" stroke="#2460fb" stroke-width="1.75"/>
<line x1="760.6" y1="441.0" x2="760.6" y2="468.2" stroke="#2460fb" stroke-width="1.75"/>
<line x1="764.4" y1="441.0" x2="764.4" y2="466.2" stroke="#2460fb" stroke-width="1.75"/>
<line x1="768.2" y1="441.0" x2="768.2" y2="463.9" stroke="#2460fb" stroke-width="1.75"/>
<line x1="772.0" y1="441.0" x2="772.0" y2="460.2" stroke="#2460fb" stroke-width="1.75"/>
<line x1="775.8" y1="441.0" x2="775.8" y2="460.4" stroke="#2460fb" stroke-width="1.75"/>
<line x1="779.6" y1="441.0" x2="779.6" y2="460.8" stroke="#2460fb" stroke-width="1.75"/>
<line x1="783.4" y1="441.0" x2="783.4" y2="461.0" stroke="#2460fb" stroke-width="1.75"/>
<line x1="787.2" y1="441.0" x2="787.2" y2="459.9" stroke="#2460fb" stroke-width="1.75"/>
<line x1="791.0" y1="441.0" x2="791.0" y2="457.1" stroke="#2460fb" stroke-width="1.75"/>
<line x1="794.9" y1="441.0" x2="794.9" y2="453.7" stroke="#2460fb" stroke-width="1.75"/>
<line x1="798.7" y1="441.0" x2="798.7" y2="449.4" stroke="#2460fb" stroke-width="1.75"/>
<line x1="802.5" y1="441.0" x2="802.5" y2="451.8" stroke="#2460fb" stroke-width="1.75"/>
<line x1="806.3" y1="441.0" x2="806.3" y2="454.1" stroke="#2460fb" stroke-width="1.75"/>
<line x1="810.1" y1="441.0" x2="810.1" y2="454.5" stroke="#2460fb" stroke-width="1.75"/>
<line x1="813.9" y1="441.0" x2="813.9" y2="455.2" stroke="#2460fb" stroke-width="1.75"/>
<line x1="817.7" y1="441.0" x2="817.7" y2="456.7" stroke="#2460fb" stroke-width="1.75"/>
<line x1="821.5" y1="441.0" x2="821.5" y2="458.9" stroke="#2460fb" stroke-width="1.75"/>
<line x1="825.3" y1="441.0" x2="825.3" y2="460.1" stroke="#2460fb" stroke-width="1.75"/>
<line x1="829.1" y1="441.0" x2="829.1" y2="460.4" stroke="#2460fb" stroke-width="1.75"/>
<line x1="832.9" y1="441.0" x2="832.9" y2="460.6" stroke="#2460fb" stroke-width="1.75"/>
<line x1="836.8" y1="441.0" x2="836.8" y2="460.0" stroke="#2460fb" stroke-width="1.75"/>
<line x1="840.6" y1="441.0" x2="840.6" y2="458.0" stroke="#2460fb" stroke-width="1.75"/>
<line x1="844.4" y1="441.0" x2="844.4" y2="456.0" stroke="#2460fb" stroke-width="1.75"/>
<line x1="848.2" y1="441.0" x2="848.2" y2="452.7" stroke="#2460fb" stroke-width="1.75"/>
<line x1="852.0" y1="441.0" x2="852.0" y2="450.7" stroke="#2460fb" stroke-width="1.75"/>
<line x1="855.8" y1="441.0" x2="855.8" y2="449.3" stroke="#2460fb" stroke-width="1.75"/>
<line x1="859.6" y1="441.0" x2="859.6" y2="447.2" stroke="#2460fb" stroke-width="1.75"/>
<line x1="863.4" y1="441.0" x2="863.4" y2="443.9" stroke="#2460fb" stroke-width="1.75"/>
<line x1="867.2" y1="441.0" x2="867.2" y2="441.8" stroke="#2460fb" stroke-width="1.75"/>
<line x1="871.0" y1="441.0" x2="871.0" y2="445.9" stroke="#2460fb" stroke-width="1.75"/>
<line x1="874.9" y1="441.0" x2="874.9" y2="445.4" stroke="#2460fb" stroke-width="1.75"/>
<line x1="878.7" y1="441.0" x2="878.7" y2="446.3" stroke="#2460fb" stroke-width="1.75"/>
<line x1="882.5" y1="441.0" x2="882.5" y2="448.5" stroke="#2460fb" stroke-width="1.75"/>
<line x1="886.3" y1="441.0" x2="886.3" y2="451.5" stroke="#2460fb" stroke-width="1.75"/>
<line x1="890.1" y1="441.0" x2="890.1" y2="459.1" stroke="#2460fb" stroke-width="1.75"/>
<line x1="893.9" y1="441.0" x2="893.9" y2="468.1" stroke="#2460fb" stroke-width="1.75"/>
<line x1="897.7" y1="441.0" x2="897.7" y2="463.4" stroke="#2460fb" stroke-width="1.75"/>
<line x1="901.5" y1="441.0" x2="901.5" y2="454.9" stroke="#2460fb" stroke-width="1.75"/>
<line x1="905.3" y1="441.0" x2="905.3" y2="452.1" stroke="#2460fb" stroke-width="1.75"/>
<line x1="909.1" y1="441.0" x2="909.1" y2="453.9" stroke="#2460fb" stroke-width="1.75"/>
<line x1="913.0" y1="441.0" x2="913.0" y2="460.4" stroke="#2460fb" stroke-width="1.75"/>
<line x1="916.8" y1="441.0" x2="916.8" y2="462.2" stroke="#2460fb" stroke-width="1.75"/>
<line x1="920.6" y1="441.0" x2="920.6" y2="463.2" stroke="#2460fb" stroke-width="1.75"/>
<line x1="924.4" y1="441.0" x2="924.4" y2="470.9" stroke="#2460fb" stroke-width="1.75"/>
<line x1="928.2" y1="441.0" x2="928.2" y2="476.1" stroke="#2460fb" stroke-width="1.75"/>
<line x1="932.0" y1="441.0" x2="932.0" y2="473.9" stroke="#2460fb" stroke-width="1.75"/>
<line x1="935.8" y1="441.0" x2="935.8" y2="475.0" stroke="#2460fb" stroke-width="1.75"/>
<line x1="939.6" y1="441.0" x2="939.6" y2="460.6" stroke="#2460fb" stroke-width="1.75"/>
<line x1="943.4" y1="441.0" x2="943.4" y2="451.5" stroke="#2460fb" stroke-width="1.75"/>
<line x1="947.2" y1="441.0" x2="947.2" y2="452.3" stroke="#2460fb" stroke-width="1.75"/>
<line x1="951.1" y1="441.0" x2="951.1" y2="450.0" stroke="#2460fb" stroke-width="1.75"/>
<line x1="954.9" y1="441.0" x2="954.9" y2="450.2" stroke="#2460fb" stroke-width="1.75"/>
<line x1="958.7" y1="441.0" x2="958.7" y2="450.7" stroke="#2460fb" stroke-width="1.75"/>
<line x1="962.5" y1="441.0" x2="962.5" y2="448.9" stroke="#2460fb" stroke-width="1.75"/>
<line x1="966.3" y1="441.0" x2="966.3" y2="449.4" stroke="#2460fb" stroke-width="1.75"/>
<line x1="970.1" y1="441.0" x2="970.1" y2="452.0" stroke="#2460fb" stroke-width="1.75"/>
<line x1="973.9" y1="441.0" x2="973.9" y2="454.5" stroke="#2460fb" stroke-width="1.75"/>
<line x1="977.7" y1="441.0" x2="977.7" y2="457.0" stroke="#2460fb" stroke-width="1.75"/>
<line x1="981.5" y1="441.0" x2="981.5" y2="458.9" stroke="#2460fb" stroke-width="1.75"/>
<line x1="985.4" y1="441.0" x2="985.4" y2="456.4" stroke="#2460fb" stroke-width="1.75"/>
<line x1="989.2" y1="441.0" x2="989.2" y2="462.6" stroke="#2460fb" stroke-width="1.75"/>
<line x1="993.0" y1="441.0" x2="993.0" y2="458.7" stroke="#2460fb" stroke-width="1.75"/>
<line x1="996.8" y1="441.0" x2="996.8" y2="459.6" stroke="#2460fb" stroke-width="1.75"/>
<line x1="1000.6" y1="441.0" x2="1000.6" y2="463.6" stroke="#2460fb" stroke-width="1.75"/>
<line x1="1004.4" y1="441.0" x2="1004.4" y2="465.5" stroke="#2460fb" stroke-width="1.75"/>
<line x1="1008.2" y1="441.0" x2="1008.2" y2="470.0" stroke="#2460fb" stroke-width="1.75"/>
<line x1="1012.0" y1="441.0" x2="1012.0" y2="475.6" stroke="#2460fb" stroke-width="1.75"/>
<line x1="1015.8" y1="441.0" x2="1015.8" y2="473.1" stroke="#2460fb" stroke-width="1.75"/>
<line x1="1019.6" y1="441.0" x2="1019.6" y2="469.2" stroke="#2460fb" stroke-width="1.75"/>
<line x1="1023.5" y1="441.0" x2="1023.5" y2="469.6" stroke="#2460fb" stroke-width="1.75"/>
<path d="M50.0,439.6 L54.1,437.5 L58.1,432.4 L62.6,418.2 L66.7,412.0 L70.4,405.9 L74.4,421.2 L78.1,424.3 L82.0,417.1 L86.3,423.3 L89.7,420.2 L93.8,421.8 L97.9,418.6 L100.9,424.3 L104.6,444.2 L108.1,438.5 L112.1,436.5 L116.2,421.8 L120.3,412.0 L124.0,398.2 L128.4,403.9 L131.9,410.0 L135.6,421.2 L139.6,416.1 L143.7,404.9 L146.8,394.7 L150.9,393.7 L154.9,410.0 L159.0,412.5 L162.5,421.2 L166.1,425.3 L170.2,424.3 L173.9,423.9 L176.3,452.8 L178.8,475.2 L181.6,489.5 L185.5,480.9 L189.0,480.9 L192.6,476.2 L196.7,469.1 L200.8,455.9 L204.8,450.8 L212.0,454.8 L216.1,447.7 L220.1,449.7 L223.2,448.7 L226.2,463.0 L230.3,478.3 L234.4,479.7 L239.5,476.8 L245.6,475.2 L250.7,469.1 L253.7,452.8 L257.4,433.4 L261.9,427.3 L266.0,423.9 L269.0,423.9 L273.1,415.1 L276.6,408.4 L281.3,412.0 L285.3,413.7 L290.0,414.5 L291.2,415.0 L295.9,419.1 L299.4,418.1 L305.5,420.5 L310.6,419.5 L316.7,420.7 L321.8,419.9 L325.8,420.7 L330.5,419.7 L334.6,420.1 L339.1,421.1 L341.1,416.6 L345.2,414.6 L348.3,409.9 L352.3,411.3 L356.4,415.0 L360.5,416.0 L365.6,421.5 L370.7,421.1 L375.4,418.7 L378.8,418.5 L383.9,423.6 L388.0,425.2 L394.1,425.6 L402.2,425.8 L406.3,425.6 L409.4,424.8 L414.5,430.3 L418.5,432.3 L422.6,432.9 L425.1,435.0 L428.7,424.8 L432.8,423.6 L436.9,429.3 L441.0,437.0 L444.0,439.1 L447.1,438.4 L452.2,432.9 L456.2,432.5 L459.7,435.0 L463.4,429.3 L467.4,426.8 L471.5,427.2 L474.6,426.8 L478.7,433.3 L483.7,427.2 L486.8,420.1 L489.9,408.9 L493.9,404.8 L497.6,399.7 L500.5,414.0 L504.1,421.1 L507.8,422.1 L512.3,416.0 L516.3,417.0 L520.0,420.1 L521.1,421.1 L526.0,423.3 L531.1,416.7 L535.6,414.4 L538.9,412.9 L542.9,418.9 L546.7,425.1 L551.1,415.6 L555.6,411.8 L558.9,411.1 L563.3,414.4 L568.9,422.2 L574.4,429.6 L580.7,426.2 L585.6,431.8 L589.6,431.1 L596.2,439.6 L603.3,436.2 L607.8,436.0 L612.2,428.9 L615.6,426.0 L618.9,436.7 L622.9,447.8 L625.6,446.0 L630.0,453.3 L634.4,461.6 L638.9,454.4 L644.4,446.7 L650.0,447.8 L654.4,442.2 L660.0,425.6 L664.4,418.4 L668.9,381.1 L672.7,360.7 L676.2,367.8 L680.7,385.6 L685.6,415.6 L688.9,427.8 L694.4,437.0 L698.9,439.7 L703.3,430.4 L706.0,444.4 L710.0,462.2 L714.0,477.0 L718.1,481.2 L721.9,477.0 L725.6,479.3 L729.7,480.0 L733.7,488.1 L737.7,485.2 L741.9,478.5 L745.6,476.3 L749.3,477.8 L753.0,478.5 L757.0,468.9 L761.1,468.1 L764.8,465.9 L768.5,463.7 L772.2,460.0 L776.7,460.4 L782.6,461.2 L787.0,460.0 L792.2,456.3 L795.9,452.6 L798.9,449.2 L802.6,451.9 L805.6,454.1 L810.0,454.5 L815.9,455.6 L820.4,458.5 L824.8,460.0 L832.2,460.7 L836.7,460.0 L840.4,458.1 L844.1,456.3 L850.0,451.1 L853.3,450.4 L858.9,447.8 L866.7,441.1 L870.7,446.0 L876.7,445.1 L881.1,447.8 L885.6,450.0 L890.0,458.9 L893.8,468.2 L897.8,463.3 L902.2,453.3 L907.8,451.1 L912.2,460.0 L916.7,462.2 L921.1,463.3 L927.1,477.1 L931.1,473.3 L935.6,476.0 L938.9,463.3 L942.2,451.1 L946.7,452.7 L952.2,449.3 L957.8,451.1 L962.2,448.9 L965.6,448.9 L971.1,452.7 L976.7,456.2 L981.1,459.3 L984.9,455.6 L988.9,462.9 L992.2,458.9 L995.6,458.2 L1000.0,463.3 L1006.7,466.7 L1011.1,476.2 L1015.6,473.3 L1020.0,468.9 L1023.3,469.6" fill="none" stroke="#2460fb" stroke-width="2.4" stroke-linejoin="round" stroke-linecap="butt" />
<path d="M50.0,596.8 L58.1,599.4 L62.1,601.8 L74.2,603.8 L90.3,595.8 L98.4,591.7 L103.4,589.7 L110.5,593.7 L118.6,599.8 L127.7,605.4 L131.7,602.8 L135.7,596.2 L142.8,602.8 L149.8,606.9 L154.9,591.7 L157.9,592.1 L161.9,581.2 L167.0,584.7 L173.4,588.1 L177.1,534.2 L181.1,535.3 L185.1,545.3 L191.2,550.4 L196.2,555.4 L200.3,565.5 L205.3,567.9 L209.3,567.5 L217.4,574.6 L222.4,574.6 L226.5,561.5 L230.5,550.4 L238.6,556.4 L246.7,553.0 L250.1,554.4 L253.7,569.5 L261.8,575.6 L267.8,578.6 L273.9,585.7 L280.9,592.1 L285.0,590.1 L290.0,592.7 L291.1,593.7 L295.1,590.7 L300.2,593.7 L306.2,594.8 L314.3,598.2 L322.4,602.8 L333.4,605.8 L337.5,596.8 L341.5,603.8 L345.6,607.9 L352.2,609.9 L356.2,604.2 L360.3,605.8 L363.7,588.7 L367.7,586.7 L371.8,588.1 L378.4,593.3 L382.9,573.6 L386.9,576.6 L392.9,578.6 L398.0,580.6 L402.0,579.2 L406.1,582.7 L409.5,586.7 L413.1,577.2 L420.2,580.0 L424.8,575.2 L428.2,582.7 L432.9,588.3 L436.9,584.7 L441.4,585.3 L447.4,586.3 L455.5,593.1 L459.5,589.7 L465.6,592.1 L470.6,593.3 L474.6,595.8 L478.7,589.3 L483.7,593.3 L489.8,597.4 L497.4,600.8 L500.9,586.1 L504.9,585.3 L509.9,587.7 L516.0,589.7 L520.0,584.1 L520.5,583.3 L524.5,586.1 L529.2,581.2 L533.2,584.1 L539.2,585.7 L542.7,574.6 L546.9,571.6 L550.3,578.6 L561.4,584.7 L568.5,569.5 L573.5,564.1 L577.6,568.5 L581.0,570.6 L585.6,562.5 L589.7,567.1 L592.3,567.5 L596.3,560.1 L601.8,563.9 L607.8,567.9 L615.3,578.6 L619.9,563.5 L622.9,557.0 L626.6,559.5 L630.6,553.4 L634.4,542.3 L639.1,552.4 L644.1,559.1 L651.2,563.5 L659.3,572.6 L665.3,580.6 L669.3,590.7 L673.4,595.4 L676.4,596.2 L681.0,580.6 L684.5,557.4 L687.5,545.3 L691.5,547.8 L695.6,543.3 L699.2,543.3 L703.2,551.8 L707.3,540.9 L710.7,542.3 L717.7,535.3 L721.8,538.3 L725.8,535.3 L729.4,535.3 L733.5,521.1 L739.9,529.2 L744.4,533.6 L748.0,525.2 L750.0,525.2 L752.1,526.2 L756.1,543.3 L760.2,555.0 L767.2,557.8 L774.7,567.1 L779.3,564.5 L788.4,568.5 L793.4,573.6 L798.5,578.6 L804.5,571.6 L809.6,569.1 L813.6,566.5 L817.7,573.2 L821.7,563.5 L825.7,559.9 L828.7,561.9 L832.8,558.4 L836.8,561.5 L843.9,569.5 L847.9,575.6 L855.0,580.0 L861.0,583.7 L866.7,595.4 L870.7,593.7 L878.2,596.8 L882.2,586.7 L889.3,573.6 L893.7,568.5 L899.3,574.6 L904.4,577.6 L908.4,574.6 L912.4,567.5 L916.5,563.5 L920.5,567.5 L927.6,551.8 L931.2,557.0 L935.0,552.4 L938.7,561.5 L942.7,564.5 L946.7,565.1 L950.8,567.5 L953.8,570.6 L957.8,568.5 L961.9,571.2 L965.9,571.6 L969.9,564.5 L974.0,562.5 L977.6,556.4 L980.0,559.1 L990.0,570.2 L995.2,574.6 L1003.0,563.5 L1007.4,570.7 L1011.5,563.5 L1018.5,568.7 L1022.4,566.9" fill="none" stroke="#ff7d1e" stroke-width="1.05" stroke-linejoin="round" stroke-linecap="butt" />
<path d="M50.0,587.7 L56.1,589.3 L62.1,579.6 L66.1,575.6 L74.2,574.6 L90.3,585.7 L98.4,593.7 L104.5,597.8 L111.5,599.4 L116.6,585.7 L120.6,582.7 L124.2,575.6 L130.7,580.0 L135.7,582.0 L139.8,578.6 L143.8,569.5 L147.8,569.5 L154.9,576.0 L161.9,580.6 L166.0,583.7 L171.0,580.0 L174.0,585.7 L177.1,593.7 L181.1,597.8 L185.1,587.7 L192.2,591.7 L195.2,589.7 L200.3,565.5 L205.3,570.6 L211.4,576.6 L215.4,570.6 L220.4,572.6 L225.5,582.7 L231.5,589.7 L241.6,593.7 L249.7,599.8 L253.7,565.5 L261.8,554.4 L269.8,548.4 L276.3,538.3 L284.0,545.3 L290.0,547.4 L291.1,547.4 L295.7,552.4 L299.8,551.4 L307.2,556.4 L311.3,554.4 L317.9,563.5 L322.0,557.4 L326.4,562.1 L331.4,562.5 L337.5,567.9 L341.5,547.4 L345.6,555.4 L348.6,551.0 L356.2,557.0 L360.3,557.4 L364.7,565.5 L368.7,571.6 L371.8,573.2 L375.8,560.5 L378.8,562.5 L383.3,569.9 L387.9,573.6 L394.6,576.0 L398.6,573.6 L402.0,576.0 L406.1,576.0 L409.1,571.2 L412.7,581.2 L419.2,583.7 L424.8,587.3 L428.9,558.4 L432.3,565.5 L436.9,575.6 L443.4,578.0 L447.4,577.2 L451.4,569.5 L455.5,569.9 L459.5,574.2 L463.5,569.5 L467.6,569.5 L470.6,571.2 L474.6,567.9 L478.7,573.2 L482.7,577.6 L485.7,574.6 L489.8,557.4 L493.4,557.4 L497.4,550.4 L501.5,559.5 L508.9,566.5 L513.0,563.5 L516.0,564.5 L520.0,570.6 L525.1,576.6 L529.2,581.2 L533.2,580.6 L538.8,575.2 L543.3,580.6 L546.9,583.3 L550.3,565.9 L554.4,568.5 L558.4,567.1 L562.8,569.9 L568.5,578.6 L574.5,587.3 L580.6,587.7 L585.0,589.7 L588.7,590.7 L594.7,596.2 L599.8,598.8 L607.8,597.4 L610.8,585.7 L614.9,581.2 L621.9,587.7 L629.0,592.1 L634.0,596.8 L639.1,591.3 L643.1,591.3 L647.2,588.1 L650.2,589.3 L655.2,581.6 L660.3,567.5 L664.9,562.5 L669.3,531.2 L673.0,525.8 L676.4,528.2 L681.0,536.3 L685.5,553.4 L687.5,559.5 L695.6,564.5 L699.2,565.5 L703.2,554.4 L706.7,567.5 L710.7,575.6 L715.7,579.6 L721.8,582.0 L728.8,586.7 L733.9,591.7 L737.9,593.7 L741.9,592.1 L746.0,594.8 L750.0,597.8 L752.1,599.4 L756.1,583.3 L760.2,588.7 L768.2,590.7 L771.9,580.0 L779.3,585.7 L786.4,589.7 L790.4,583.7 L794.5,570.6 L798.5,562.5 L803.5,570.6 L808.6,572.6 L813.6,576.0 L817.7,570.6 L824.7,578.6 L830.8,581.6 L836.4,584.7 L840.8,575.2 L844.5,573.6 L847.9,560.5 L851.9,561.5 L859.0,559.9 L863.4,548.4 L866.7,541.3 L870.7,553.0 L877.2,557.8 L884.2,565.5 L890.3,575.2 L896.9,580.0 L901.4,572.6 L905.0,570.6 L910.4,577.6 L917.5,585.7 L922.5,587.3 L927.6,591.3 L931.6,590.1 L935.2,593.3 L939.3,568.5 L942.7,568.5 L950.8,573.6 L955.4,569.9 L960.9,573.6 L965.9,575.0 L974.0,580.6 L978.0,586.7 L980.0,587.7 L990.0,578.0 L995.2,579.8 L1003.0,587.6 L1007.4,585.0 L1013.3,590.2 L1018.5,589.4 L1022.4,592.0" fill="none" stroke="#3d6ffb" stroke-width="1.05" stroke-linejoin="round" stroke-linecap="butt" />
<path d="M50.0,573.2 L58.1,575.6 L64.1,572.6 L70.2,568.5 L76.2,570.6 L80.3,573.6 L90.3,580.6 L98.4,585.7 L106.5,588.7 L114.5,590.7 L120.6,587.7 L130.7,579.6 L136.7,578.6 L142.8,572.6 L150.8,565.1 L158.9,567.5 L167.0,574.6 L173.0,580.6 L181.1,569.5 L189.2,565.1 L195.2,562.5 L199.3,564.5 L207.3,572.6 L217.4,581.6 L224.5,586.1 L231.5,582.7 L241.6,574.6 L249.7,566.5 L253.7,570.6 L259.8,573.6 L267.8,573.6 L273.9,569.5 L281.9,562.5 L290.0,557.0 L300.2,553.0 L316.3,545.3 L333.4,533.6 L337.5,534.6 L344.5,528.2 L352.6,519.5 L360.3,516.1 L366.7,523.6 L371.8,529.2 L378.8,532.2 L384.9,542.3 L392.9,552.4 L401.0,561.1 L409.1,567.9 L417.2,575.6 L421.2,579.2 L427.2,579.6 L432.3,578.6 L441.4,583.3 L449.4,585.7 L457.5,583.7 L465.6,581.6 L473.6,578.0 L483.7,578.6 L491.8,571.6 L497.4,565.1 L505.9,566.5 L514.0,567.1 L520.0,566.5 L524.1,570.6 L532.2,580.0 L542.3,584.7 L553.4,587.7 L561.4,588.3 L568.5,591.7 L576.6,589.7 L583.6,587.7 L590.7,583.7 L598.7,576.6 L604.8,572.6 L608.8,571.2 L615.9,577.6 L625.0,574.6 L631.0,570.6 L637.1,565.5 L643.1,563.5 L651.2,563.1 L659.3,569.5 L664.3,572.2 L671.4,563.5 L677.4,557.0 L681.0,555.8 L687.5,562.5 L695.6,566.5 L702.6,572.2 L708.7,572.6 L715.7,569.1 L723.8,565.5 L731.9,559.5 L739.9,550.4 L750.0,540.3 L752.5,537.3 L760.2,538.3 L768.2,540.3 L775.3,547.4 L787.4,553.0 L794.5,559.5 L800.5,563.5 L806.6,570.6 L815.6,577.6 L822.7,581.6 L830.8,582.0 L836.8,581.2 L844.9,585.7 L852.9,586.7 L861.0,585.3 L867.1,577.6 L873.1,572.0 L879.2,568.5 L884.2,569.5 L891.3,574.6 L901.4,581.6 L908.4,586.7 L913.5,588.1 L921.5,586.7 L928.6,580.6 L934.6,576.0 L938.7,579.2 L949.8,585.7 L959.8,592.7 L965.9,596.2 L971.9,595.8 L980.0,591.3 L990.0,594.1 L996.5,596.7 L1005.6,594.1 L1014.6,590.2 L1022.4,586.3" fill="none" stroke="#f0326e" stroke-width="1.05" stroke-linejoin="round" stroke-linecap="butt" />
<rect x="0" y="343.5" width="1190" height="1.5" fill="#e3e6eb"/>
<rect x="0" y="503.3" width="1190" height="1.5" fill="#e3e6eb"/>
<rect x="0" y="620" width="1190" height="1" fill="#e3e6eb"/>
<rect x="0" y="641" width="1190" height="1" fill="#e3e6eb"/>
<rect x="49" y="0" width="1" height="641" fill="#e3e6eb"/>
<rect x="1147" y="0" width="1" height="641" fill="#e3e6eb"/>
<g transform="translate(79.3,591.1)"><circle r="19.2" fill="#fff" stroke="#e3e6ee" stroke-width="1"/><path d="M-12.2,-5.2 H-2.5 V6.2 H-7.4 V-1.2 H-12.2 Z M5.2,-5.2 H10.8 L6.7,6.2 H1.3 Z" fill="#131722"/><circle cx="0.9" cy="-3.1" r="2.1" fill="#131722"/></g>
<circle cx="24.7" cy="631" r="7.6" fill="#f0f3fa"/>
<circle cx="1173.5" cy="631" r="7.6" fill="#f0f3fa"/>
<circle cx="237.2" cy="12.8" r="6.4" fill="#d4efe9"/><circle cx="237.2" cy="12.8" r="3" fill="#089981"/>
<path d="M1173,9 l2.4,2.2 l2.4,-2.2" fill="none" stroke="#131722" stroke-width="1.1"/>
<rect x="57.5" y="118.3" width="21.5" height="14.5" rx="2" fill="#fff" stroke="#e0e3eb" stroke-width="1"/>
<path d="M65.3,127.2 l2.9,-2.9 l2.9,2.9" fill="none" stroke="#131722" stroke-width="1.2"/>
<rect x="57.5" y="388.2" width="21.5" height="14.5" rx="2" fill="#fff" stroke="#e0e3eb" stroke-width="1"/>
<path d="M65.3,397.09999999999997 l2.9,-2.9 l2.9,2.9" fill="none" stroke="#131722" stroke-width="1.2"/>
<rect x="1104" y="229" width="42" height="12.8" rx="1" fill="#ef5350"/>
<rect x="1147.5" y="229" width="43" height="23.8" fill="#ef5350"/>
</svg>
<span id="t0" class="t" style="left:56.32px;transform-origin:0 50%;top:13.64px;font-size:13.3px;color:#131722;transform:translateY(-50%) scale(0.9052,1.0);-webkit-text-stroke:0.3px currentColor;">Euro / U.S. Dollar · 4h · FXCM</span>
<span id="t1" class="t" style="left:256.28px;transform-origin:0 50%;top:15.20px;font-size:10.2px;color:#131722;transform:translateY(-50%) scale(0.9009,1.0);-webkit-text-stroke:0.12px currentColor;">O</span>
<span id="t2" class="t" style="left:264.88px;transform-origin:0 50%;top:15.20px;font-size:10.2px;color:#ef5350;transform:translateY(-50%) scale(0.9564,1.0);-webkit-text-stroke:0.12px currentColor;">1.06225</span>
<span id="t3" class="t" style="left:304.02px;transform-origin:0 50%;top:15.20px;font-size:10.2px;color:#131722;transform:translateY(-50%) scale(1.0097,1.0);-webkit-text-stroke:0.12px currentColor;">H</span>
<span id="t4" class="t" style="left:311.86px;transform-origin:0 50%;top:15.20px;font-size:10.2px;color:#ef5350;transform:translateY(-50%) scale(0.9826,1.0);-webkit-text-stroke:0.12px currentColor;">1.06275</span>
<span id="t5" class="t" style="left:352.20px;transform-origin:0 50%;top:15.20px;font-size:10.2px;color:#131722;transform:translateY(-50%) scale(0.9433,1.0);-webkit-text-stroke:0.12px currentColor;">L</span>
<span id="t6" class="t" style="left:358.31px;transform-origin:0 50%;top:15.20px;font-size:10.2px;color:#ef5350;transform:translateY(-50%) scale(0.9311,1.0);-webkit-text-stroke:0.12px currentColor;">1.06081</span>
<span id="t7" class="t" style="left:398.76px;transform-origin:0 50%;top:15.20px;font-size:10.2px;color:#131722;transform:translateY(-50%) scale(0.9000,1.0);-webkit-text-stroke:0.12px currentColor;">C</span>
<span id="t8" class="t" style="left:405.39px;transform-origin:0 50%;top:15.20px;font-size:10.2px;color:#ef5350;transform:translateY(-50%) scale(0.9877,1.0);-webkit-text-stroke:0.12px currentColor;">1.06092</span>
<span id="t9" class="t" style="left:445.84px;transform-origin:0 50%;top:15.20px;font-size:10.2px;color:#ef5350;transform:translateY(-50%) scale(0.9620,1.0);-webkit-text-stroke:0.12px currentColor;">−0.00133</span>
<span id="t10" class="t" style="left:490.29px;transform-origin:0 50%;top:15.20px;font-size:10.2px;color:#ef5350;transform:translateY(-50%) scale(0.9370,1.0);-webkit-text-stroke:0.12px currentColor;">(−0.13%)</span>
<span id="t11" class="t" style="left:56.36px;transform-origin:0 50%;top:32.80px;font-size:10.2px;color:#131722;transform:translateY(-50%) scale(1.0018,0.97);-webkit-text-stroke:0.12px currentColor;">Ichimoku 9 26 52 26</span>
<span id="t12" class="t" style="left:158.54px;transform-origin:0 50%;top:32.80px;font-size:10.2px;color:#089981;transform:translateY(-50%) scale(0.9577,0.97);-webkit-text-stroke:0.12px currentColor;">1.06315</span>
<span id="t13" class="t" style="left:199.42px;transform-origin:0 50%;top:32.80px;font-size:10.2px;color:#b71c1c;transform:translateY(-50%) scale(0.9741,0.97);-webkit-text-stroke:0.12px currentColor;">1.06517</span>
<span id="t14" class="t" style="left:239.70px;transform-origin:0 50%;top:32.80px;font-size:10.2px;color:#1848cc;transform:translateY(-50%) scale(0.9675,0.97);-webkit-text-stroke:0.12px currentColor;">1.06416</span>
<span id="t15" class="t" style="left:279.98px;transform-origin:0 50%;top:32.80px;font-size:10.2px;color:#f23645;transform:translateY(-50%) scale(0.9634,0.97);-webkit-text-stroke:0.12px currentColor;">1.07017</span>
<span id="t16" class="t" style="left:56.72px;transform-origin:0 50%;top:51.58px;font-size:10.2px;color:#131722;transform:translateY(-50%) scale(0.9614,0.97);-webkit-text-stroke:0.12px currentColor;">MA 200 close 0</span>
<span id="t17" class="t" style="left:134.99px;transform-origin:0 50%;top:51.58px;font-size:10.2px;color:#f23645;transform:translateY(-50%) scale(0.9653,0.97);-webkit-text-stroke:0.12px currentColor;">1.07839</span>
<span id="t18" class="t" style="left:57.01px;transform-origin:0 50%;top:70.60px;font-size:10.2px;color:#131722;transform:translateY(-50%) scale(0.9568,0.97);-webkit-text-stroke:0.12px currentColor;">EMA 55 close 0</span>
<span id="t19" class="t" style="left:134.92px;transform-origin:0 50%;top:70.60px;font-size:10.2px;color:#2196f3;transform:translateY(-50%) scale(0.9809,0.97);-webkit-text-stroke:0.12px currentColor;">1.06826</span>
<span id="t20" class="t" style="left:57.01px;transform-origin:0 50%;top:88.52px;font-size:10.2px;color:#131722;transform:translateY(-50%) scale(0.9573,0.97);-webkit-text-stroke:0.12px currentColor;">EMA 21 close 0</span>
<span id="t21" class="t" style="left:135.05px;transform-origin:0 50%;top:88.52px;font-size:10.2px;color:#26a69a;transform:translateY(-50%) scale(0.9726,0.97);-webkit-text-stroke:0.12px currentColor;">1.06470</span>
<span id="t22" class="t" style="left:56.75px;transform-origin:0 50%;top:107.58px;font-size:10.2px;color:#131722;transform:translateY(-50%) scale(0.9309,0.97);-webkit-text-stroke:0.12px currentColor;">EMA 200 close 0 SMA 5</span>
<span id="t23" class="t" style="left:168.98px;transform-origin:0 50%;top:107.58px;font-size:10.2px;color:#ff9800;transform:translateY(-50%) scale(0.9901,0.97);-webkit-text-stroke:0.12px currentColor;">1.07186</span>
<span id="t24" class="t" style="left:57.19px;transform-origin:0 50%;top:358.52px;font-size:10.2px;color:#131722;transform:translateY(-50%) scale(0.9352,0.97);-webkit-text-stroke:0.12px currentColor;">CCI 50 hlc3 SMA 5</span>
<span id="t25" class="t" style="left:147.13px;transform-origin:0 50%;top:358.52px;font-size:10.2px;color:#2962ff;transform:translateY(-50%) scale(0.9863,0.97);-webkit-text-stroke:0.12px currentColor;">−154.65</span>
<span id="t26" class="t" style="left:57.07px;transform-origin:0 50%;top:377.74px;font-size:10.2px;color:#131722;transform:translateY(-50%) scale(0.9352,0.97);-webkit-text-stroke:0.12px currentColor;">CCI 50 hlc3 SMA 5</span>
<span id="t27" class="t" style="left:147.16px;transform-origin:0 50%;top:377.74px;font-size:10.2px;color:#2962ff;transform:translateY(-50%) scale(0.9863,0.97);-webkit-text-stroke:0.12px currentColor;">−154.65</span>
<span id="t28" class="t" style="left:56.72px;transform-origin:0 50%;top:518.52px;font-size:10.2px;color:#131722;transform:translateY(-50%) scale(0.9459,0.97);-webkit-text-stroke:0.12px currentColor;">DMI 14 14</span>
<span id="t29" class="t" style="left:112.27px;transform-origin:0 50%;top:518.52px;font-size:10.2px;color:#f0326e;transform:translateY(-50%) scale(0.9582,0.97);-webkit-text-stroke:0.12px currentColor;">15.5614</span>
<span id="t30" class="t" style="left:153.42px;transform-origin:0 50%;top:518.52px;font-size:10.2px;color:#3d6ffb;transform:translateY(-50%) scale(0.9601,0.97);-webkit-text-stroke:0.12px currentColor;">13.6424</span>
<span id="t31" class="t" style="left:192.24px;transform-origin:0 50%;top:518.52px;font-size:10.2px;color:#ff7d1e;transform:translateY(-50%) scale(0.9657,0.97);-webkit-text-stroke:0.12px currentColor;">22.5721</span>
<span id="t32" class="t" style="left:1156.20px;transform-origin:0 50%;top:27.51px;font-size:10.2px;color:#131722;transform:translateY(-50%) scale(0.8921,0.97);-webkit-text-stroke:0.12px currentColor;">1.10500</span>
<span id="t33" class="t" style="left:1156.20px;transform-origin:0 50%;top:51.58px;font-size:10.2px;color:#131722;transform:translateY(-50%) scale(0.8921,0.97);-webkit-text-stroke:0.12px currentColor;">1.10000</span>
<span id="t34" class="t" style="left:1155.77px;transform-origin:0 50%;top:75.67px;font-size:10.2px;color:#131722;transform:translateY(-50%) scale(0.8916,0.97);-webkit-text-stroke:0.12px currentColor;">1.09500</span>
<span id="t35" class="t" style="left:1156.19px;transform-origin:0 50%;top:98.53px;font-size:10.2px;color:#131722;transform:translateY(-50%) scale(0.8916,0.97);-webkit-text-stroke:0.12px currentColor;">1.09000</span>
<span id="t36" class="t" style="left:1156.19px;transform-origin:0 50%;top:122.60px;font-size:10.2px;color:#131722;transform:translateY(-50%) scale(0.8916,0.97);-webkit-text-stroke:0.12px currentColor;">1.08500</span>
<span id="t37" class="t" style="left:1155.77px;transform-origin:0 50%;top:146.71px;font-size:10.2px;color:#131722;transform:translateY(-50%) scale(0.8916,0.97);-webkit-text-stroke:0.12px currentColor;">1.08000</span>
<span id="t38" class="t" style="left:1156.19px;transform-origin:0 50%;top:169.54px;font-size:10.2px;color:#131722;transform:translateY(-50%) scale(0.8916,0.97);-webkit-text-stroke:0.12px currentColor;">1.07500</span>
<span id="t39" class="t" style="left:1156.19px;transform-origin:0 50%;top:193.61px;font-size:10.2px;color:#131722;transform:translateY(-50%) scale(0.8916,0.97);-webkit-text-stroke:0.12px currentColor;">1.07000</span>
<span id="t40" class="t" style="left:1155.77px;transform-origin:0 50%;top:217.75px;font-size:10.2px;color:#131722;transform:translateY(-50%) scale(0.8916,0.97);-webkit-text-stroke:0.12px currentColor;">1.06500</span>
<span id="t41" class="t" style="left:1155.98px;transform-origin:0 50%;top:264.56px;font-size:10.2px;color:#131722;transform:translateY(-50%) scale(0.8916,0.97);-webkit-text-stroke:0.12px currentColor;">1.05500</span>
<span id="t42" class="t" style="left:1155.77px;transform-origin:0 50%;top:288.76px;font-size:10.2px;color:#131722;transform:translateY(-50%) scale(0.8916,0.97);-webkit-text-stroke:0.12px currentColor;">1.05000</span>
<span id="t43" class="t" style="left:1156.19px;transform-origin:0 50%;top:311.57px;font-size:10.2px;color:#131722;transform:translateY(-50%) scale(0.8916,0.97);-webkit-text-stroke:0.12px currentColor;">1.04500</span>
<span id="t44" class="t" style="left:1155.98px;transform-origin:0 50%;top:335.59px;font-size:10.2px;color:#131722;transform:translateY(-50%) scale(0.8916,0.97);-webkit-text-stroke:0.12px currentColor;">1.04000</span>
<span id="t45" class="t" style="left:1154.33px;transform-origin:0 50%;top:11.50px;font-size:10.2px;color:#131722;transform:translateY(-50%) scale(0.7995,0.97);-webkit-text-stroke:0.12px currentColor;">USD</span>
<span id="t46" class="t" style="left:1155.98px;transform-origin:0 50%;top:236.98px;font-size:10.2px;color:#fff;transform:translateY(-50%) scale(0.8952,0.97);-webkit-text-stroke:0.12px currentColor;">1.06092</span>
<span id="t47" class="t" style="left:1154.82px;transform-origin:0 50%;top:247.51px;font-size:10.2px;color:#fff;transform:translateY(-50%) scale(0.9349,0.97);-webkit-text-stroke:0.12px currentColor;">01:50:17</span>
<span id="t48" class="t" style="left:1107.96px;transform-origin:0 50%;top:236.98px;font-size:10.2px;color:#fff;transform:translateY(-50%) scale(0.8029,0.97);-webkit-text-stroke:0.12px currentColor;">EURUSD</span>
<span id="t49" class="t" style="left:1155.49px;transform-origin:0 50%;top:367.67px;font-size:10.2px;color:#131722;transform:translateY(-50%) scale(0.9270,0.97);-webkit-text-stroke:0.12px currentColor;">400.00</span>
<span id="t50" class="t" style="right:1147.68px;transform-origin:100% 50%;top:367.67px;font-size:10.2px;color:#131722;transform:translateY(-50%) scale(0.9240,0.97);-webkit-text-stroke:0.12px currentColor;">400.00</span>
<span id="t51" class="t" style="left:1155.40px;transform-origin:0 50%;top:404.83px;font-size:10.2px;color:#131722;transform:translateY(-50%) scale(0.9303,0.97);-webkit-text-stroke:0.12px currentColor;">200.00</span>
<span id="t52" class="t" style="right:1147.62px;transform-origin:100% 50%;top:404.83px;font-size:10.2px;color:#131722;transform:translateY(-50%) scale(0.9366,0.97);-webkit-text-stroke:0.12px currentColor;">200.00</span>
<span id="t53" class="t" style="left:1155.20px;transform-origin:0 50%;top:442.52px;font-size:10.2px;color:#131722;transform:translateY(-50%) scale(0.9679,0.97);-webkit-text-stroke:0.12px currentColor;">0.00</span>
<span id="t54" class="t" style="right:1147.35px;transform-origin:100% 50%;top:442.52px;font-size:10.2px;color:#131722;transform:translateY(-50%) scale(0.9586,0.97);-webkit-text-stroke:0.12px currentColor;">0.00</span>
<span id="t55" class="t" style="left:1155.41px;transform-origin:0 50%;top:479.52px;font-size:10.2px;color:#131722;transform:translateY(-50%) scale(0.9538,0.97);-webkit-text-stroke:0.12px currentColor;">−200.00</span>
<span id="t56" class="t" style="right:1147.28px;transform-origin:100% 50%;top:479.52px;font-size:10.2px;color:#131722;transform:translateY(-50%) scale(0.9385,0.97);-webkit-text-stroke:0.12px currentColor;">−200.00</span>
<span id="t57" class="t" style="left:1155.49px;transform-origin:0 50%;top:519.67px;font-size:10.2px;color:#131722;transform:translateY(-50%) scale(0.9127,0.97);-webkit-text-stroke:0.12px currentColor;">40.0000</span>
<span id="t58" class="t" style="left:1155.37px;transform-origin:0 50%;top:547.51px;font-size:10.2px;color:#131722;transform:translateY(-50%) scale(0.9175,0.97);-webkit-text-stroke:0.12px currentColor;">30.0000</span>
<span id="t59" class="t" style="left:1155.23px;transform-origin:0 50%;top:575.77px;font-size:10.2px;color:#131722;transform:translateY(-50%) scale(0.9202,0.97);-webkit-text-stroke:0.12px currentColor;">20.0000</span>
<span id="t60" class="t" style="left:1155.98px;transform-origin:0 50%;top:603.94px;font-size:10.2px;color:#131722;transform:translateY(-50%) scale(0.9101,0.97);-webkit-text-stroke:0.12px currentColor;">10.0000</span>
<span id="t61" class="t" style="left:154.60px;transform-origin:0 50%;top:632.51px;font-size:10.2px;color:#131722;transform:translateY(-50%) scale(0.9626,0.97) translateX(-50%);-webkit-text-stroke:0.12px currentColor;font-weight:bold;">2023</span>
<span id="t62" class="t" style="left:265.78px;transform-origin:0 50%;top:632.51px;font-size:10.2px;color:#131722;transform:translateY(-50%) scale(0.9762,0.97) translateX(-50%);-webkit-text-stroke:0.12px currentColor;">9</span>
<span id="t63" class="t" style="left:379.90px;transform-origin:0 50%;top:632.51px;font-size:10.2px;color:#131722;transform:translateY(-50%) scale(0.9815,0.97) translateX(-50%);-webkit-text-stroke:0.12px currentColor;">16</span>
<span id="t64" class="t" style="left:494.34px;transform-origin:0 50%;top:632.51px;font-size:10.2px;color:#131722;transform:translateY(-50%) scale(0.9389,0.97) translateX(-50%);-webkit-text-stroke:0.12px currentColor;">23</span>
<span id="t65" class="t" style="left:562.64px;transform-origin:0 50%;top:632.51px;font-size:10.2px;color:#131722;transform:translateY(-50%) scale(0.9394,0.97) translateX(-50%);-webkit-text-stroke:0.12px currentColor;">26</span>
<span id="t66" class="t" style="left:653.74px;transform-origin:0 50%;top:632.51px;font-size:10.2px;color:#131722;transform:translateY(-50%) scale(0.9450,0.97) translateX(-50%);-webkit-text-stroke:0.12px currentColor;">Feb</span>
<span id="t67" class="t" style="left:722.30px;transform-origin:0 50%;top:632.51px;font-size:10.2px;color:#131722;transform:translateY(-50%) scale(0.9894,0.97) translateX(-50%);-webkit-text-stroke:0.12px currentColor;">6</span>
<span id="t68" class="t" style="left:836.71px;transform-origin:0 50%;top:632.51px;font-size:10.2px;color:#131722;transform:translateY(-50%) scale(0.9692,0.97) translateX(-50%);-webkit-text-stroke:0.12px currentColor;">13</span>
<span id="t69" class="t" style="left:951.14px;transform-origin:0 50%;top:632.51px;font-size:10.2px;color:#131722;transform:translateY(-50%) scale(0.9247,0.97) translateX(-50%);-webkit-text-stroke:0.12px currentColor;">20</span>
<span id="t70" class="t" style="left:1019.62px;transform-origin:0 50%;top:632.51px;font-size:10.2px;color:#131722;transform:translateY(-50%) scale(0.9389,0.97) translateX(-50%);-webkit-text-stroke:0.12px currentColor;">23</span>
<span id="t71" class="t" style="left:1110.58px;transform-origin:0 50%;top:632.51px;font-size:10.2px;color:#131722;transform:translateY(-50%) scale(0.9764,0.97) translateX(-50%);-webkit-text-stroke:0.12px currentColor;">Mar</span>
<span id="t72" class="t" style="left:24.50px;transform-origin:0 50%;top:631.60px;font-size:9px;color:#50535e;transform:translateY(-50%) scale(0.9186,0.97) translateX(-50%);-webkit-text-stroke:0.12px currentColor;">Z</span>
<span id="t73" class="t" style="left:1173.62px;transform-origin:0 50%;top:631.60px;font-size:9px;color:#50535e;transform:translateY(-50%) scale(0.8930,0.97) translateX(-50%);-webkit-text-stroke:0.12px currentColor;">A</span>
</body></html>
